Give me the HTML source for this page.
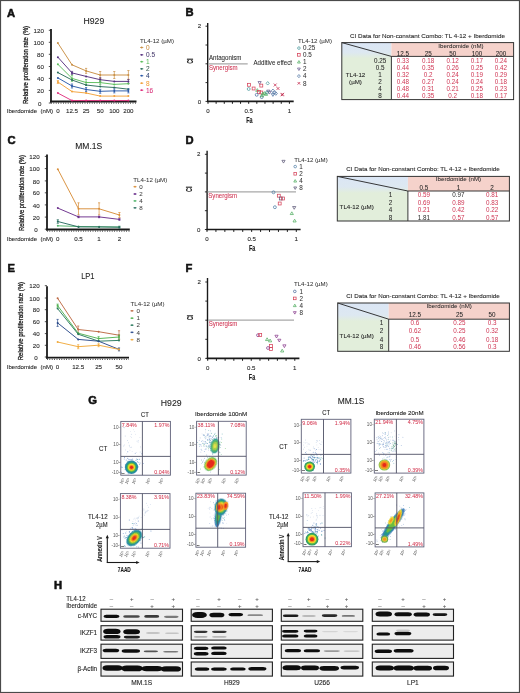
<!DOCTYPE html>
<html><head><meta charset="utf-8"><style>
html,body{margin:0;padding:0;background:#fff;}
svg{display:block;font-family:"Liberation Sans", sans-serif;}
</style></head><body>
<div style="will-change:transform;width:520px;height:693px;filter:blur(0.35px)"><svg width="520" height="693" viewBox="0 0 520 693">
<rect x="0.5" y="0.5" width="519" height="692" fill="#fff" stroke="#4a4a4a" stroke-width="1.2"/>
<text x="7.00" y="16.63" font-size="11.2" font-weight="bold" fill="#111" stroke="#111" stroke-width="0.55">A</text>
<text x="185.50" y="16.03" font-size="11.2" font-weight="bold" fill="#111" stroke="#111" stroke-width="0.55">B</text>
<text x="7.40" y="144.33" font-size="11.2" font-weight="bold" fill="#111" stroke="#111" stroke-width="0.55">C</text>
<text x="185.50" y="144.33" font-size="11.2" font-weight="bold" fill="#111" stroke="#111" stroke-width="0.55">D</text>
<text x="7.40" y="271.83" font-size="11.2" font-weight="bold" fill="#111" stroke="#111" stroke-width="0.55">E</text>
<text x="185.50" y="271.83" font-size="11.2" font-weight="bold" fill="#111" stroke="#111" stroke-width="0.55">F</text>
<text x="88.20" y="403.53" font-size="11.2" font-weight="bold" fill="#111" stroke="#111" stroke-width="0.55">G</text>
<text x="53.90" y="588.53" font-size="11.2" font-weight="bold" fill="#111" stroke="#111" stroke-width="0.55">H</text>
<line x1="51.00" y1="29.00" x2="51.00" y2="102.50" stroke="#1a1a1a" stroke-width="1.8"/>
<line x1="50.00" y1="101.50" x2="136.50" y2="101.50" stroke="#1a1a1a" stroke-width="1.8"/>
<line x1="51.00" y1="103.10" x2="136.50" y2="103.10" stroke="#333" stroke-width="1.2" stroke-dasharray="0.8 1.6"/>
<line x1="48.80" y1="103.00" x2="51.00" y2="103.00" stroke="#222" stroke-width="0.8"/>
<text x="39.80" y="105.63" font-size="6.2" text-anchor="middle" fill="#2a2a2a" stroke="#2a2a2a" stroke-width="0.1">0</text>
<line x1="48.80" y1="90.40" x2="51.00" y2="90.40" stroke="#222" stroke-width="0.8"/>
<text x="43.90" y="93.03" font-size="6.2" text-anchor="end" fill="#2a2a2a" stroke="#2a2a2a" stroke-width="0.1">20</text>
<line x1="48.80" y1="78.40" x2="51.00" y2="78.40" stroke="#222" stroke-width="0.8"/>
<text x="43.90" y="81.03" font-size="6.2" text-anchor="end" fill="#2a2a2a" stroke="#2a2a2a" stroke-width="0.1">40</text>
<line x1="48.80" y1="66.50" x2="51.00" y2="66.50" stroke="#222" stroke-width="0.8"/>
<text x="43.90" y="69.13" font-size="6.2" text-anchor="end" fill="#2a2a2a" stroke="#2a2a2a" stroke-width="0.1">60</text>
<line x1="48.80" y1="54.30" x2="51.00" y2="54.30" stroke="#222" stroke-width="0.8"/>
<text x="43.90" y="56.93" font-size="6.2" text-anchor="end" fill="#2a2a2a" stroke="#2a2a2a" stroke-width="0.1">80</text>
<line x1="48.80" y1="42.30" x2="51.00" y2="42.30" stroke="#222" stroke-width="0.8"/>
<text x="43.90" y="44.93" font-size="6.2" text-anchor="end" fill="#2a2a2a" stroke="#2a2a2a" stroke-width="0.1">100</text>
<line x1="48.80" y1="30.30" x2="51.00" y2="30.30" stroke="#222" stroke-width="0.8"/>
<text x="43.90" y="32.93" font-size="6.2" text-anchor="end" fill="#2a2a2a" stroke="#2a2a2a" stroke-width="0.1">120</text>
<text x="0" y="2.52" font-size="7.0" text-anchor="middle" fill="#161616" transform="translate(25.00,65.00) rotate(-90)" stroke="#161616" stroke-width="0.25" textLength="78" lengthAdjust="spacingAndGlyphs">Relative proliferation rate (%)</text>
<text x="6.70" y="113.23" font-size="6.2" fill="#2a2a2a" stroke="#2a2a2a" stroke-width="0.1" textLength="46.3" lengthAdjust="spacingAndGlyphs">Iberdomide&#160;&#160;(nM)</text>
<text x="57.90" y="113.23" font-size="6.2" text-anchor="middle" fill="#2a2a2a" stroke="#2a2a2a" stroke-width="0.1">0</text>
<text x="72.00" y="113.23" font-size="6.2" text-anchor="middle" fill="#2a2a2a" stroke="#2a2a2a" stroke-width="0.1">12.5</text>
<text x="86.10" y="113.23" font-size="6.2" text-anchor="middle" fill="#2a2a2a" stroke="#2a2a2a" stroke-width="0.1">25</text>
<text x="100.20" y="113.23" font-size="6.2" text-anchor="middle" fill="#2a2a2a" stroke="#2a2a2a" stroke-width="0.1">50</text>
<text x="114.30" y="113.23" font-size="6.2" text-anchor="middle" fill="#2a2a2a" stroke="#2a2a2a" stroke-width="0.1">100</text>
<text x="128.40" y="113.23" font-size="6.2" text-anchor="middle" fill="#2a2a2a" stroke="#2a2a2a" stroke-width="0.1">200</text>
<text x="93.85" y="23.79" font-size="9.0" text-anchor="middle" fill="#1e1e1e" stroke="#1e1e1e" stroke-width="0.1" textLength="20.7" lengthAdjust="spacingAndGlyphs">H929</text>
<polyline points="57.90,43.10 72.00,64.80 86.10,70.90 100.20,75.00 114.30,75.00 128.40,75.00" fill="none" stroke="#c98f44" stroke-width="0.95"/>
<circle cx="57.90" cy="43.10" r="1.00" fill="#c98f44"/>
<circle cx="72.00" cy="64.80" r="1.00" fill="#c98f44"/>
<line x1="86.10" y1="68.40" x2="86.10" y2="73.40" stroke="#c98f44" stroke-width="0.7"/>
<line x1="85.00" y1="68.40" x2="87.20" y2="68.40" stroke="#c98f44" stroke-width="0.7"/>
<line x1="85.00" y1="73.40" x2="87.20" y2="73.40" stroke="#c98f44" stroke-width="0.7"/>
<circle cx="86.10" cy="70.90" r="1.00" fill="#c98f44"/>
<line x1="100.20" y1="71.50" x2="100.20" y2="78.50" stroke="#c98f44" stroke-width="0.7"/>
<line x1="99.10" y1="71.50" x2="101.30" y2="71.50" stroke="#c98f44" stroke-width="0.7"/>
<line x1="99.10" y1="78.50" x2="101.30" y2="78.50" stroke="#c98f44" stroke-width="0.7"/>
<circle cx="100.20" cy="75.00" r="1.00" fill="#c98f44"/>
<line x1="114.30" y1="71.50" x2="114.30" y2="78.50" stroke="#c98f44" stroke-width="0.7"/>
<line x1="113.20" y1="71.50" x2="115.40" y2="71.50" stroke="#c98f44" stroke-width="0.7"/>
<line x1="113.20" y1="78.50" x2="115.40" y2="78.50" stroke="#c98f44" stroke-width="0.7"/>
<circle cx="114.30" cy="75.00" r="1.00" fill="#c98f44"/>
<line x1="128.40" y1="70.50" x2="128.40" y2="79.50" stroke="#c98f44" stroke-width="0.7"/>
<line x1="127.30" y1="70.50" x2="129.50" y2="70.50" stroke="#c98f44" stroke-width="0.7"/>
<line x1="127.30" y1="79.50" x2="129.50" y2="79.50" stroke="#c98f44" stroke-width="0.7"/>
<circle cx="128.40" cy="75.00" r="1.00" fill="#c98f44"/>
<polyline points="57.90,57.20 72.00,72.90 86.10,76.40 100.20,79.70 114.30,81.40 128.40,81.40" fill="none" stroke="#55307e" stroke-width="0.95"/>
<circle cx="57.90" cy="57.20" r="1.00" fill="#55307e"/>
<line x1="72.00" y1="71.40" x2="72.00" y2="74.40" stroke="#55307e" stroke-width="0.7"/>
<line x1="70.90" y1="71.40" x2="73.10" y2="71.40" stroke="#55307e" stroke-width="0.7"/>
<line x1="70.90" y1="74.40" x2="73.10" y2="74.40" stroke="#55307e" stroke-width="0.7"/>
<circle cx="72.00" cy="72.90" r="1.00" fill="#55307e"/>
<circle cx="86.10" cy="76.40" r="1.00" fill="#55307e"/>
<line x1="100.20" y1="77.70" x2="100.20" y2="81.70" stroke="#55307e" stroke-width="0.7"/>
<line x1="99.10" y1="77.70" x2="101.30" y2="77.70" stroke="#55307e" stroke-width="0.7"/>
<line x1="99.10" y1="81.70" x2="101.30" y2="81.70" stroke="#55307e" stroke-width="0.7"/>
<circle cx="100.20" cy="79.70" r="1.00" fill="#55307e"/>
<circle cx="114.30" cy="81.40" r="1.00" fill="#55307e"/>
<line x1="128.40" y1="79.40" x2="128.40" y2="83.40" stroke="#55307e" stroke-width="0.7"/>
<line x1="127.30" y1="79.40" x2="129.50" y2="79.40" stroke="#55307e" stroke-width="0.7"/>
<line x1="127.30" y1="83.40" x2="129.50" y2="83.40" stroke="#55307e" stroke-width="0.7"/>
<circle cx="128.40" cy="81.40" r="1.00" fill="#55307e"/>
<polyline points="57.90,64.30 72.00,78.40 86.10,82.50 100.20,82.60 114.30,84.40 128.40,83.70" fill="none" stroke="#5cbd5c" stroke-width="0.95"/>
<circle cx="57.90" cy="64.30" r="1.00" fill="#5cbd5c"/>
<line x1="72.00" y1="75.40" x2="72.00" y2="81.40" stroke="#5cbd5c" stroke-width="0.7"/>
<line x1="70.90" y1="75.40" x2="73.10" y2="75.40" stroke="#5cbd5c" stroke-width="0.7"/>
<line x1="70.90" y1="81.40" x2="73.10" y2="81.40" stroke="#5cbd5c" stroke-width="0.7"/>
<circle cx="72.00" cy="78.40" r="1.00" fill="#5cbd5c"/>
<line x1="86.10" y1="79.50" x2="86.10" y2="85.50" stroke="#5cbd5c" stroke-width="0.7"/>
<line x1="85.00" y1="79.50" x2="87.20" y2="79.50" stroke="#5cbd5c" stroke-width="0.7"/>
<line x1="85.00" y1="85.50" x2="87.20" y2="85.50" stroke="#5cbd5c" stroke-width="0.7"/>
<circle cx="86.10" cy="82.50" r="1.00" fill="#5cbd5c"/>
<line x1="100.20" y1="80.60" x2="100.20" y2="84.60" stroke="#5cbd5c" stroke-width="0.7"/>
<line x1="99.10" y1="80.60" x2="101.30" y2="80.60" stroke="#5cbd5c" stroke-width="0.7"/>
<line x1="99.10" y1="84.60" x2="101.30" y2="84.60" stroke="#5cbd5c" stroke-width="0.7"/>
<circle cx="100.20" cy="82.60" r="1.00" fill="#5cbd5c"/>
<circle cx="114.30" cy="84.40" r="1.00" fill="#5cbd5c"/>
<circle cx="128.40" cy="83.70" r="1.00" fill="#5cbd5c"/>
<polyline points="57.90,72.60 72.00,80.00 86.10,85.00 100.20,86.60 114.30,87.50 128.40,89.20" fill="none" stroke="#2c6e5c" stroke-width="0.95"/>
<circle cx="57.90" cy="72.60" r="1.00" fill="#2c6e5c"/>
<circle cx="72.00" cy="80.00" r="1.00" fill="#2c6e5c"/>
<circle cx="86.10" cy="85.00" r="1.00" fill="#2c6e5c"/>
<circle cx="100.20" cy="86.60" r="1.00" fill="#2c6e5c"/>
<circle cx="114.30" cy="87.50" r="1.00" fill="#2c6e5c"/>
<circle cx="128.40" cy="89.20" r="1.00" fill="#2c6e5c"/>
<polyline points="57.90,77.90 72.00,86.00 86.10,89.50 100.20,91.30 114.30,90.90 128.40,90.90" fill="none" stroke="#2a58a6" stroke-width="0.95"/>
<circle cx="57.90" cy="77.90" r="1.00" fill="#2a58a6"/>
<line x1="72.00" y1="84.00" x2="72.00" y2="88.00" stroke="#2a58a6" stroke-width="0.7"/>
<line x1="70.90" y1="84.00" x2="73.10" y2="84.00" stroke="#2a58a6" stroke-width="0.7"/>
<line x1="70.90" y1="88.00" x2="73.10" y2="88.00" stroke="#2a58a6" stroke-width="0.7"/>
<circle cx="72.00" cy="86.00" r="1.00" fill="#2a58a6"/>
<line x1="86.10" y1="87.50" x2="86.10" y2="91.50" stroke="#2a58a6" stroke-width="0.7"/>
<line x1="85.00" y1="87.50" x2="87.20" y2="87.50" stroke="#2a58a6" stroke-width="0.7"/>
<line x1="85.00" y1="91.50" x2="87.20" y2="91.50" stroke="#2a58a6" stroke-width="0.7"/>
<circle cx="86.10" cy="89.50" r="1.00" fill="#2a58a6"/>
<line x1="100.20" y1="89.30" x2="100.20" y2="93.30" stroke="#2a58a6" stroke-width="0.7"/>
<line x1="99.10" y1="89.30" x2="101.30" y2="89.30" stroke="#2a58a6" stroke-width="0.7"/>
<line x1="99.10" y1="93.30" x2="101.30" y2="93.30" stroke="#2a58a6" stroke-width="0.7"/>
<circle cx="100.20" cy="91.30" r="1.00" fill="#2a58a6"/>
<line x1="114.30" y1="88.90" x2="114.30" y2="92.90" stroke="#2a58a6" stroke-width="0.7"/>
<line x1="113.20" y1="88.90" x2="115.40" y2="88.90" stroke="#2a58a6" stroke-width="0.7"/>
<line x1="113.20" y1="92.90" x2="115.40" y2="92.90" stroke="#2a58a6" stroke-width="0.7"/>
<circle cx="114.30" cy="90.90" r="1.00" fill="#2a58a6"/>
<line x1="128.40" y1="88.90" x2="128.40" y2="92.90" stroke="#2a58a6" stroke-width="0.7"/>
<line x1="127.30" y1="88.90" x2="129.50" y2="88.90" stroke="#2a58a6" stroke-width="0.7"/>
<line x1="127.30" y1="92.90" x2="129.50" y2="92.90" stroke="#2a58a6" stroke-width="0.7"/>
<circle cx="128.40" cy="90.90" r="1.00" fill="#2a58a6"/>
<polyline points="57.90,82.00 72.00,91.60 86.10,93.00 100.20,96.10 114.30,96.10 128.40,96.10" fill="none" stroke="#f2a23c" stroke-width="0.95"/>
<line x1="57.90" y1="80.50" x2="57.90" y2="83.50" stroke="#f2a23c" stroke-width="0.7"/>
<line x1="56.80" y1="80.50" x2="59.00" y2="80.50" stroke="#f2a23c" stroke-width="0.7"/>
<line x1="56.80" y1="83.50" x2="59.00" y2="83.50" stroke="#f2a23c" stroke-width="0.7"/>
<circle cx="57.90" cy="82.00" r="1.00" fill="#f2a23c"/>
<circle cx="72.00" cy="91.60" r="1.00" fill="#f2a23c"/>
<circle cx="86.10" cy="93.00" r="1.00" fill="#f2a23c"/>
<circle cx="100.20" cy="96.10" r="1.00" fill="#f2a23c"/>
<circle cx="114.30" cy="96.10" r="1.00" fill="#f2a23c"/>
<circle cx="128.40" cy="96.10" r="1.00" fill="#f2a23c"/>
<polyline points="57.90,93.10 72.00,100.60 86.10,100.60 100.20,100.60 114.30,100.60 128.40,100.60" fill="none" stroke="#e0317e" stroke-width="0.95"/>
<circle cx="57.90" cy="93.10" r="1.00" fill="#e0317e"/>
<circle cx="72.00" cy="100.60" r="1.00" fill="#e0317e"/>
<circle cx="86.10" cy="100.60" r="1.00" fill="#e0317e"/>
<circle cx="100.20" cy="100.60" r="1.00" fill="#e0317e"/>
<circle cx="114.30" cy="100.60" r="1.00" fill="#e0317e"/>
<circle cx="128.40" cy="100.60" r="1.00" fill="#e0317e"/>
<text x="140.00" y="42.80" font-size="6.1" fill="#333" stroke="#333" stroke-width="0.04" textLength="34" lengthAdjust="spacingAndGlyphs">TL4-12 (&#181;M)</text>
<line x1="140.10" y1="47.50" x2="143.30" y2="47.50" stroke="#c98f44" stroke-width="0.8"/>
<circle cx="141.70" cy="47.50" r="0.90" fill="#c98f44"/>
<text x="146.00" y="49.84" font-size="6.5" fill="#c98f44" stroke="#c98f44" stroke-width="0.06">0</text>
<line x1="140.10" y1="54.80" x2="143.30" y2="54.80" stroke="#55307e" stroke-width="0.8"/>
<circle cx="141.70" cy="54.80" r="0.90" fill="#55307e"/>
<text x="146.00" y="57.14" font-size="6.5" fill="#4a3d6e" stroke="#4a3d6e" stroke-width="0.06">0.5</text>
<line x1="140.10" y1="61.70" x2="143.30" y2="61.70" stroke="#5cbd5c" stroke-width="0.8"/>
<circle cx="141.70" cy="61.70" r="0.90" fill="#5cbd5c"/>
<text x="146.00" y="64.04" font-size="6.5" fill="#5cbd5c" stroke="#5cbd5c" stroke-width="0.06">1</text>
<line x1="140.10" y1="68.80" x2="143.30" y2="68.80" stroke="#2c6e5c" stroke-width="0.8"/>
<circle cx="141.70" cy="68.80" r="0.90" fill="#2c6e5c"/>
<text x="146.00" y="71.14" font-size="6.5" fill="#3f5d54" stroke="#3f5d54" stroke-width="0.06">2</text>
<line x1="140.10" y1="75.70" x2="143.30" y2="75.70" stroke="#2a58a6" stroke-width="0.8"/>
<circle cx="141.70" cy="75.70" r="0.90" fill="#2a58a6"/>
<text x="146.00" y="78.04" font-size="6.5" fill="#2a3d70" stroke="#2a3d70" stroke-width="0.06">4</text>
<line x1="140.10" y1="83.20" x2="143.30" y2="83.20" stroke="#f2a23c" stroke-width="0.8"/>
<circle cx="141.70" cy="83.20" r="0.90" fill="#f2a23c"/>
<text x="146.00" y="85.54" font-size="6.5" fill="#f2a23c" stroke="#f2a23c" stroke-width="0.06">8</text>
<line x1="140.10" y1="90.20" x2="143.30" y2="90.20" stroke="#e0317e" stroke-width="0.8"/>
<circle cx="141.70" cy="90.20" r="0.90" fill="#e0317e"/>
<text x="146.00" y="92.54" font-size="6.5" fill="#d8317a" stroke="#d8317a" stroke-width="0.06">16</text>
<line x1="47.00" y1="154.50" x2="47.00" y2="230.50" stroke="#1a1a1a" stroke-width="1.8"/>
<line x1="46.00" y1="229.50" x2="129.80" y2="229.50" stroke="#1a1a1a" stroke-width="1.8"/>
<line x1="47.00" y1="231.10" x2="129.80" y2="231.10" stroke="#333" stroke-width="1.2" stroke-dasharray="0.8 1.6"/>
<line x1="44.80" y1="229.20" x2="47.00" y2="229.20" stroke="#222" stroke-width="0.8"/>
<text x="36.10" y="231.83" font-size="6.2" text-anchor="middle" fill="#2a2a2a" stroke="#2a2a2a" stroke-width="0.1">0</text>
<line x1="44.80" y1="217.10" x2="47.00" y2="217.10" stroke="#222" stroke-width="0.8"/>
<text x="39.70" y="219.73" font-size="6.2" text-anchor="end" fill="#2a2a2a" stroke="#2a2a2a" stroke-width="0.1">20</text>
<line x1="44.80" y1="204.90" x2="47.00" y2="204.90" stroke="#222" stroke-width="0.8"/>
<text x="39.70" y="207.53" font-size="6.2" text-anchor="end" fill="#2a2a2a" stroke="#2a2a2a" stroke-width="0.1">40</text>
<line x1="44.80" y1="192.80" x2="47.00" y2="192.80" stroke="#222" stroke-width="0.8"/>
<text x="39.70" y="195.43" font-size="6.2" text-anchor="end" fill="#2a2a2a" stroke="#2a2a2a" stroke-width="0.1">60</text>
<line x1="44.80" y1="180.90" x2="47.00" y2="180.90" stroke="#222" stroke-width="0.8"/>
<text x="39.70" y="183.53" font-size="6.2" text-anchor="end" fill="#2a2a2a" stroke="#2a2a2a" stroke-width="0.1">80</text>
<line x1="44.80" y1="168.60" x2="47.00" y2="168.60" stroke="#222" stroke-width="0.8"/>
<text x="39.70" y="171.23" font-size="6.2" text-anchor="end" fill="#2a2a2a" stroke="#2a2a2a" stroke-width="0.1">100</text>
<line x1="44.80" y1="156.40" x2="47.00" y2="156.40" stroke="#222" stroke-width="0.8"/>
<text x="39.70" y="159.03" font-size="6.2" text-anchor="end" fill="#2a2a2a" stroke="#2a2a2a" stroke-width="0.1">120</text>
<text x="0" y="2.52" font-size="7.0" text-anchor="middle" fill="#161616" transform="translate(21.00,193.00) rotate(-90)" stroke="#161616" stroke-width="0.25" textLength="76" lengthAdjust="spacingAndGlyphs">Relative proliferation rate (%)</text>
<text x="6.70" y="240.53" font-size="6.2" fill="#2a2a2a" stroke="#2a2a2a" stroke-width="0.1" textLength="46.3" lengthAdjust="spacingAndGlyphs">Iberdomide&#160;&#160;(nM)</text>
<text x="57.80" y="240.53" font-size="6.2" text-anchor="middle" fill="#2a2a2a" stroke="#2a2a2a" stroke-width="0.1">0</text>
<text x="78.50" y="240.53" font-size="6.2" text-anchor="middle" fill="#2a2a2a" stroke="#2a2a2a" stroke-width="0.1">0.5</text>
<text x="99.10" y="240.53" font-size="6.2" text-anchor="middle" fill="#2a2a2a" stroke="#2a2a2a" stroke-width="0.1">1</text>
<text x="119.40" y="240.53" font-size="6.2" text-anchor="middle" fill="#2a2a2a" stroke="#2a2a2a" stroke-width="0.1">2</text>
<text x="88.70" y="148.89" font-size="9.0" text-anchor="middle" fill="#1e1e1e" stroke="#1e1e1e" stroke-width="0.1" textLength="27" lengthAdjust="spacingAndGlyphs">MM.1S</text>
<polyline points="57.80,169.20 78.50,208.80 99.10,208.80 119.40,215.00" fill="none" stroke="#d88e3a" stroke-width="0.95"/>
<circle cx="57.80" cy="169.20" r="1.00" fill="#d88e3a"/>
<line x1="78.50" y1="202.80" x2="78.50" y2="214.80" stroke="#d88e3a" stroke-width="0.7"/>
<line x1="77.40" y1="202.80" x2="79.60" y2="202.80" stroke="#d88e3a" stroke-width="0.7"/>
<line x1="77.40" y1="214.80" x2="79.60" y2="214.80" stroke="#d88e3a" stroke-width="0.7"/>
<circle cx="78.50" cy="208.80" r="1.00" fill="#d88e3a"/>
<line x1="99.10" y1="202.80" x2="99.10" y2="214.80" stroke="#d88e3a" stroke-width="0.7"/>
<line x1="98.00" y1="202.80" x2="100.20" y2="202.80" stroke="#d88e3a" stroke-width="0.7"/>
<line x1="98.00" y1="214.80" x2="100.20" y2="214.80" stroke="#d88e3a" stroke-width="0.7"/>
<circle cx="99.10" cy="208.80" r="1.00" fill="#d88e3a"/>
<line x1="119.40" y1="212.50" x2="119.40" y2="217.50" stroke="#d88e3a" stroke-width="0.7"/>
<line x1="118.30" y1="212.50" x2="120.50" y2="212.50" stroke="#d88e3a" stroke-width="0.7"/>
<line x1="118.30" y1="217.50" x2="120.50" y2="217.50" stroke="#d88e3a" stroke-width="0.7"/>
<circle cx="119.40" cy="215.00" r="1.00" fill="#d88e3a"/>
<polyline points="57.80,208.10 78.50,216.90 99.10,216.90 119.40,219.40" fill="none" stroke="#6b2f8c" stroke-width="0.95"/>
<circle cx="57.80" cy="208.10" r="1.00" fill="#6b2f8c"/>
<line x1="78.50" y1="216.10" x2="78.50" y2="217.70" stroke="#6b2f8c" stroke-width="0.7"/>
<line x1="77.40" y1="216.10" x2="79.60" y2="216.10" stroke="#6b2f8c" stroke-width="0.7"/>
<line x1="77.40" y1="217.70" x2="79.60" y2="217.70" stroke="#6b2f8c" stroke-width="0.7"/>
<circle cx="78.50" cy="216.90" r="1.00" fill="#6b2f8c"/>
<line x1="99.10" y1="216.10" x2="99.10" y2="217.70" stroke="#6b2f8c" stroke-width="0.7"/>
<line x1="98.00" y1="216.10" x2="100.20" y2="216.10" stroke="#6b2f8c" stroke-width="0.7"/>
<line x1="98.00" y1="217.70" x2="100.20" y2="217.70" stroke="#6b2f8c" stroke-width="0.7"/>
<circle cx="99.10" cy="216.90" r="1.00" fill="#6b2f8c"/>
<line x1="119.40" y1="218.60" x2="119.40" y2="220.20" stroke="#6b2f8c" stroke-width="0.7"/>
<line x1="118.30" y1="218.60" x2="120.50" y2="218.60" stroke="#6b2f8c" stroke-width="0.7"/>
<line x1="118.30" y1="220.20" x2="120.50" y2="220.20" stroke="#6b2f8c" stroke-width="0.7"/>
<circle cx="119.40" cy="219.40" r="1.00" fill="#6b2f8c"/>
<polyline points="57.80,225.80 78.50,226.50 99.10,226.80 119.40,227.00" fill="none" stroke="#4fb36a" stroke-width="0.95"/>
<circle cx="57.80" cy="225.80" r="1.00" fill="#4fb36a"/>
<circle cx="78.50" cy="226.50" r="1.00" fill="#4fb36a"/>
<circle cx="99.10" cy="226.80" r="1.00" fill="#4fb36a"/>
<circle cx="119.40" cy="227.00" r="1.00" fill="#4fb36a"/>
<polyline points="57.80,221.50 78.50,226.90 99.10,226.90 119.40,227.20" fill="none" stroke="#2b6e62" stroke-width="0.95"/>
<line x1="57.80" y1="219.70" x2="57.80" y2="223.30" stroke="#2b6e62" stroke-width="0.7"/>
<line x1="56.70" y1="219.70" x2="58.90" y2="219.70" stroke="#2b6e62" stroke-width="0.7"/>
<line x1="56.70" y1="223.30" x2="58.90" y2="223.30" stroke="#2b6e62" stroke-width="0.7"/>
<circle cx="57.80" cy="221.50" r="1.00" fill="#2b6e62"/>
<circle cx="78.50" cy="226.90" r="1.00" fill="#2b6e62"/>
<circle cx="99.10" cy="226.90" r="1.00" fill="#2b6e62"/>
<line x1="119.40" y1="226.20" x2="119.40" y2="228.20" stroke="#2b6e62" stroke-width="0.7"/>
<line x1="118.30" y1="226.20" x2="120.50" y2="226.20" stroke="#2b6e62" stroke-width="0.7"/>
<line x1="118.30" y1="228.20" x2="120.50" y2="228.20" stroke="#2b6e62" stroke-width="0.7"/>
<circle cx="119.40" cy="227.20" r="1.00" fill="#2b6e62"/>
<text x="133.30" y="182.00" font-size="6.1" fill="#333" stroke="#333" stroke-width="0.04" textLength="34" lengthAdjust="spacingAndGlyphs">TL4-12 (&#181;M)</text>
<line x1="133.40" y1="186.70" x2="136.60" y2="186.70" stroke="#d88e3a" stroke-width="0.8"/>
<circle cx="135.00" cy="186.70" r="0.90" fill="#d88e3a"/>
<text x="139.30" y="188.93" font-size="6.2" fill="#3a3a3a" stroke="#3a3a3a" stroke-width="0.03">0</text>
<line x1="133.40" y1="194.00" x2="136.60" y2="194.00" stroke="#6b2f8c" stroke-width="0.8"/>
<circle cx="135.00" cy="194.00" r="0.90" fill="#6b2f8c"/>
<text x="139.30" y="196.23" font-size="6.2" fill="#3a3a3a" stroke="#3a3a3a" stroke-width="0.03">2</text>
<line x1="133.40" y1="200.90" x2="136.60" y2="200.90" stroke="#4fb36a" stroke-width="0.8"/>
<circle cx="135.00" cy="200.90" r="0.90" fill="#4fb36a"/>
<text x="139.30" y="203.13" font-size="6.2" fill="#3a3a3a" stroke="#3a3a3a" stroke-width="0.03">4</text>
<line x1="133.40" y1="207.80" x2="136.60" y2="207.80" stroke="#2b6e62" stroke-width="0.8"/>
<circle cx="135.00" cy="207.80" r="0.90" fill="#2b6e62"/>
<text x="139.30" y="210.03" font-size="6.2" fill="#3a3a3a" stroke="#3a3a3a" stroke-width="0.03">8</text>
<line x1="47.00" y1="286.30" x2="47.00" y2="358.70" stroke="#1a1a1a" stroke-width="1.8"/>
<line x1="46.00" y1="357.70" x2="129.00" y2="357.70" stroke="#1a1a1a" stroke-width="1.8"/>
<line x1="47.00" y1="359.30" x2="129.00" y2="359.30" stroke="#333" stroke-width="1.2" stroke-dasharray="0.8 1.6"/>
<line x1="44.80" y1="357.00" x2="47.00" y2="357.00" stroke="#222" stroke-width="0.8"/>
<text x="35.90" y="359.63" font-size="6.2" text-anchor="middle" fill="#2a2a2a" stroke="#2a2a2a" stroke-width="0.1">0</text>
<line x1="44.80" y1="345.30" x2="47.00" y2="345.30" stroke="#222" stroke-width="0.8"/>
<text x="39.70" y="347.93" font-size="6.2" text-anchor="end" fill="#2a2a2a" stroke="#2a2a2a" stroke-width="0.1">20</text>
<line x1="44.80" y1="333.60" x2="47.00" y2="333.60" stroke="#222" stroke-width="0.8"/>
<text x="39.70" y="336.23" font-size="6.2" text-anchor="end" fill="#2a2a2a" stroke="#2a2a2a" stroke-width="0.1">40</text>
<line x1="44.80" y1="321.70" x2="47.00" y2="321.70" stroke="#222" stroke-width="0.8"/>
<text x="39.70" y="324.33" font-size="6.2" text-anchor="end" fill="#2a2a2a" stroke="#2a2a2a" stroke-width="0.1">60</text>
<line x1="44.80" y1="309.70" x2="47.00" y2="309.70" stroke="#222" stroke-width="0.8"/>
<text x="39.70" y="312.33" font-size="6.2" text-anchor="end" fill="#2a2a2a" stroke="#2a2a2a" stroke-width="0.1">80</text>
<line x1="44.80" y1="298.00" x2="47.00" y2="298.00" stroke="#222" stroke-width="0.8"/>
<text x="39.70" y="300.63" font-size="6.2" text-anchor="end" fill="#2a2a2a" stroke="#2a2a2a" stroke-width="0.1">100</text>
<line x1="44.80" y1="285.70" x2="47.00" y2="285.70" stroke="#222" stroke-width="0.8"/>
<text x="39.70" y="288.33" font-size="6.2" text-anchor="end" fill="#2a2a2a" stroke="#2a2a2a" stroke-width="0.1">120</text>
<text x="0" y="2.52" font-size="7.0" text-anchor="middle" fill="#161616" transform="translate(20.50,321.10) rotate(-90)" stroke="#161616" stroke-width="0.25" textLength="78.5" lengthAdjust="spacingAndGlyphs">Relative proliferation rate (%)</text>
<text x="6.70" y="369.23" font-size="6.2" fill="#2a2a2a" stroke="#2a2a2a" stroke-width="0.1" textLength="46.3" lengthAdjust="spacingAndGlyphs">Iberdomide&#160;&#160;(nM)</text>
<text x="57.60" y="369.23" font-size="6.2" text-anchor="middle" fill="#2a2a2a" stroke="#2a2a2a" stroke-width="0.1">0</text>
<text x="78.20" y="369.23" font-size="6.2" text-anchor="middle" fill="#2a2a2a" stroke="#2a2a2a" stroke-width="0.1">12.5</text>
<text x="98.60" y="369.23" font-size="6.2" text-anchor="middle" fill="#2a2a2a" stroke="#2a2a2a" stroke-width="0.1">25</text>
<text x="119.00" y="369.23" font-size="6.2" text-anchor="middle" fill="#2a2a2a" stroke="#2a2a2a" stroke-width="0.1">50</text>
<text x="87.85" y="278.74" font-size="9.0" text-anchor="middle" fill="#1e1e1e" stroke="#1e1e1e" stroke-width="0.1" textLength="13.3" lengthAdjust="spacingAndGlyphs">LP1</text>
<polyline points="57.60,298.20 78.20,329.50 98.60,331.70 119.00,335.20" fill="none" stroke="#bd6a45" stroke-width="0.95"/>
<circle cx="57.60" cy="298.20" r="1.00" fill="#bd6a45"/>
<line x1="78.20" y1="326.00" x2="78.20" y2="333.00" stroke="#bd6a45" stroke-width="0.7"/>
<line x1="77.10" y1="326.00" x2="79.30" y2="326.00" stroke="#bd6a45" stroke-width="0.7"/>
<line x1="77.10" y1="333.00" x2="79.30" y2="333.00" stroke="#bd6a45" stroke-width="0.7"/>
<circle cx="78.20" cy="329.50" r="1.00" fill="#bd6a45"/>
<circle cx="98.60" cy="331.70" r="1.00" fill="#bd6a45"/>
<line x1="119.00" y1="330.70" x2="119.00" y2="339.70" stroke="#bd6a45" stroke-width="0.7"/>
<line x1="117.90" y1="330.70" x2="120.10" y2="330.70" stroke="#bd6a45" stroke-width="0.7"/>
<line x1="117.90" y1="339.70" x2="120.10" y2="339.70" stroke="#bd6a45" stroke-width="0.7"/>
<circle cx="119.00" cy="335.20" r="1.00" fill="#bd6a45"/>
<polyline points="57.60,305.60 78.20,333.20 98.60,338.60 119.00,337.00" fill="none" stroke="#52b352" stroke-width="0.95"/>
<line x1="57.60" y1="304.10" x2="57.60" y2="307.10" stroke="#52b352" stroke-width="0.7"/>
<line x1="56.50" y1="304.10" x2="58.70" y2="304.10" stroke="#52b352" stroke-width="0.7"/>
<line x1="56.50" y1="307.10" x2="58.70" y2="307.10" stroke="#52b352" stroke-width="0.7"/>
<circle cx="57.60" cy="305.60" r="1.00" fill="#52b352"/>
<circle cx="78.20" cy="333.20" r="1.00" fill="#52b352"/>
<line x1="98.60" y1="336.60" x2="98.60" y2="340.60" stroke="#52b352" stroke-width="0.7"/>
<line x1="97.50" y1="336.60" x2="99.70" y2="336.60" stroke="#52b352" stroke-width="0.7"/>
<line x1="97.50" y1="340.60" x2="99.70" y2="340.60" stroke="#52b352" stroke-width="0.7"/>
<circle cx="98.60" cy="338.60" r="1.00" fill="#52b352"/>
<line x1="119.00" y1="335.00" x2="119.00" y2="339.00" stroke="#52b352" stroke-width="0.7"/>
<line x1="117.90" y1="335.00" x2="120.10" y2="335.00" stroke="#52b352" stroke-width="0.7"/>
<line x1="117.90" y1="339.00" x2="120.10" y2="339.00" stroke="#52b352" stroke-width="0.7"/>
<circle cx="119.00" cy="337.00" r="1.00" fill="#52b352"/>
<polyline points="57.60,308.60 78.20,334.20 98.60,341.20 119.00,340.40" fill="none" stroke="#2a7a5e" stroke-width="0.95"/>
<circle cx="57.60" cy="308.60" r="1.00" fill="#2a7a5e"/>
<circle cx="78.20" cy="334.20" r="1.00" fill="#2a7a5e"/>
<circle cx="98.60" cy="341.20" r="1.00" fill="#2a7a5e"/>
<circle cx="119.00" cy="340.40" r="1.00" fill="#2a7a5e"/>
<polyline points="57.60,322.90 78.20,339.40 98.60,341.20 119.00,349.40" fill="none" stroke="#2a4a8a" stroke-width="0.95"/>
<line x1="57.60" y1="319.40" x2="57.60" y2="326.40" stroke="#2a4a8a" stroke-width="0.7"/>
<line x1="56.50" y1="319.40" x2="58.70" y2="319.40" stroke="#2a4a8a" stroke-width="0.7"/>
<line x1="56.50" y1="326.40" x2="58.70" y2="326.40" stroke="#2a4a8a" stroke-width="0.7"/>
<circle cx="57.60" cy="322.90" r="1.00" fill="#2a4a8a"/>
<circle cx="78.20" cy="339.40" r="1.00" fill="#2a4a8a"/>
<circle cx="98.60" cy="341.20" r="1.00" fill="#2a4a8a"/>
<line x1="119.00" y1="347.90" x2="119.00" y2="350.90" stroke="#2a4a8a" stroke-width="0.7"/>
<line x1="117.90" y1="347.90" x2="120.10" y2="347.90" stroke="#2a4a8a" stroke-width="0.7"/>
<line x1="117.90" y1="350.90" x2="120.10" y2="350.90" stroke="#2a4a8a" stroke-width="0.7"/>
<circle cx="119.00" cy="349.40" r="1.00" fill="#2a4a8a"/>
<polyline points="57.60,342.00 78.20,346.70 98.60,345.20 119.00,349.40" fill="none" stroke="#f0aa3c" stroke-width="0.95"/>
<circle cx="57.60" cy="342.00" r="1.00" fill="#f0aa3c"/>
<line x1="78.20" y1="344.70" x2="78.20" y2="348.70" stroke="#f0aa3c" stroke-width="0.7"/>
<line x1="77.10" y1="344.70" x2="79.30" y2="344.70" stroke="#f0aa3c" stroke-width="0.7"/>
<line x1="77.10" y1="348.70" x2="79.30" y2="348.70" stroke="#f0aa3c" stroke-width="0.7"/>
<circle cx="78.20" cy="346.70" r="1.00" fill="#f0aa3c"/>
<line x1="98.60" y1="343.70" x2="98.60" y2="346.70" stroke="#f0aa3c" stroke-width="0.7"/>
<line x1="97.50" y1="343.70" x2="99.70" y2="343.70" stroke="#f0aa3c" stroke-width="0.7"/>
<line x1="97.50" y1="346.70" x2="99.70" y2="346.70" stroke="#f0aa3c" stroke-width="0.7"/>
<circle cx="98.60" cy="345.20" r="1.00" fill="#f0aa3c"/>
<circle cx="119.00" cy="349.40" r="1.00" fill="#f0aa3c"/>
<text x="130.50" y="306.00" font-size="6.1" fill="#333" stroke="#333" stroke-width="0.04" textLength="34" lengthAdjust="spacingAndGlyphs">TL4-12 (&#181;M)</text>
<line x1="130.40" y1="310.80" x2="133.60" y2="310.80" stroke="#bd6a45" stroke-width="0.8"/>
<circle cx="132.00" cy="310.80" r="0.90" fill="#bd6a45"/>
<text x="136.50" y="313.03" font-size="6.2" fill="#3a3a3a" stroke="#3a3a3a" stroke-width="0.03">0</text>
<line x1="130.40" y1="318.20" x2="133.60" y2="318.20" stroke="#52b352" stroke-width="0.8"/>
<circle cx="132.00" cy="318.20" r="0.90" fill="#52b352"/>
<text x="136.50" y="320.43" font-size="6.2" fill="#3a3a3a" stroke="#3a3a3a" stroke-width="0.03">1</text>
<line x1="130.40" y1="325.20" x2="133.60" y2="325.20" stroke="#2a7a5e" stroke-width="0.8"/>
<circle cx="132.00" cy="325.20" r="0.90" fill="#2a7a5e"/>
<text x="136.50" y="327.43" font-size="6.2" fill="#3a3a3a" stroke="#3a3a3a" stroke-width="0.03">2</text>
<line x1="130.40" y1="332.30" x2="133.60" y2="332.30" stroke="#2a4a8a" stroke-width="0.8"/>
<circle cx="132.00" cy="332.30" r="0.90" fill="#2a4a8a"/>
<text x="136.50" y="334.53" font-size="6.2" fill="#3a3a3a" stroke="#3a3a3a" stroke-width="0.03">4</text>
<line x1="130.40" y1="339.70" x2="133.60" y2="339.70" stroke="#f0aa3c" stroke-width="0.8"/>
<circle cx="132.00" cy="339.70" r="0.90" fill="#f0aa3c"/>
<text x="136.50" y="341.93" font-size="6.2" fill="#3a3a3a" stroke="#3a3a3a" stroke-width="0.03">8</text>
<line x1="207.70" y1="23.00" x2="207.70" y2="102.10" stroke="#1a1a1a" stroke-width="1.4"/>
<line x1="207.00" y1="101.40" x2="293.70" y2="101.40" stroke="#1a1a1a" stroke-width="1.6"/>
<line x1="208.00" y1="101.40" x2="208.00" y2="103.80" stroke="#1a1a1a" stroke-width="1.0"/>
<line x1="216.14" y1="101.40" x2="216.14" y2="103.80" stroke="#1a1a1a" stroke-width="1.0"/>
<line x1="224.28" y1="101.40" x2="224.28" y2="103.80" stroke="#1a1a1a" stroke-width="1.0"/>
<line x1="232.42" y1="101.40" x2="232.42" y2="103.80" stroke="#1a1a1a" stroke-width="1.0"/>
<line x1="240.56" y1="101.40" x2="240.56" y2="103.80" stroke="#1a1a1a" stroke-width="1.0"/>
<line x1="248.70" y1="101.40" x2="248.70" y2="103.80" stroke="#1a1a1a" stroke-width="1.0"/>
<line x1="256.84" y1="101.40" x2="256.84" y2="103.80" stroke="#1a1a1a" stroke-width="1.0"/>
<line x1="264.98" y1="101.40" x2="264.98" y2="103.80" stroke="#1a1a1a" stroke-width="1.0"/>
<line x1="273.12" y1="101.40" x2="273.12" y2="103.80" stroke="#1a1a1a" stroke-width="1.0"/>
<line x1="281.26" y1="101.40" x2="281.26" y2="103.80" stroke="#1a1a1a" stroke-width="1.0"/>
<line x1="289.40" y1="101.40" x2="289.40" y2="103.80" stroke="#1a1a1a" stroke-width="1.0"/>
<line x1="205.50" y1="101.40" x2="207.70" y2="101.40" stroke="#1a1a1a" stroke-width="0.9"/>
<line x1="205.50" y1="82.60" x2="207.70" y2="82.60" stroke="#1a1a1a" stroke-width="0.9"/>
<line x1="205.50" y1="63.80" x2="207.70" y2="63.80" stroke="#1a1a1a" stroke-width="0.9"/>
<line x1="205.50" y1="45.00" x2="207.70" y2="45.00" stroke="#1a1a1a" stroke-width="0.9"/>
<line x1="205.50" y1="26.20" x2="207.70" y2="26.20" stroke="#1a1a1a" stroke-width="0.9"/>
<text x="199.40" y="28.30" font-size="6.1" text-anchor="middle" fill="#2a2a2a" stroke="#2a2a2a" stroke-width="0.1">2</text>
<text x="199.40" y="103.70" font-size="6.1" text-anchor="middle" fill="#2a2a2a" stroke="#2a2a2a" stroke-width="0.1">0</text>
<text x="208.00" y="112.80" font-size="6.1" text-anchor="middle" fill="#2a2a2a" stroke="#2a2a2a" stroke-width="0.1">0</text>
<text x="248.70" y="112.80" font-size="6.1" text-anchor="middle" fill="#2a2a2a" stroke="#2a2a2a" stroke-width="0.1">0.5</text>
<text x="289.40" y="112.80" font-size="6.1" text-anchor="middle" fill="#2a2a2a" stroke="#2a2a2a" stroke-width="0.1">1</text>
<text x="249.30" y="123.02" font-size="8.4" text-anchor="middle" font-weight="bold" fill="#222" stroke="#222" stroke-width="0.15" textLength="6.3" lengthAdjust="spacingAndGlyphs">Fa</text>
<text x="0" y="3.10" font-size="8.6" text-anchor="middle" font-weight="bold" fill="#222" transform="translate(189.60,61.20) rotate(-90)" stroke="#222" stroke-width="0.15" textLength="5.3" lengthAdjust="spacingAndGlyphs">CI</text>
<line x1="208.20" y1="63.80" x2="247.70" y2="63.80" stroke="#a8a8a8" stroke-width="1.3"/>
<text x="208.90" y="69.60" font-size="6.4" fill="#cf3553" stroke="#cf3553" stroke-width="0.06" textLength="28.7" lengthAdjust="spacingAndGlyphs">Synergism</text>
<text x="208.90" y="59.70" font-size="6.4" fill="#2a2a2a" stroke="#2a2a2a" stroke-width="0.06" textLength="32.5" lengthAdjust="spacingAndGlyphs">Antagonism</text>
<text x="253.50" y="64.50" font-size="6.4" fill="#2a2a2a" stroke="#2a2a2a" stroke-width="0.06" textLength="38.5" lengthAdjust="spacingAndGlyphs">Additive effect</text>
<text x="298.00" y="43.10" font-size="6.1" fill="#333" stroke="#333" stroke-width="0.04" textLength="34" lengthAdjust="spacingAndGlyphs">TL4-12 (&#181;M)</text>
<circle cx="298.90" cy="48.10" r="1.30" fill="none" stroke="#4b9a9e" stroke-width="0.75"/>
<text x="303.00" y="50.37" font-size="6.3" fill="#333" stroke="#333" stroke-width="0.04">0.25</text>
<rect x="297.60" y="53.60" width="2.60" height="2.60" fill="none" stroke="#d5435a" stroke-width="0.75"/>
<text x="303.00" y="57.17" font-size="6.3" fill="#333" stroke="#333" stroke-width="0.04">0.5</text>
<path d="M298.90,60.57 L300.33,63.04 L297.47,63.04Z" fill="none" stroke="#52ad62" stroke-width="0.75"/>
<text x="303.00" y="64.27" font-size="6.3" fill="#333" stroke="#333" stroke-width="0.04">1</text>
<path d="M298.90,70.53 L300.33,68.06 L297.47,68.06Z" fill="none" stroke="#6c5f92" stroke-width="0.75"/>
<text x="303.00" y="71.37" font-size="6.3" fill="#333" stroke="#333" stroke-width="0.04">2</text>
<path d="M298.90,74.54 L300.33,76.10 L298.90,77.66 L297.47,76.10Z" fill="none" stroke="#4a70a0" stroke-width="0.75"/>
<text x="303.00" y="78.37" font-size="6.3" fill="#333" stroke="#333" stroke-width="0.04">4</text>
<line x1="297.60" y1="82.00" x2="300.20" y2="84.60" stroke="#c3264a" stroke-width="0.75"/>
<line x1="297.60" y1="84.60" x2="300.20" y2="82.00" stroke="#c3264a" stroke-width="0.75"/>
<text x="303.00" y="85.57" font-size="6.3" fill="#333" stroke="#333" stroke-width="0.04">8</text>
<rect x="247.55" y="83.35" width="2.90" height="2.90" fill="none" stroke="#d5435a" stroke-width="0.75"/>
<circle cx="248.70" cy="89.00" r="1.45" fill="none" stroke="#4b9a9e" stroke-width="0.75"/>
<rect x="252.15" y="87.05" width="2.90" height="2.90" fill="none" stroke="#d5435a" stroke-width="0.75"/>
<path d="M259.60,84.30 L261.20,81.54 L258.00,81.54Z" fill="none" stroke="#6c5f92" stroke-width="0.75"/>
<rect x="259.85" y="84.15" width="2.90" height="2.90" fill="none" stroke="#d5435a" stroke-width="0.75"/>
<path d="M267.70,81.56 L269.30,83.30 L267.70,85.04 L266.10,83.30Z" fill="none" stroke="#4b9a9e" stroke-width="0.75"/>
<line x1="273.75" y1="83.55" x2="276.65" y2="86.45" stroke="#c3264a" stroke-width="0.75"/>
<line x1="273.75" y1="86.45" x2="276.65" y2="83.55" stroke="#c3264a" stroke-width="0.75"/>
<line x1="276.55" y1="87.05" x2="279.45" y2="89.95" stroke="#c3264a" stroke-width="0.75"/>
<line x1="276.55" y1="89.95" x2="279.45" y2="87.05" stroke="#c3264a" stroke-width="0.75"/>
<line x1="280.65" y1="93.35" x2="283.55" y2="96.25" stroke="#b01c40" stroke-width="0.75"/>
<line x1="280.65" y1="96.25" x2="283.55" y2="93.35" stroke="#b01c40" stroke-width="0.75"/>
<path d="M257.30,88.61 L258.90,91.36 L255.71,91.36Z" fill="none" stroke="#52ad62" stroke-width="0.75"/>
<rect x="257.55" y="90.45" width="2.90" height="2.90" fill="none" stroke="#d5435a" stroke-width="0.75"/>
<rect x="259.85" y="91.05" width="2.90" height="2.90" fill="none" stroke="#d5435a" stroke-width="0.75"/>
<circle cx="256.70" cy="94.80" r="1.45" fill="none" stroke="#4a70a0" stroke-width="0.75"/>
<path d="M263.00,92.00 L264.60,94.76 L261.40,94.76Z" fill="none" stroke="#52ad62" stroke-width="0.75"/>
<path d="M264.80,91.50 L266.40,94.26 L263.20,94.26Z" fill="none" stroke="#52ad62" stroke-width="0.75"/>
<path d="M266.00,92.61 L267.60,95.36 L264.40,95.36Z" fill="none" stroke="#52ad62" stroke-width="0.75"/>
<circle cx="261.70" cy="97.10" r="1.45" fill="none" stroke="#4a70a0" stroke-width="0.75"/>
<path d="M268.30,92.89 L269.90,90.14 L266.70,90.14Z" fill="none" stroke="#6c5f92" stroke-width="0.75"/>
<path d="M269.40,94.09 L271.00,91.34 L267.80,91.34Z" fill="none" stroke="#6c5f92" stroke-width="0.75"/>
<path d="M272.90,89.06 L274.50,90.80 L272.90,92.54 L271.30,90.80Z" fill="none" stroke="#4a70a0" stroke-width="0.75"/>
<path d="M274.60,90.76 L276.20,92.50 L274.60,94.24 L273.00,92.50Z" fill="none" stroke="#4a70a0" stroke-width="0.75"/>
<path d="M275.80,91.86 L277.40,93.60 L275.80,95.34 L274.20,93.60Z" fill="none" stroke="#4a70a0" stroke-width="0.75"/>
<path d="M272.90,96.39 L274.50,93.64 L271.30,93.64Z" fill="none" stroke="#4a70a0" stroke-width="0.75"/>
<circle cx="267.10" cy="92.50" r="1.45" fill="none" stroke="#4b9a9e" stroke-width="0.75"/>
<path d="M262.00,93.91 L263.60,96.66 L260.40,96.66Z" fill="none" stroke="#52ad62" stroke-width="0.75"/>
<line x1="281.15" y1="92.85" x2="284.05" y2="95.75" stroke="#c3264a" stroke-width="0.75"/>
<line x1="281.15" y1="95.75" x2="284.05" y2="92.85" stroke="#c3264a" stroke-width="0.75"/>
<line x1="207.10" y1="150.80" x2="207.10" y2="230.20" stroke="#1a1a1a" stroke-width="1.4"/>
<line x1="206.40" y1="229.50" x2="300.60" y2="229.50" stroke="#1a1a1a" stroke-width="1.6"/>
<line x1="207.00" y1="229.50" x2="207.00" y2="231.90" stroke="#1a1a1a" stroke-width="1.0"/>
<line x1="215.93" y1="229.50" x2="215.93" y2="231.90" stroke="#1a1a1a" stroke-width="1.0"/>
<line x1="224.86" y1="229.50" x2="224.86" y2="231.90" stroke="#1a1a1a" stroke-width="1.0"/>
<line x1="233.79" y1="229.50" x2="233.79" y2="231.90" stroke="#1a1a1a" stroke-width="1.0"/>
<line x1="242.72" y1="229.50" x2="242.72" y2="231.90" stroke="#1a1a1a" stroke-width="1.0"/>
<line x1="251.65" y1="229.50" x2="251.65" y2="231.90" stroke="#1a1a1a" stroke-width="1.0"/>
<line x1="260.58" y1="229.50" x2="260.58" y2="231.90" stroke="#1a1a1a" stroke-width="1.0"/>
<line x1="269.51" y1="229.50" x2="269.51" y2="231.90" stroke="#1a1a1a" stroke-width="1.0"/>
<line x1="278.44" y1="229.50" x2="278.44" y2="231.90" stroke="#1a1a1a" stroke-width="1.0"/>
<line x1="287.37" y1="229.50" x2="287.37" y2="231.90" stroke="#1a1a1a" stroke-width="1.0"/>
<line x1="296.30" y1="229.50" x2="296.30" y2="231.90" stroke="#1a1a1a" stroke-width="1.0"/>
<line x1="204.90" y1="229.50" x2="207.10" y2="229.50" stroke="#1a1a1a" stroke-width="0.9"/>
<line x1="204.90" y1="210.70" x2="207.10" y2="210.70" stroke="#1a1a1a" stroke-width="0.9"/>
<line x1="204.90" y1="191.90" x2="207.10" y2="191.90" stroke="#1a1a1a" stroke-width="0.9"/>
<line x1="204.90" y1="173.10" x2="207.10" y2="173.10" stroke="#1a1a1a" stroke-width="0.9"/>
<line x1="204.90" y1="154.30" x2="207.10" y2="154.30" stroke="#1a1a1a" stroke-width="0.9"/>
<text x="198.80" y="156.40" font-size="6.1" text-anchor="middle" fill="#2a2a2a" stroke="#2a2a2a" stroke-width="0.1">2</text>
<text x="198.80" y="231.80" font-size="6.1" text-anchor="middle" fill="#2a2a2a" stroke="#2a2a2a" stroke-width="0.1">0</text>
<text x="207.00" y="240.90" font-size="6.1" text-anchor="middle" fill="#2a2a2a" stroke="#2a2a2a" stroke-width="0.1">0</text>
<text x="251.65" y="240.90" font-size="6.1" text-anchor="middle" fill="#2a2a2a" stroke="#2a2a2a" stroke-width="0.1">0.5</text>
<text x="296.30" y="240.90" font-size="6.1" text-anchor="middle" fill="#2a2a2a" stroke="#2a2a2a" stroke-width="0.1">1</text>
<text x="252.10" y="251.12" font-size="8.4" text-anchor="middle" font-weight="bold" fill="#222" stroke="#222" stroke-width="0.15" textLength="6.3" lengthAdjust="spacingAndGlyphs">Fa</text>
<text x="0" y="3.10" font-size="8.6" text-anchor="middle" font-weight="bold" fill="#222" transform="translate(189.00,189.30) rotate(-90)" stroke="#222" stroke-width="0.15" textLength="5.3" lengthAdjust="spacingAndGlyphs">CI</text>
<line x1="207.60" y1="191.90" x2="296.00" y2="191.90" stroke="#a8a8a8" stroke-width="1.3"/>
<text x="208.30" y="197.70" font-size="6.4" fill="#cf3553" stroke="#cf3553" stroke-width="0.06" textLength="28.7" lengthAdjust="spacingAndGlyphs">Synergism</text>
<text x="294.20" y="162.20" font-size="6.1" fill="#333" stroke="#333" stroke-width="0.04" textLength="33.5" lengthAdjust="spacingAndGlyphs">TL4-12 (&#181;M)</text>
<circle cx="295.20" cy="166.60" r="1.30" fill="none" stroke="#4f7ea6" stroke-width="0.75"/>
<text x="299.20" y="168.87" font-size="6.3" fill="#333" stroke="#333" stroke-width="0.04">1</text>
<rect x="293.90" y="172.50" width="2.60" height="2.60" fill="none" stroke="#d5435a" stroke-width="0.75"/>
<text x="299.20" y="176.07" font-size="6.3" fill="#333" stroke="#333" stroke-width="0.04">2</text>
<path d="M295.20,179.57 L296.63,182.04 L293.77,182.04Z" fill="none" stroke="#52ad62" stroke-width="0.75"/>
<text x="299.20" y="183.27" font-size="6.3" fill="#333" stroke="#333" stroke-width="0.04">4</text>
<path d="M295.20,189.43 L296.63,186.96 L293.77,186.96Z" fill="none" stroke="#5d5a78" stroke-width="0.75"/>
<text x="299.20" y="190.27" font-size="6.3" fill="#333" stroke="#333" stroke-width="0.04">8</text>
<path d="M283.50,163.09 L285.10,160.34 L281.90,160.34Z" fill="none" stroke="#5d5a78" stroke-width="0.75"/>
<circle cx="273.50" cy="192.30" r="1.45" fill="none" stroke="#4f7ea6" stroke-width="0.75"/>
<rect x="277.35" y="194.25" width="2.90" height="2.90" fill="none" stroke="#d5435a" stroke-width="0.75"/>
<rect x="279.35" y="197.05" width="2.90" height="2.90" fill="none" stroke="#5d5a78" stroke-width="0.75"/>
<rect x="281.55" y="197.05" width="2.90" height="2.90" fill="none" stroke="#d5435a" stroke-width="0.75"/>
<rect x="278.25" y="202.05" width="2.90" height="2.90" fill="none" stroke="#d5435a" stroke-width="0.75"/>
<circle cx="274.90" cy="207.20" r="1.45" fill="none" stroke="#4f7ea6" stroke-width="0.75"/>
<path d="M294.20,209.29 L295.80,206.54 L292.60,206.54Z" fill="none" stroke="#5d5a78" stroke-width="0.75"/>
<path d="M291.80,211.81 L293.40,214.56 L290.20,214.56Z" fill="none" stroke="#52ad62" stroke-width="0.75"/>
<path d="M294.60,219.21 L296.20,221.96 L293.00,221.96Z" fill="none" stroke="#52ad62" stroke-width="0.75"/>
<line x1="207.50" y1="278.00" x2="207.50" y2="359.10" stroke="#1a1a1a" stroke-width="1.4"/>
<line x1="206.80" y1="358.40" x2="299.40" y2="358.40" stroke="#1a1a1a" stroke-width="1.6"/>
<line x1="207.70" y1="358.40" x2="207.70" y2="360.80" stroke="#1a1a1a" stroke-width="1.0"/>
<line x1="216.41" y1="358.40" x2="216.41" y2="360.80" stroke="#1a1a1a" stroke-width="1.0"/>
<line x1="225.12" y1="358.40" x2="225.12" y2="360.80" stroke="#1a1a1a" stroke-width="1.0"/>
<line x1="233.83" y1="358.40" x2="233.83" y2="360.80" stroke="#1a1a1a" stroke-width="1.0"/>
<line x1="242.54" y1="358.40" x2="242.54" y2="360.80" stroke="#1a1a1a" stroke-width="1.0"/>
<line x1="251.25" y1="358.40" x2="251.25" y2="360.80" stroke="#1a1a1a" stroke-width="1.0"/>
<line x1="259.96" y1="358.40" x2="259.96" y2="360.80" stroke="#1a1a1a" stroke-width="1.0"/>
<line x1="268.67" y1="358.40" x2="268.67" y2="360.80" stroke="#1a1a1a" stroke-width="1.0"/>
<line x1="277.38" y1="358.40" x2="277.38" y2="360.80" stroke="#1a1a1a" stroke-width="1.0"/>
<line x1="286.09" y1="358.40" x2="286.09" y2="360.80" stroke="#1a1a1a" stroke-width="1.0"/>
<line x1="294.80" y1="358.40" x2="294.80" y2="360.80" stroke="#1a1a1a" stroke-width="1.0"/>
<line x1="205.30" y1="358.40" x2="207.50" y2="358.40" stroke="#1a1a1a" stroke-width="0.9"/>
<line x1="205.30" y1="339.30" x2="207.50" y2="339.30" stroke="#1a1a1a" stroke-width="0.9"/>
<line x1="205.30" y1="320.20" x2="207.50" y2="320.20" stroke="#1a1a1a" stroke-width="0.9"/>
<line x1="205.30" y1="301.10" x2="207.50" y2="301.10" stroke="#1a1a1a" stroke-width="0.9"/>
<line x1="205.30" y1="282.00" x2="207.50" y2="282.00" stroke="#1a1a1a" stroke-width="0.9"/>
<text x="199.20" y="284.10" font-size="6.1" text-anchor="middle" fill="#2a2a2a" stroke="#2a2a2a" stroke-width="0.1">2</text>
<text x="199.20" y="360.70" font-size="6.1" text-anchor="middle" fill="#2a2a2a" stroke="#2a2a2a" stroke-width="0.1">0</text>
<text x="207.70" y="369.80" font-size="6.1" text-anchor="middle" fill="#2a2a2a" stroke="#2a2a2a" stroke-width="0.1">0</text>
<text x="251.25" y="369.80" font-size="6.1" text-anchor="middle" fill="#2a2a2a" stroke="#2a2a2a" stroke-width="0.1">0.5</text>
<text x="294.80" y="369.80" font-size="6.1" text-anchor="middle" fill="#2a2a2a" stroke="#2a2a2a" stroke-width="0.1">1</text>
<text x="252.00" y="380.02" font-size="8.4" text-anchor="middle" font-weight="bold" fill="#222" stroke="#222" stroke-width="0.15" textLength="6.3" lengthAdjust="spacingAndGlyphs">Fa</text>
<text x="0" y="3.10" font-size="8.6" text-anchor="middle" font-weight="bold" fill="#222" transform="translate(189.40,317.60) rotate(-90)" stroke="#222" stroke-width="0.15" textLength="5.3" lengthAdjust="spacingAndGlyphs">CI</text>
<line x1="208.00" y1="320.20" x2="294.00" y2="320.20" stroke="#a8a8a8" stroke-width="1.3"/>
<text x="208.70" y="326.00" font-size="6.4" fill="#cf3553" stroke="#cf3553" stroke-width="0.06" textLength="28.7" lengthAdjust="spacingAndGlyphs">Synergism</text>
<text x="294.00" y="286.20" font-size="6.1" fill="#333" stroke="#333" stroke-width="0.04" textLength="33.7" lengthAdjust="spacingAndGlyphs">TL4-12 (&#181;M)</text>
<circle cx="294.80" cy="291.40" r="1.30" fill="none" stroke="#4a6a9a" stroke-width="0.75"/>
<text x="299.50" y="293.67" font-size="6.3" fill="#333" stroke="#333" stroke-width="0.04">1</text>
<rect x="293.50" y="297.10" width="2.60" height="2.60" fill="none" stroke="#d5435a" stroke-width="0.75"/>
<text x="299.50" y="300.67" font-size="6.3" fill="#333" stroke="#333" stroke-width="0.04">2</text>
<path d="M294.80,304.17 L296.23,306.64 L293.37,306.64Z" fill="none" stroke="#52ad62" stroke-width="0.75"/>
<text x="299.50" y="307.87" font-size="6.3" fill="#333" stroke="#333" stroke-width="0.04">4</text>
<path d="M294.80,314.13 L296.23,311.66 L293.37,311.66Z" fill="none" stroke="#8a3e8e" stroke-width="0.75"/>
<text x="299.50" y="314.97" font-size="6.3" fill="#333" stroke="#333" stroke-width="0.04">8</text>
<circle cx="258.00" cy="335.20" r="1.45" fill="none" stroke="#8a3e8e" stroke-width="0.75"/>
<rect x="258.75" y="333.55" width="2.90" height="2.90" fill="none" stroke="#d5435a" stroke-width="0.75"/>
<path d="M267.10,337.80 L268.70,340.56 L265.50,340.56Z" fill="none" stroke="#52ad62" stroke-width="0.75"/>
<path d="M270.10,339.10 L271.70,341.86 L268.50,341.86Z" fill="none" stroke="#52ad62" stroke-width="0.75"/>
<path d="M276.50,338.00 L278.10,335.24 L274.90,335.24Z" fill="none" stroke="#8a3e8e" stroke-width="0.75"/>
<path d="M279.30,342.00 L280.90,339.24 L277.70,339.24Z" fill="none" stroke="#8a3e8e" stroke-width="0.75"/>
<rect x="269.55" y="344.55" width="2.90" height="2.90" fill="none" stroke="#d5435a" stroke-width="0.75"/>
<rect x="269.55" y="347.55" width="2.90" height="2.90" fill="none" stroke="#d5435a" stroke-width="0.75"/>
<circle cx="268.00" cy="348.00" r="1.45" fill="none" stroke="#8a3e8e" stroke-width="0.75"/>
<path d="M284.40,347.60 L286.00,344.84 L282.80,344.84Z" fill="none" stroke="#8a3e8e" stroke-width="0.75"/>
<path d="M282.20,349.20 L283.80,351.96 L280.60,351.96Z" fill="none" stroke="#52ad62" stroke-width="0.75"/>
<text x="349.90" y="38.43" font-size="6.2" fill="#2a2a2a" stroke="#2a2a2a" stroke-width="0.1" textLength="155" lengthAdjust="spacingAndGlyphs">CI Data for Non-constant Combo: TL 4-12 + Iberdomide</text>
<defs><linearGradient id="gB" x1="0" y1="0" x2="0" y2="1"><stop offset="0" stop-color="#dbe6f5"/><stop offset="0.172" stop-color="#dde8f1"/><stop offset="0.277" stop-color="#e2eedb"/><stop offset="1" stop-color="#e2eedb"/></linearGradient></defs>
<rect x="341.80" y="42.60" width="49.60" height="57.00" fill="url(#gB)"/>
<rect x="391.40" y="42.60" width="122.20" height="13.80" fill="#f5d2cb"/>
<rect x="391.40" y="56.40" width="122.20" height="43.20" fill="#ffffff"/>
<line x1="341.80" y1="42.60" x2="391.40" y2="56.40" stroke="#222" stroke-width="0.9"/>
<line x1="391.40" y1="56.40" x2="513.60" y2="56.40" stroke="#222" stroke-width="0.9"/>
<line x1="391.40" y1="56.40" x2="391.40" y2="99.60" stroke="#222" stroke-width="0.9"/>
<rect x="341.80" y="42.60" width="171.80" height="57.00" fill="none" stroke="#333" stroke-width="1.0"/>
<text x="461.00" y="47.73" font-size="6.2" text-anchor="middle" fill="#2a2a2a" stroke="#2a2a2a" stroke-width="0.04" textLength="45.3" lengthAdjust="spacingAndGlyphs">Iberdomide (nM)</text>
<text x="403.00" y="55.57" font-size="6.3" text-anchor="middle" fill="#2a2a2a" stroke="#2a2a2a" stroke-width="0.06">12.5</text>
<text x="428.20" y="55.57" font-size="6.3" text-anchor="middle" fill="#2a2a2a" stroke="#2a2a2a" stroke-width="0.06">25</text>
<text x="452.70" y="55.57" font-size="6.3" text-anchor="middle" fill="#2a2a2a" stroke="#2a2a2a" stroke-width="0.06">50</text>
<text x="476.90" y="55.57" font-size="6.3" text-anchor="middle" fill="#2a2a2a" stroke="#2a2a2a" stroke-width="0.06">100</text>
<text x="501.00" y="55.57" font-size="6.3" text-anchor="middle" fill="#2a2a2a" stroke="#2a2a2a" stroke-width="0.06">200</text>
<text x="380.10" y="62.87" font-size="6.3" text-anchor="middle" fill="#2a2a2a" stroke="#2a2a2a" stroke-width="0.06">0.25</text>
<text x="380.10" y="69.87" font-size="6.3" text-anchor="middle" fill="#2a2a2a" stroke="#2a2a2a" stroke-width="0.06">0.5</text>
<text x="380.10" y="76.97" font-size="6.3" text-anchor="middle" fill="#2a2a2a" stroke="#2a2a2a" stroke-width="0.06">1</text>
<text x="380.10" y="83.77" font-size="6.3" text-anchor="middle" fill="#2a2a2a" stroke="#2a2a2a" stroke-width="0.06">2</text>
<text x="380.10" y="91.07" font-size="6.3" text-anchor="middle" fill="#2a2a2a" stroke="#2a2a2a" stroke-width="0.06">4</text>
<text x="380.10" y="98.07" font-size="6.3" text-anchor="middle" fill="#2a2a2a" stroke="#2a2a2a" stroke-width="0.06">8</text>
<text x="403.00" y="62.87" font-size="6.3" text-anchor="middle" fill="#cf3553">0.33</text>
<text x="428.20" y="62.87" font-size="6.3" text-anchor="middle" fill="#cf3553">0.18</text>
<text x="452.70" y="62.87" font-size="6.3" text-anchor="middle" fill="#cf3553">0.12</text>
<text x="476.90" y="62.87" font-size="6.3" text-anchor="middle" fill="#cf3553">0.17</text>
<text x="501.00" y="62.87" font-size="6.3" text-anchor="middle" fill="#cf3553">0.24</text>
<text x="403.00" y="69.87" font-size="6.3" text-anchor="middle" fill="#cf3553">0.44</text>
<text x="428.20" y="69.87" font-size="6.3" text-anchor="middle" fill="#cf3553">0.35</text>
<text x="452.70" y="69.87" font-size="6.3" text-anchor="middle" fill="#cf3553">0.26</text>
<text x="476.90" y="69.87" font-size="6.3" text-anchor="middle" fill="#cf3553">0.25</text>
<text x="501.00" y="69.87" font-size="6.3" text-anchor="middle" fill="#cf3553">0.42</text>
<text x="403.00" y="76.97" font-size="6.3" text-anchor="middle" fill="#cf3553">0.32</text>
<text x="428.20" y="76.97" font-size="6.3" text-anchor="middle" fill="#cf3553">0.2</text>
<text x="452.70" y="76.97" font-size="6.3" text-anchor="middle" fill="#cf3553">0.24</text>
<text x="476.90" y="76.97" font-size="6.3" text-anchor="middle" fill="#cf3553">0.19</text>
<text x="501.00" y="76.97" font-size="6.3" text-anchor="middle" fill="#cf3553">0.29</text>
<text x="403.00" y="83.77" font-size="6.3" text-anchor="middle" fill="#cf3553">0.48</text>
<text x="428.20" y="83.77" font-size="6.3" text-anchor="middle" fill="#cf3553">0.27</text>
<text x="452.70" y="83.77" font-size="6.3" text-anchor="middle" fill="#cf3553">0.24</text>
<text x="476.90" y="83.77" font-size="6.3" text-anchor="middle" fill="#cf3553">0.24</text>
<text x="501.00" y="83.77" font-size="6.3" text-anchor="middle" fill="#cf3553">0.18</text>
<text x="403.00" y="91.07" font-size="6.3" text-anchor="middle" fill="#cf3553">0.48</text>
<text x="428.20" y="91.07" font-size="6.3" text-anchor="middle" fill="#cf3553">0.31</text>
<text x="452.70" y="91.07" font-size="6.3" text-anchor="middle" fill="#cf3553">0.21</text>
<text x="476.90" y="91.07" font-size="6.3" text-anchor="middle" fill="#cf3553">0.25</text>
<text x="501.00" y="91.07" font-size="6.3" text-anchor="middle" fill="#cf3553">0.23</text>
<text x="403.00" y="98.07" font-size="6.3" text-anchor="middle" fill="#cf3553">0.44</text>
<text x="428.20" y="98.07" font-size="6.3" text-anchor="middle" fill="#cf3553">0.35</text>
<text x="452.70" y="98.07" font-size="6.3" text-anchor="middle" fill="#cf3553">0.2</text>
<text x="476.90" y="98.07" font-size="6.3" text-anchor="middle" fill="#cf3553">0.18</text>
<text x="501.00" y="98.07" font-size="6.3" text-anchor="middle" fill="#cf3553">0.17</text>
<text x="355.50" y="77.43" font-size="6.2" text-anchor="middle" fill="#2a2a2a" stroke="#2a2a2a" stroke-width="0.1">TL4-12</text>
<text x="355.50" y="84.23" font-size="6.2" text-anchor="middle" fill="#2a2a2a" stroke="#2a2a2a" stroke-width="0.1">(&#181;M)</text>
<text x="346.30" y="171.43" font-size="6.2" fill="#2a2a2a" stroke="#2a2a2a" stroke-width="0.1" textLength="153.5" lengthAdjust="spacingAndGlyphs">CI Data for Non-constant Combo: TL 4-12 + Iberdomide</text>
<defs><linearGradient id="gD" x1="0" y1="0" x2="0" y2="1"><stop offset="0" stop-color="#dbe6f5"/><stop offset="0.238" stop-color="#dde8f1"/><stop offset="0.372" stop-color="#e2eedb"/><stop offset="1" stop-color="#e2eedb"/></linearGradient></defs>
<rect x="337.30" y="176.40" width="70.60" height="44.60" fill="url(#gD)"/>
<rect x="407.90" y="176.40" width="101.50" height="14.60" fill="#f5d2cb"/>
<rect x="407.90" y="191.00" width="101.50" height="30.00" fill="#ffffff"/>
<line x1="337.30" y1="176.40" x2="407.90" y2="191.00" stroke="#222" stroke-width="0.9"/>
<line x1="407.90" y1="191.00" x2="509.40" y2="191.00" stroke="#222" stroke-width="0.9"/>
<line x1="407.90" y1="191.00" x2="407.90" y2="221.00" stroke="#222" stroke-width="0.9"/>
<rect x="337.30" y="176.40" width="172.10" height="44.60" fill="none" stroke="#333" stroke-width="1.0"/>
<text x="458.50" y="181.33" font-size="6.2" text-anchor="middle" fill="#2a2a2a" stroke="#2a2a2a" stroke-width="0.04" textLength="45.3" lengthAdjust="spacingAndGlyphs">Iberdomide (nM)</text>
<text x="424.00" y="189.67" font-size="6.3" text-anchor="middle" fill="#2a2a2a" stroke="#2a2a2a" stroke-width="0.06">0.5</text>
<text x="458.50" y="189.67" font-size="6.3" text-anchor="middle" fill="#2a2a2a" stroke="#2a2a2a" stroke-width="0.06">1</text>
<text x="492.10" y="189.67" font-size="6.3" text-anchor="middle" fill="#2a2a2a" stroke="#2a2a2a" stroke-width="0.06">2</text>
<text x="390.60" y="197.47" font-size="6.3" text-anchor="middle" fill="#2a2a2a" stroke="#2a2a2a" stroke-width="0.06">1</text>
<text x="390.60" y="204.77" font-size="6.3" text-anchor="middle" fill="#2a2a2a" stroke="#2a2a2a" stroke-width="0.06">2</text>
<text x="390.60" y="212.47" font-size="6.3" text-anchor="middle" fill="#2a2a2a" stroke="#2a2a2a" stroke-width="0.06">4</text>
<text x="390.60" y="219.57" font-size="6.3" text-anchor="middle" fill="#2a2a2a" stroke="#2a2a2a" stroke-width="0.06">8</text>
<text x="424.00" y="197.47" font-size="6.3" text-anchor="middle" fill="#cf3553">0.59</text>
<text x="458.50" y="197.47" font-size="6.3" text-anchor="middle" fill="#2a2a2a">0.97</text>
<text x="492.10" y="197.47" font-size="6.3" text-anchor="middle" fill="#cf3553">0.81</text>
<text x="424.00" y="204.77" font-size="6.3" text-anchor="middle" fill="#cf3553">0.69</text>
<text x="458.50" y="204.77" font-size="6.3" text-anchor="middle" fill="#cf3553">0.89</text>
<text x="492.10" y="204.77" font-size="6.3" text-anchor="middle" fill="#cf3553">0.83</text>
<text x="424.00" y="212.47" font-size="6.3" text-anchor="middle" fill="#cf3553">0.21</text>
<text x="458.50" y="212.47" font-size="6.3" text-anchor="middle" fill="#cf3553">0.42</text>
<text x="492.10" y="212.47" font-size="6.3" text-anchor="middle" fill="#cf3553">0.22</text>
<text x="424.00" y="219.57" font-size="6.3" text-anchor="middle" fill="#2a2a2a">1.81</text>
<text x="458.50" y="219.57" font-size="6.3" text-anchor="middle" fill="#cf3553">0.57</text>
<text x="492.10" y="219.57" font-size="6.3" text-anchor="middle" fill="#cf3553">0.57</text>
<text x="339.60" y="208.93" font-size="6.2" fill="#2a2a2a" stroke="#2a2a2a" stroke-width="0.1" textLength="34.2" lengthAdjust="spacingAndGlyphs">TL4-12 (&#181;M)</text>
<text x="346.30" y="298.23" font-size="6.2" fill="#2a2a2a" stroke="#2a2a2a" stroke-width="0.1" textLength="153.5" lengthAdjust="spacingAndGlyphs">CI Data for Non-constant Combo: TL 4-12 + Iberdomide</text>
<defs><linearGradient id="gF" x1="0" y1="0" x2="0" y2="1"><stop offset="0" stop-color="#dbe6f5"/><stop offset="0.253" stop-color="#dde8f1"/><stop offset="0.377" stop-color="#e2eedb"/><stop offset="1" stop-color="#e2eedb"/></linearGradient></defs>
<rect x="337.70" y="303.00" width="51.00" height="48.30" fill="url(#gF)"/>
<rect x="388.70" y="303.00" width="120.70" height="16.20" fill="#f5d2cb"/>
<rect x="388.70" y="319.20" width="120.70" height="32.10" fill="#ffffff"/>
<line x1="337.70" y1="303.00" x2="388.70" y2="319.20" stroke="#222" stroke-width="0.9"/>
<line x1="388.70" y1="319.20" x2="509.40" y2="319.20" stroke="#222" stroke-width="0.9"/>
<line x1="388.70" y1="319.20" x2="388.70" y2="351.30" stroke="#222" stroke-width="0.9"/>
<rect x="337.70" y="303.00" width="171.70" height="48.30" fill="none" stroke="#333" stroke-width="1.0"/>
<text x="449.30" y="307.93" font-size="6.2" text-anchor="middle" fill="#2a2a2a" stroke="#2a2a2a" stroke-width="0.04" textLength="45.3" lengthAdjust="spacingAndGlyphs">Iberdomide (nM)</text>
<text x="415.00" y="317.07" font-size="6.3" text-anchor="middle" fill="#2a2a2a" stroke="#2a2a2a" stroke-width="0.06">12.5</text>
<text x="459.40" y="317.07" font-size="6.3" text-anchor="middle" fill="#2a2a2a" stroke="#2a2a2a" stroke-width="0.06">25</text>
<text x="492.10" y="317.07" font-size="6.3" text-anchor="middle" fill="#2a2a2a" stroke="#2a2a2a" stroke-width="0.06">50</text>
<text x="381.50" y="325.27" font-size="6.3" text-anchor="middle" fill="#2a2a2a" stroke="#2a2a2a" stroke-width="0.06">1</text>
<text x="381.50" y="333.47" font-size="6.3" text-anchor="middle" fill="#2a2a2a" stroke="#2a2a2a" stroke-width="0.06">2</text>
<text x="381.50" y="341.57" font-size="6.3" text-anchor="middle" fill="#2a2a2a" stroke="#2a2a2a" stroke-width="0.06">4</text>
<text x="381.50" y="349.37" font-size="6.3" text-anchor="middle" fill="#2a2a2a" stroke="#2a2a2a" stroke-width="0.06">8</text>
<text x="415.00" y="325.27" font-size="6.3" text-anchor="middle" fill="#cf3553">0.6</text>
<text x="459.40" y="325.27" font-size="6.3" text-anchor="middle" fill="#cf3553">0.25</text>
<text x="492.10" y="325.27" font-size="6.3" text-anchor="middle" fill="#cf3553">0.3</text>
<text x="415.00" y="333.47" font-size="6.3" text-anchor="middle" fill="#cf3553">0.62</text>
<text x="459.40" y="333.47" font-size="6.3" text-anchor="middle" fill="#cf3553">0.25</text>
<text x="492.10" y="333.47" font-size="6.3" text-anchor="middle" fill="#cf3553">0.32</text>
<text x="415.00" y="341.57" font-size="6.3" text-anchor="middle" fill="#cf3553">0.5</text>
<text x="459.40" y="341.57" font-size="6.3" text-anchor="middle" fill="#cf3553">0.46</text>
<text x="492.10" y="341.57" font-size="6.3" text-anchor="middle" fill="#cf3553">0.18</text>
<text x="415.00" y="349.37" font-size="6.3" text-anchor="middle" fill="#cf3553">0.46</text>
<text x="459.40" y="349.37" font-size="6.3" text-anchor="middle" fill="#cf3553">0.56</text>
<text x="492.10" y="349.37" font-size="6.3" text-anchor="middle" fill="#cf3553">0.3</text>
<text x="339.60" y="337.63" font-size="6.2" fill="#2a2a2a" stroke="#2a2a2a" stroke-width="0.1" textLength="34.2" lengthAdjust="spacingAndGlyphs">TL4-12 (&#181;M)</text>
<defs><filter id="bl" x="-50%" y="-50%" width="200%" height="200%"><feGaussianBlur stdDeviation="0.55"/></filter><filter id="bl2" x="-50%" y="-50%" width="200%" height="200%"><feGaussianBlur stdDeviation="1.0"/></filter></defs>
<text x="171.20" y="405.64" font-size="9.0" text-anchor="middle" fill="#1e1e1e" stroke="#1e1e1e" stroke-width="0.1" textLength="20.8" lengthAdjust="spacingAndGlyphs">H929</text>
<text x="351.00" y="404.44" font-size="9.0" text-anchor="middle" fill="#1e1e1e" stroke="#1e1e1e" stroke-width="0.1" textLength="26.6" lengthAdjust="spacingAndGlyphs">MM.1S</text>
<text x="144.90" y="416.82" font-size="7.0" text-anchor="middle" fill="#222" stroke="#222" stroke-width="0.1" textLength="7.8" lengthAdjust="spacingAndGlyphs">CT</text>
<text x="221.20" y="416.23" font-size="6.2" text-anchor="middle" fill="#222" stroke="#222" stroke-width="0.1" textLength="52.2" lengthAdjust="spacingAndGlyphs">Iberdomide 100nM</text>
<text x="326.20" y="414.92" font-size="7.0" text-anchor="middle" fill="#222" stroke="#222" stroke-width="0.1" textLength="7.8" lengthAdjust="spacingAndGlyphs">CT</text>
<text x="399.50" y="414.63" font-size="6.2" text-anchor="middle" fill="#222" stroke="#222" stroke-width="0.1" textLength="48.2" lengthAdjust="spacingAndGlyphs">Iberdomide 20nM</text>
<text x="103.10" y="451.12" font-size="7.0" text-anchor="middle" fill="#222" stroke="#222" stroke-width="0.1" textLength="8.2" lengthAdjust="spacingAndGlyphs">CT</text>
<text x="283.40" y="449.12" font-size="7.0" text-anchor="middle" fill="#222" stroke="#222" stroke-width="0.1" textLength="8.2" lengthAdjust="spacingAndGlyphs">CT</text>
<text x="107.60" y="519.38" font-size="6.6" text-anchor="end" fill="#222" stroke="#222" stroke-width="0.1" textLength="19.5" lengthAdjust="spacingAndGlyphs">TL4-12</text>
<text x="107.60" y="526.98" font-size="6.6" text-anchor="end" fill="#222" stroke="#222" stroke-width="0.1" textLength="11.5" lengthAdjust="spacingAndGlyphs">2&#181;M</text>
<text x="288.40" y="519.18" font-size="6.6" text-anchor="end" fill="#222" stroke="#222" stroke-width="0.1" textLength="19.5" lengthAdjust="spacingAndGlyphs">TL4-12</text>
<text x="288.40" y="526.78" font-size="6.6" text-anchor="end" fill="#222" stroke="#222" stroke-width="0.1" textLength="11.5" lengthAdjust="spacingAndGlyphs">2&#181;M</text>
<line x1="107.30" y1="537.30" x2="107.30" y2="562.50" stroke="#1a1a1a" stroke-width="1.1"/>
<line x1="106.75" y1="562.50" x2="137.10" y2="562.50" stroke="#1a1a1a" stroke-width="1.1"/>
<path d="M107.30,534.80 l1.6,3.4 l-3.2,0Z" fill="#1a1a1a"/>
<path d="M139.60,562.50 l-3.4,-1.6 l0,3.2Z" fill="#1a1a1a"/>
<text x="0" y="2.59" font-size="7.2" text-anchor="middle" font-weight="bold" fill="#1a1a1a" transform="translate(99.40,548.95) rotate(-90)" stroke="#1a1a1a" stroke-width="0.1" textLength="25.5" lengthAdjust="spacingAndGlyphs">Annexin V</text>
<text x="124.30" y="571.99" font-size="7.2" text-anchor="middle" font-weight="bold" fill="#1a1a1a" stroke="#1a1a1a" stroke-width="0.1" textLength="13.0" lengthAdjust="spacingAndGlyphs">7AAD</text>
<line x1="288.20" y1="535.30" x2="288.20" y2="561.60" stroke="#1a1a1a" stroke-width="1.1"/>
<line x1="287.65" y1="561.60" x2="317.70" y2="561.60" stroke="#1a1a1a" stroke-width="1.1"/>
<path d="M288.20,532.80 l1.6,3.4 l-3.2,0Z" fill="#1a1a1a"/>
<path d="M320.20,561.60 l-3.4,-1.6 l0,3.2Z" fill="#1a1a1a"/>
<text x="0" y="2.59" font-size="7.2" text-anchor="middle" font-weight="bold" fill="#1a1a1a" transform="translate(281.20,547.50) rotate(-90)" stroke="#1a1a1a" stroke-width="0.1" textLength="25.5" lengthAdjust="spacingAndGlyphs">Annexin V</text>
<text x="305.00" y="571.59" font-size="7.2" text-anchor="middle" font-weight="bold" fill="#1a1a1a" stroke="#1a1a1a" stroke-width="0.1" textLength="13.0" lengthAdjust="spacingAndGlyphs">7AAD</text>
<circle cx="125.42" cy="449.88" r="0.40" fill="#8aa6d0" opacity="0.75"/>
<circle cx="127.59" cy="440.38" r="0.40" fill="#7fa0c8" opacity="0.75"/>
<circle cx="131.50" cy="437.25" r="0.40" fill="#a9b8d6" opacity="0.75"/>
<circle cx="124.69" cy="427.77" r="0.40" fill="#7fa0c8" opacity="0.75"/>
<circle cx="130.79" cy="447.58" r="0.40" fill="#8aa6d0" opacity="0.75"/>
<circle cx="135.52" cy="434.19" r="0.40" fill="#a9b8d6" opacity="0.75"/>
<circle cx="133.64" cy="429.76" r="0.40" fill="#b9c4da" opacity="0.75"/>
<circle cx="123.55" cy="427.69" r="0.40" fill="#8aa6d0" opacity="0.75"/>
<circle cx="139.90" cy="437.29" r="0.40" fill="#a9b8d6" opacity="0.75"/>
<circle cx="140.44" cy="446.60" r="0.40" fill="#a9b8d6" opacity="0.75"/>
<circle cx="136.75" cy="452.36" r="0.40" fill="#a9b8d6" opacity="0.75"/>
<circle cx="129.22" cy="445.27" r="0.40" fill="#7fa0c8" opacity="0.75"/>
<circle cx="140.14" cy="452.02" r="0.40" fill="#7fa0c8" opacity="0.75"/>
<circle cx="138.08" cy="442.02" r="0.40" fill="#8aa6d0" opacity="0.75"/>
<circle cx="126.35" cy="453.80" r="0.40" fill="#b9c4da" opacity="0.75"/>
<circle cx="125.18" cy="435.98" r="0.40" fill="#7fa0c8" opacity="0.75"/>
<circle cx="132.14" cy="451.57" r="0.40" fill="#a9b8d6" opacity="0.75"/>
<circle cx="128.46" cy="442.86" r="0.40" fill="#7fa0c8" opacity="0.75"/>
<circle cx="138.23" cy="440.64" r="0.40" fill="#8aa6d0" opacity="0.75"/>
<circle cx="131.64" cy="447.08" r="0.40" fill="#7fa0c8" opacity="0.75"/>
<circle cx="130.46" cy="431.67" r="0.40" fill="#b9c4da" opacity="0.75"/>
<circle cx="124.56" cy="444.92" r="0.40" fill="#8aa6d0" opacity="0.75"/>
<circle cx="137.01" cy="441.07" r="0.40" fill="#7fa0c8" opacity="0.75"/>
<circle cx="129.67" cy="446.78" r="0.40" fill="#7fa0c8" opacity="0.75"/>
<circle cx="123.78" cy="445.99" r="0.40" fill="#7fa0c8" opacity="0.75"/>
<circle cx="134.65" cy="431.55" r="0.40" fill="#a9b8d6" opacity="0.75"/>
<circle cx="140.68" cy="447.80" r="0.40" fill="#a9b8d6" opacity="0.75"/>
<circle cx="130.28" cy="436.28" r="0.40" fill="#b9c4da" opacity="0.75"/>
<circle cx="131.26" cy="434.27" r="0.40" fill="#8aa6d0" opacity="0.75"/>
<circle cx="129.91" cy="450.14" r="0.40" fill="#a9b8d6" opacity="0.75"/>
<circle cx="125.27" cy="465.89" r="0.50" fill="#3f9aa0" opacity="0.8"/>
<circle cx="121.68" cy="466.93" r="0.50" fill="#4a7cc0" opacity="0.8"/>
<circle cx="134.63" cy="469.49" r="0.50" fill="#6f93c9" opacity="0.8"/>
<circle cx="132.65" cy="461.86" r="0.50" fill="#7a9ad0" opacity="0.8"/>
<circle cx="136.30" cy="468.84" r="0.50" fill="#5a86c8" opacity="0.8"/>
<circle cx="127.44" cy="461.17" r="0.50" fill="#3f9aa0" opacity="0.8"/>
<circle cx="127.68" cy="458.31" r="0.50" fill="#4a7cc0" opacity="0.8"/>
<circle cx="124.57" cy="457.40" r="0.50" fill="#5a86c8" opacity="0.8"/>
<circle cx="135.33" cy="465.19" r="0.50" fill="#4a7cc0" opacity="0.8"/>
<circle cx="124.27" cy="458.92" r="0.50" fill="#7a9ad0" opacity="0.8"/>
<circle cx="122.16" cy="467.51" r="0.50" fill="#6f93c9" opacity="0.8"/>
<circle cx="132.47" cy="468.15" r="0.50" fill="#5a86c8" opacity="0.8"/>
<circle cx="128.82" cy="459.29" r="0.50" fill="#7a9ad0" opacity="0.8"/>
<circle cx="126.20" cy="467.50" r="0.50" fill="#5a86c8" opacity="0.8"/>
<circle cx="130.75" cy="459.80" r="0.50" fill="#4a7cc0" opacity="0.8"/>
<circle cx="130.65" cy="463.90" r="0.50" fill="#6f93c9" opacity="0.8"/>
<circle cx="132.57" cy="458.97" r="0.50" fill="#7a9ad0" opacity="0.8"/>
<circle cx="121.52" cy="472.24" r="0.50" fill="#5a86c8" opacity="0.8"/>
<circle cx="137.05" cy="465.57" r="0.50" fill="#3f9aa0" opacity="0.8"/>
<circle cx="125.78" cy="467.12" r="0.50" fill="#4a7cc0" opacity="0.8"/>
<circle cx="132.78" cy="460.10" r="0.50" fill="#5a86c8" opacity="0.8"/>
<circle cx="131.64" cy="464.81" r="0.50" fill="#3f9aa0" opacity="0.8"/>
<circle cx="132.14" cy="461.50" r="0.50" fill="#4a7cc0" opacity="0.8"/>
<circle cx="131.78" cy="463.28" r="0.50" fill="#3f9aa0" opacity="0.8"/>
<circle cx="133.00" cy="461.01" r="0.50" fill="#6f93c9" opacity="0.8"/>
<circle cx="134.48" cy="469.52" r="0.50" fill="#4a7cc0" opacity="0.8"/>
<circle cx="127.27" cy="466.39" r="0.50" fill="#3f9aa0" opacity="0.8"/>
<circle cx="128.66" cy="465.65" r="0.50" fill="#7a9ad0" opacity="0.8"/>
<circle cx="141.82" cy="453.78" r="0.50" fill="#6f93c9" opacity="0.8"/>
<circle cx="128.18" cy="473.80" r="0.50" fill="#4a7cc0" opacity="0.8"/>
<circle cx="126.22" cy="460.08" r="0.50" fill="#5a86c8" opacity="0.8"/>
<circle cx="135.80" cy="463.77" r="0.50" fill="#7a9ad0" opacity="0.8"/>
<circle cx="139.54" cy="464.41" r="0.50" fill="#7a9ad0" opacity="0.8"/>
<circle cx="130.37" cy="465.29" r="0.50" fill="#4a7cc0" opacity="0.8"/>
<circle cx="128.44" cy="462.15" r="0.50" fill="#6f93c9" opacity="0.8"/>
<circle cx="126.79" cy="469.12" r="0.50" fill="#4a7cc0" opacity="0.8"/>
<circle cx="138.12" cy="462.54" r="0.50" fill="#6f93c9" opacity="0.8"/>
<circle cx="135.57" cy="467.72" r="0.50" fill="#4a7cc0" opacity="0.8"/>
<circle cx="130.52" cy="467.34" r="0.50" fill="#6f93c9" opacity="0.8"/>
<circle cx="132.01" cy="467.24" r="0.50" fill="#6f93c9" opacity="0.8"/>
<circle cx="137.52" cy="459.41" r="0.50" fill="#3f9aa0" opacity="0.8"/>
<circle cx="134.53" cy="464.71" r="0.50" fill="#6f93c9" opacity="0.8"/>
<circle cx="135.95" cy="463.14" r="0.50" fill="#3f9aa0" opacity="0.8"/>
<circle cx="131.55" cy="473.31" r="0.50" fill="#6f93c9" opacity="0.8"/>
<circle cx="125.35" cy="464.34" r="0.50" fill="#5a86c8" opacity="0.8"/>
<circle cx="136.40" cy="468.07" r="0.50" fill="#6f93c9" opacity="0.8"/>
<circle cx="128.64" cy="461.33" r="0.50" fill="#4a7cc0" opacity="0.8"/>
<circle cx="131.99" cy="462.11" r="0.50" fill="#3f9aa0" opacity="0.8"/>
<circle cx="130.17" cy="464.59" r="0.50" fill="#4a7cc0" opacity="0.8"/>
<circle cx="130.65" cy="470.03" r="0.50" fill="#4a7cc0" opacity="0.8"/>
<circle cx="134.51" cy="465.49" r="0.50" fill="#3f9aa0" opacity="0.8"/>
<circle cx="139.98" cy="463.11" r="0.50" fill="#6f93c9" opacity="0.8"/>
<circle cx="129.39" cy="462.61" r="0.50" fill="#5a86c8" opacity="0.8"/>
<circle cx="137.54" cy="461.38" r="0.50" fill="#7a9ad0" opacity="0.8"/>
<circle cx="127.72" cy="451.78" r="0.50" fill="#5a86c8" opacity="0.8"/>
<circle cx="130.23" cy="462.86" r="0.50" fill="#5a86c8" opacity="0.8"/>
<circle cx="131.41" cy="459.65" r="0.50" fill="#5a86c8" opacity="0.8"/>
<circle cx="138.15" cy="466.86" r="0.50" fill="#5a86c8" opacity="0.8"/>
<circle cx="139.28" cy="459.20" r="0.50" fill="#4a7cc0" opacity="0.8"/>
<circle cx="135.28" cy="453.31" r="0.50" fill="#7a9ad0" opacity="0.8"/>
<circle cx="137.36" cy="466.88" r="0.50" fill="#5a86c8" opacity="0.8"/>
<circle cx="135.94" cy="460.24" r="0.50" fill="#5a86c8" opacity="0.8"/>
<circle cx="136.69" cy="459.07" r="0.50" fill="#6f93c9" opacity="0.8"/>
<circle cx="129.19" cy="459.84" r="0.50" fill="#5a86c8" opacity="0.8"/>
<circle cx="130.26" cy="462.71" r="0.50" fill="#5a86c8" opacity="0.8"/>
<circle cx="143.31" cy="463.57" r="0.50" fill="#7a9ad0" opacity="0.8"/>
<circle cx="125.15" cy="469.26" r="0.50" fill="#6f93c9" opacity="0.8"/>
<g filter="url(#bl)" opacity="1.0" transform="translate(131.50,467.30) rotate(0)">
<ellipse cx="0" cy="0" rx="6.60" ry="6.80" fill="#2f8aa8"/>
<ellipse cx="0" cy="0" rx="5.54" ry="5.71" fill="#23988a"/>
<ellipse cx="0" cy="0" rx="4.49" ry="4.62" fill="#6cbd3e"/>
<ellipse cx="0" cy="0" rx="3.43" ry="3.54" fill="#f0e02c"/>
<ellipse cx="0" cy="0" rx="2.51" ry="2.58" fill="#f59a22"/>
<ellipse cx="0" cy="0" rx="1.58" ry="1.63" fill="#e62a1e"/>
</g>
<rect x="120.80" y="421.40" width="49.60" height="53.80" fill="none" stroke="#5f6078" stroke-width="0.9"/>
<line x1="142.40" y1="421.40" x2="142.40" y2="475.20" stroke="#4e5064" stroke-width="0.9"/>
<line x1="120.80" y1="456.40" x2="170.40" y2="456.40" stroke="#4e5064" stroke-width="0.9"/>
<text x="121.80" y="426.61" font-size="5.3" fill="#d3344e" stroke="#d3344e" stroke-width="0.04">7.84%</text>
<text x="169.40" y="426.61" font-size="5.3" text-anchor="end" fill="#d3344e" stroke="#d3344e" stroke-width="0.04">1.97%</text>
<text x="169.40" y="473.91" font-size="5.3" text-anchor="end" fill="#d3344e" stroke="#d3344e" stroke-width="0.04">0.04%</text>
<text x="121.60" y="474.54" font-size="2.6" fill="#333" stroke="#333" stroke-width="0.1">&#8226;&#8226;&#8226;</text>
<text x="119.80" y="428.66" font-size="4.6" text-anchor="end" fill="#555">10<tspan dy="-1" font-size="2.4">4</tspan></text>
<line x1="119.90" y1="427.00" x2="120.80" y2="427.00" stroke="#777" stroke-width="0.5"/>
<text x="119.80" y="446.46" font-size="4.6" text-anchor="end" fill="#555">10<tspan dy="-1" font-size="2.4">3</tspan></text>
<line x1="119.90" y1="444.80" x2="120.80" y2="444.80" stroke="#777" stroke-width="0.5"/>
<text x="119.80" y="464.06" font-size="4.6" text-anchor="end" fill="#555">10<tspan dy="-1" font-size="2.4">2</tspan></text>
<line x1="119.90" y1="462.40" x2="120.80" y2="462.40" stroke="#777" stroke-width="0.5"/>
<text x="119.80" y="473.66" font-size="4.6" text-anchor="end" fill="#555">-10<tspan dy="-1" font-size="2.4">2</tspan></text>
<line x1="119.90" y1="472.00" x2="120.80" y2="472.00" stroke="#777" stroke-width="0.5"/>
<text x="0" y="1.51" font-size="4.2" text-anchor="middle" fill="#5a5a5a" transform="translate(122.00,481.00) rotate(-60)">10<tspan dy="-1" font-size="2.6">3</tspan></text>
<text x="0" y="1.51" font-size="4.2" text-anchor="middle" fill="#5a5a5a" transform="translate(127.20,481.00) rotate(-60)">10<tspan dy="-1" font-size="2.6">3</tspan></text>
<text x="0" y="1.51" font-size="4.2" text-anchor="middle" fill="#5a5a5a" transform="translate(134.10,481.00) rotate(-60)">10<tspan dy="-1" font-size="2.6">3</tspan></text>
<text x="0" y="1.51" font-size="4.2" text-anchor="middle" fill="#5a5a5a" transform="translate(148.00,481.00) rotate(-60)">10<tspan dy="-1" font-size="2.6">3</tspan></text>
<text x="0" y="1.51" font-size="4.2" text-anchor="middle" fill="#5a5a5a" transform="translate(161.00,481.00) rotate(-60)">10<tspan dy="-1" font-size="2.6">3</tspan></text>
<circle cx="215.25" cy="450.85" r="0.40" fill="#8aa6d0" opacity="0.75"/>
<circle cx="200.56" cy="437.94" r="0.40" fill="#a9b8d6" opacity="0.75"/>
<circle cx="211.51" cy="444.73" r="0.40" fill="#b9c4da" opacity="0.75"/>
<circle cx="203.28" cy="434.67" r="0.40" fill="#8aa6d0" opacity="0.75"/>
<circle cx="208.88" cy="433.48" r="0.40" fill="#7fa0c8" opacity="0.75"/>
<circle cx="209.85" cy="447.68" r="0.40" fill="#b9c4da" opacity="0.75"/>
<circle cx="208.25" cy="439.79" r="0.40" fill="#b9c4da" opacity="0.75"/>
<circle cx="214.32" cy="449.16" r="0.40" fill="#b9c4da" opacity="0.75"/>
<circle cx="206.90" cy="437.01" r="0.40" fill="#7fa0c8" opacity="0.75"/>
<circle cx="206.20" cy="449.45" r="0.40" fill="#a9b8d6" opacity="0.75"/>
<circle cx="208.53" cy="435.19" r="0.40" fill="#8aa6d0" opacity="0.75"/>
<circle cx="202.00" cy="433.82" r="0.40" fill="#b9c4da" opacity="0.75"/>
<circle cx="215.98" cy="444.84" r="0.40" fill="#a9b8d6" opacity="0.75"/>
<circle cx="215.92" cy="439.80" r="0.40" fill="#7fa0c8" opacity="0.75"/>
<circle cx="211.48" cy="449.95" r="0.40" fill="#b9c4da" opacity="0.75"/>
<circle cx="212.43" cy="437.78" r="0.40" fill="#7fa0c8" opacity="0.75"/>
<circle cx="201.74" cy="446.59" r="0.40" fill="#7fa0c8" opacity="0.75"/>
<circle cx="210.13" cy="435.50" r="0.40" fill="#b9c4da" opacity="0.75"/>
<circle cx="214.72" cy="441.02" r="0.40" fill="#b9c4da" opacity="0.75"/>
<circle cx="210.25" cy="440.00" r="0.40" fill="#7fa0c8" opacity="0.75"/>
<circle cx="204.96" cy="445.97" r="0.40" fill="#7fa0c8" opacity="0.75"/>
<circle cx="207.27" cy="434.88" r="0.40" fill="#b9c4da" opacity="0.75"/>
<circle cx="212.85" cy="448.37" r="0.40" fill="#b9c4da" opacity="0.75"/>
<circle cx="212.14" cy="440.55" r="0.40" fill="#b9c4da" opacity="0.75"/>
<circle cx="215.28" cy="445.54" r="0.40" fill="#7fa0c8" opacity="0.75"/>
<circle cx="204.30" cy="434.57" r="0.40" fill="#b9c4da" opacity="0.75"/>
<circle cx="214.88" cy="443.71" r="0.40" fill="#8aa6d0" opacity="0.75"/>
<circle cx="212.33" cy="437.51" r="0.40" fill="#8aa6d0" opacity="0.75"/>
<circle cx="214.43" cy="434.21" r="0.40" fill="#8aa6d0" opacity="0.75"/>
<circle cx="200.00" cy="444.36" r="0.40" fill="#b9c4da" opacity="0.75"/>
<circle cx="209.06" cy="445.01" r="0.40" fill="#8aa6d0" opacity="0.75"/>
<circle cx="211.82" cy="433.00" r="0.40" fill="#b9c4da" opacity="0.75"/>
<circle cx="203.16" cy="434.63" r="0.40" fill="#8aa6d0" opacity="0.75"/>
<circle cx="206.19" cy="445.77" r="0.40" fill="#8aa6d0" opacity="0.75"/>
<circle cx="199.97" cy="437.92" r="0.40" fill="#a9b8d6" opacity="0.75"/>
<circle cx="210.44" cy="431.82" r="0.40" fill="#8aa6d0" opacity="0.75"/>
<circle cx="199.43" cy="446.05" r="0.40" fill="#8aa6d0" opacity="0.75"/>
<circle cx="205.34" cy="432.81" r="0.40" fill="#a9b8d6" opacity="0.75"/>
<circle cx="211.49" cy="441.51" r="0.40" fill="#8aa6d0" opacity="0.75"/>
<circle cx="205.55" cy="430.95" r="0.40" fill="#a9b8d6" opacity="0.75"/>
<circle cx="215.29" cy="450.90" r="0.45" fill="#7a9ad0" opacity="0.8"/>
<circle cx="207.20" cy="443.55" r="0.45" fill="#3f9aa0" opacity="0.8"/>
<circle cx="213.34" cy="436.28" r="0.45" fill="#6f93c9" opacity="0.8"/>
<circle cx="201.45" cy="441.18" r="0.45" fill="#5a86c8" opacity="0.8"/>
<circle cx="205.97" cy="448.77" r="0.45" fill="#5a86c8" opacity="0.8"/>
<circle cx="216.63" cy="450.91" r="0.45" fill="#4a7cc0" opacity="0.8"/>
<circle cx="208.97" cy="436.97" r="0.45" fill="#3f9aa0" opacity="0.8"/>
<circle cx="209.92" cy="441.95" r="0.45" fill="#7a9ad0" opacity="0.8"/>
<circle cx="202.80" cy="440.70" r="0.45" fill="#7a9ad0" opacity="0.8"/>
<circle cx="219.94" cy="444.43" r="0.45" fill="#5a86c8" opacity="0.8"/>
<circle cx="219.93" cy="452.72" r="0.45" fill="#3f9aa0" opacity="0.8"/>
<circle cx="215.71" cy="451.22" r="0.45" fill="#3f9aa0" opacity="0.8"/>
<circle cx="207.48" cy="443.37" r="0.45" fill="#5a86c8" opacity="0.8"/>
<circle cx="200.99" cy="445.09" r="0.45" fill="#5a86c8" opacity="0.8"/>
<circle cx="211.71" cy="438.97" r="0.45" fill="#6f93c9" opacity="0.8"/>
<circle cx="213.10" cy="442.84" r="0.45" fill="#6f93c9" opacity="0.8"/>
<circle cx="200.81" cy="444.67" r="0.45" fill="#4a7cc0" opacity="0.8"/>
<circle cx="209.32" cy="445.83" r="0.45" fill="#6f93c9" opacity="0.8"/>
<circle cx="206.58" cy="446.08" r="0.45" fill="#3f9aa0" opacity="0.8"/>
<circle cx="206.19" cy="442.95" r="0.45" fill="#3f9aa0" opacity="0.8"/>
<circle cx="210.03" cy="443.91" r="0.45" fill="#5a86c8" opacity="0.8"/>
<circle cx="215.72" cy="451.00" r="0.45" fill="#3f9aa0" opacity="0.8"/>
<circle cx="213.10" cy="443.04" r="0.45" fill="#6f93c9" opacity="0.8"/>
<circle cx="210.96" cy="438.75" r="0.45" fill="#6f93c9" opacity="0.8"/>
<circle cx="204.57" cy="458.25" r="0.45" fill="#5a86c8" opacity="0.8"/>
<circle cx="212.42" cy="446.32" r="0.45" fill="#7a9ad0" opacity="0.8"/>
<circle cx="213.48" cy="438.33" r="0.45" fill="#6f93c9" opacity="0.8"/>
<circle cx="214.73" cy="441.07" r="0.45" fill="#4a7cc0" opacity="0.8"/>
<circle cx="220.24" cy="447.41" r="0.45" fill="#3f9aa0" opacity="0.8"/>
<circle cx="205.11" cy="449.44" r="0.45" fill="#6f93c9" opacity="0.8"/>
<circle cx="222.15" cy="434.01" r="0.45" fill="#3f9aa0" opacity="0.8"/>
<circle cx="213.85" cy="441.23" r="0.45" fill="#6f93c9" opacity="0.8"/>
<circle cx="216.05" cy="443.50" r="0.45" fill="#6f93c9" opacity="0.8"/>
<circle cx="208.06" cy="446.19" r="0.45" fill="#4a7cc0" opacity="0.8"/>
<circle cx="212.09" cy="444.94" r="0.45" fill="#3f9aa0" opacity="0.8"/>
<circle cx="211.95" cy="436.18" r="0.45" fill="#7a9ad0" opacity="0.8"/>
<circle cx="215.02" cy="444.49" r="0.45" fill="#7a9ad0" opacity="0.8"/>
<circle cx="215.06" cy="443.98" r="0.45" fill="#3f9aa0" opacity="0.8"/>
<circle cx="215.53" cy="445.30" r="0.45" fill="#4a7cc0" opacity="0.8"/>
<circle cx="220.05" cy="441.97" r="0.45" fill="#3f9aa0" opacity="0.8"/>
<circle cx="213.87" cy="444.00" r="0.45" fill="#6f93c9" opacity="0.8"/>
<circle cx="216.33" cy="439.38" r="0.45" fill="#4a7cc0" opacity="0.8"/>
<circle cx="215.24" cy="439.62" r="0.45" fill="#4a7cc0" opacity="0.8"/>
<circle cx="216.48" cy="437.48" r="0.45" fill="#3f9aa0" opacity="0.8"/>
<circle cx="199.19" cy="444.26" r="0.45" fill="#3f9aa0" opacity="0.8"/>
<circle cx="208.58" cy="449.93" r="0.45" fill="#7a9ad0" opacity="0.8"/>
<circle cx="216.63" cy="450.36" r="0.45" fill="#3f9aa0" opacity="0.8"/>
<circle cx="205.60" cy="429.33" r="0.45" fill="#5a86c8" opacity="0.8"/>
<circle cx="210.56" cy="448.31" r="0.45" fill="#4a7cc0" opacity="0.8"/>
<circle cx="215.35" cy="436.62" r="0.45" fill="#7a9ad0" opacity="0.8"/>
<circle cx="207.26" cy="433.86" r="0.45" fill="#4a7cc0" opacity="0.8"/>
<circle cx="212.64" cy="444.99" r="0.45" fill="#5a86c8" opacity="0.8"/>
<circle cx="214.05" cy="450.93" r="0.45" fill="#4a7cc0" opacity="0.8"/>
<circle cx="213.49" cy="444.32" r="0.45" fill="#7a9ad0" opacity="0.8"/>
<circle cx="215.79" cy="448.33" r="0.45" fill="#7a9ad0" opacity="0.8"/>
<circle cx="201.85" cy="450.61" r="0.45" fill="#6f93c9" opacity="0.8"/>
<circle cx="212.76" cy="446.31" r="0.45" fill="#3f9aa0" opacity="0.8"/>
<circle cx="213.72" cy="452.45" r="0.45" fill="#5a86c8" opacity="0.8"/>
<circle cx="205.82" cy="438.68" r="0.45" fill="#5a86c8" opacity="0.8"/>
<circle cx="211.17" cy="442.27" r="0.45" fill="#3f9aa0" opacity="0.8"/>
<circle cx="214.65" cy="438.45" r="0.45" fill="#6f93c9" opacity="0.8"/>
<circle cx="214.92" cy="451.44" r="0.45" fill="#7a9ad0" opacity="0.8"/>
<circle cx="218.31" cy="441.17" r="0.45" fill="#5a86c8" opacity="0.8"/>
<circle cx="211.11" cy="446.49" r="0.45" fill="#7a9ad0" opacity="0.8"/>
<circle cx="215.09" cy="433.14" r="0.45" fill="#3f9aa0" opacity="0.8"/>
<circle cx="213.37" cy="442.13" r="0.45" fill="#6f93c9" opacity="0.8"/>
<circle cx="217.87" cy="445.97" r="0.45" fill="#7a9ad0" opacity="0.8"/>
<circle cx="215.64" cy="441.94" r="0.45" fill="#6f93c9" opacity="0.8"/>
<circle cx="204.04" cy="441.76" r="0.45" fill="#5a86c8" opacity="0.8"/>
<circle cx="207.37" cy="439.44" r="0.45" fill="#4a7cc0" opacity="0.8"/>
<circle cx="208.04" cy="447.14" r="0.45" fill="#3f9aa0" opacity="0.8"/>
<circle cx="212.71" cy="444.49" r="0.45" fill="#5a86c8" opacity="0.8"/>
<circle cx="204.01" cy="435.22" r="0.45" fill="#3f9aa0" opacity="0.8"/>
<circle cx="197.67" cy="442.54" r="0.45" fill="#3f9aa0" opacity="0.8"/>
<circle cx="204.51" cy="444.31" r="0.45" fill="#3f9aa0" opacity="0.8"/>
<circle cx="212.12" cy="443.58" r="0.45" fill="#3f9aa0" opacity="0.8"/>
<circle cx="215.26" cy="444.26" r="0.45" fill="#6f93c9" opacity="0.8"/>
<circle cx="214.62" cy="434.22" r="0.45" fill="#3f9aa0" opacity="0.8"/>
<circle cx="212.64" cy="437.21" r="0.45" fill="#7a9ad0" opacity="0.8"/>
<circle cx="203.25" cy="443.70" r="0.45" fill="#5a86c8" opacity="0.8"/>
<circle cx="214.30" cy="443.86" r="0.45" fill="#7a9ad0" opacity="0.8"/>
<circle cx="208.63" cy="430.65" r="0.45" fill="#3f9aa0" opacity="0.8"/>
<circle cx="204.52" cy="435.77" r="0.45" fill="#6f93c9" opacity="0.8"/>
<circle cx="208.38" cy="434.37" r="0.45" fill="#4a7cc0" opacity="0.8"/>
<circle cx="204.58" cy="443.83" r="0.45" fill="#7a9ad0" opacity="0.8"/>
<circle cx="203.29" cy="435.61" r="0.45" fill="#5a86c8" opacity="0.8"/>
<circle cx="212.94" cy="446.43" r="0.45" fill="#3f9aa0" opacity="0.8"/>
<circle cx="210.50" cy="440.44" r="0.45" fill="#4a7cc0" opacity="0.8"/>
<circle cx="215.10" cy="445.44" r="0.45" fill="#3f9aa0" opacity="0.8"/>
<circle cx="210.71" cy="436.32" r="0.45" fill="#5a86c8" opacity="0.8"/>
<circle cx="214.31" cy="442.79" r="0.45" fill="#3f9aa0" opacity="0.8"/>
<circle cx="212.36" cy="448.22" r="0.45" fill="#6f93c9" opacity="0.8"/>
<circle cx="209.22" cy="438.76" r="0.45" fill="#5a86c8" opacity="0.8"/>
<circle cx="209.16" cy="447.13" r="0.45" fill="#4a7cc0" opacity="0.8"/>
<circle cx="216.29" cy="438.80" r="0.45" fill="#4a7cc0" opacity="0.8"/>
<circle cx="207.38" cy="440.21" r="0.45" fill="#3f9aa0" opacity="0.8"/>
<circle cx="214.03" cy="448.00" r="0.45" fill="#3f9aa0" opacity="0.8"/>
<circle cx="203.97" cy="446.21" r="0.45" fill="#7a9ad0" opacity="0.8"/>
<circle cx="207.05" cy="435.21" r="0.45" fill="#6f93c9" opacity="0.8"/>
<circle cx="210.50" cy="446.84" r="0.45" fill="#4a7cc0" opacity="0.8"/>
<circle cx="220.80" cy="445.35" r="0.45" fill="#7a9ad0" opacity="0.8"/>
<circle cx="217.44" cy="443.84" r="0.45" fill="#5a86c8" opacity="0.8"/>
<circle cx="206.24" cy="446.87" r="0.45" fill="#3f9aa0" opacity="0.8"/>
<circle cx="211.04" cy="443.74" r="0.45" fill="#6f93c9" opacity="0.8"/>
<circle cx="219.84" cy="455.91" r="0.45" fill="#4a7cc0" opacity="0.8"/>
<circle cx="199.82" cy="446.62" r="0.45" fill="#7a9ad0" opacity="0.8"/>
<circle cx="214.59" cy="449.75" r="0.45" fill="#3f9aa0" opacity="0.8"/>
<circle cx="209.28" cy="442.65" r="0.45" fill="#4a7cc0" opacity="0.8"/>
<circle cx="201.13" cy="449.18" r="0.45" fill="#4a7cc0" opacity="0.8"/>
<circle cx="212.54" cy="453.67" r="0.45" fill="#6f93c9" opacity="0.8"/>
<circle cx="221.17" cy="437.36" r="0.45" fill="#5a86c8" opacity="0.8"/>
<circle cx="209.84" cy="441.04" r="0.45" fill="#3f9aa0" opacity="0.8"/>
<circle cx="218.37" cy="437.14" r="0.45" fill="#4a7cc0" opacity="0.8"/>
<circle cx="214.72" cy="448.75" r="0.45" fill="#6f93c9" opacity="0.8"/>
<circle cx="205.00" cy="437.82" r="0.45" fill="#3f9aa0" opacity="0.8"/>
<circle cx="207.45" cy="434.87" r="0.45" fill="#4a7cc0" opacity="0.8"/>
<circle cx="210.37" cy="448.56" r="0.45" fill="#7a9ad0" opacity="0.8"/>
<circle cx="210.52" cy="442.37" r="0.45" fill="#5a86c8" opacity="0.8"/>
<circle cx="209.26" cy="439.64" r="0.45" fill="#5a86c8" opacity="0.8"/>
<circle cx="209.44" cy="439.50" r="0.45" fill="#7a9ad0" opacity="0.8"/>
<circle cx="209.04" cy="445.86" r="0.45" fill="#6f93c9" opacity="0.8"/>
<circle cx="202.69" cy="443.28" r="0.45" fill="#3f9aa0" opacity="0.8"/>
<circle cx="212.41" cy="445.36" r="0.45" fill="#7a9ad0" opacity="0.8"/>
<circle cx="205.53" cy="441.53" r="0.45" fill="#4a7cc0" opacity="0.8"/>
<circle cx="210.07" cy="435.75" r="0.45" fill="#5a86c8" opacity="0.8"/>
<circle cx="209.25" cy="446.76" r="0.45" fill="#6f93c9" opacity="0.8"/>
<circle cx="215.96" cy="444.41" r="0.45" fill="#6f93c9" opacity="0.8"/>
<circle cx="205.71" cy="436.62" r="0.45" fill="#5a86c8" opacity="0.8"/>
<circle cx="209.39" cy="436.22" r="0.45" fill="#4a7cc0" opacity="0.8"/>
<circle cx="214.90" cy="438.12" r="0.45" fill="#5a86c8" opacity="0.8"/>
<circle cx="217.90" cy="437.98" r="0.45" fill="#4a7cc0" opacity="0.8"/>
<circle cx="207.66" cy="435.13" r="0.45" fill="#6f93c9" opacity="0.8"/>
<circle cx="199.23" cy="440.28" r="0.45" fill="#7a9ad0" opacity="0.8"/>
<circle cx="200.88" cy="452.11" r="0.45" fill="#7a9ad0" opacity="0.8"/>
<circle cx="216.11" cy="443.39" r="0.45" fill="#6f93c9" opacity="0.8"/>
<circle cx="210.88" cy="444.34" r="0.45" fill="#3f9aa0" opacity="0.8"/>
<circle cx="209.03" cy="440.16" r="0.45" fill="#6f93c9" opacity="0.8"/>
<circle cx="205.33" cy="442.98" r="0.45" fill="#4a7cc0" opacity="0.8"/>
<circle cx="218.00" cy="442.91" r="0.45" fill="#3f9aa0" opacity="0.8"/>
<circle cx="210.28" cy="430.60" r="0.45" fill="#7a9ad0" opacity="0.8"/>
<circle cx="213.43" cy="435.70" r="0.45" fill="#2fa08c" opacity="0.8"/>
<circle cx="215.42" cy="447.97" r="0.45" fill="#2fa08c" opacity="0.8"/>
<circle cx="214.27" cy="443.07" r="0.45" fill="#2fa08c" opacity="0.8"/>
<circle cx="215.99" cy="441.17" r="0.45" fill="#2fa08c" opacity="0.8"/>
<circle cx="208.46" cy="448.61" r="0.45" fill="#56b64e" opacity="0.8"/>
<circle cx="218.16" cy="449.01" r="0.45" fill="#3aa070" opacity="0.8"/>
<circle cx="214.74" cy="439.59" r="0.45" fill="#3aa070" opacity="0.8"/>
<circle cx="203.58" cy="445.02" r="0.45" fill="#56b64e" opacity="0.8"/>
<circle cx="215.45" cy="435.40" r="0.45" fill="#2fa08c" opacity="0.8"/>
<circle cx="211.28" cy="433.47" r="0.45" fill="#2fa08c" opacity="0.8"/>
<circle cx="211.77" cy="443.75" r="0.45" fill="#2fa08c" opacity="0.8"/>
<circle cx="217.72" cy="443.01" r="0.45" fill="#56b64e" opacity="0.8"/>
<circle cx="216.43" cy="445.96" r="0.45" fill="#56b64e" opacity="0.8"/>
<circle cx="213.34" cy="443.36" r="0.45" fill="#3aa070" opacity="0.8"/>
<circle cx="216.75" cy="441.96" r="0.45" fill="#56b64e" opacity="0.8"/>
<circle cx="214.65" cy="448.28" r="0.45" fill="#56b64e" opacity="0.8"/>
<circle cx="212.98" cy="445.10" r="0.45" fill="#2fa08c" opacity="0.8"/>
<circle cx="213.95" cy="447.97" r="0.45" fill="#56b64e" opacity="0.8"/>
<circle cx="216.83" cy="444.56" r="0.45" fill="#56b64e" opacity="0.8"/>
<circle cx="214.75" cy="450.95" r="0.45" fill="#2fa08c" opacity="0.8"/>
<circle cx="212.44" cy="444.25" r="0.45" fill="#56b64e" opacity="0.8"/>
<circle cx="216.98" cy="448.28" r="0.45" fill="#56b64e" opacity="0.8"/>
<circle cx="212.93" cy="440.99" r="0.45" fill="#3aa070" opacity="0.8"/>
<circle cx="211.76" cy="448.20" r="0.45" fill="#3aa070" opacity="0.8"/>
<circle cx="214.99" cy="448.20" r="0.45" fill="#56b64e" opacity="0.8"/>
<circle cx="216.47" cy="440.94" r="0.45" fill="#2fa08c" opacity="0.8"/>
<circle cx="215.76" cy="444.26" r="0.45" fill="#3aa070" opacity="0.8"/>
<circle cx="213.90" cy="439.86" r="0.45" fill="#2fa08c" opacity="0.8"/>
<circle cx="225.25" cy="448.51" r="0.45" fill="#56b64e" opacity="0.8"/>
<circle cx="212.14" cy="447.62" r="0.45" fill="#3aa070" opacity="0.8"/>
<circle cx="211.81" cy="442.63" r="0.45" fill="#3aa070" opacity="0.8"/>
<circle cx="216.50" cy="441.54" r="0.45" fill="#3aa070" opacity="0.8"/>
<circle cx="214.14" cy="449.36" r="0.45" fill="#2fa08c" opacity="0.8"/>
<circle cx="216.50" cy="438.17" r="0.45" fill="#2fa08c" opacity="0.8"/>
<circle cx="221.75" cy="438.95" r="0.45" fill="#2fa08c" opacity="0.8"/>
<circle cx="213.70" cy="440.13" r="0.45" fill="#56b64e" opacity="0.8"/>
<circle cx="212.73" cy="447.58" r="0.45" fill="#3aa070" opacity="0.8"/>
<circle cx="210.64" cy="450.71" r="0.45" fill="#3aa070" opacity="0.8"/>
<circle cx="215.32" cy="444.53" r="0.45" fill="#2fa08c" opacity="0.8"/>
<circle cx="208.83" cy="446.04" r="0.45" fill="#2fa08c" opacity="0.8"/>
<circle cx="216.46" cy="435.57" r="0.45" fill="#56b64e" opacity="0.8"/>
<circle cx="212.33" cy="439.53" r="0.45" fill="#3aa070" opacity="0.8"/>
<circle cx="219.36" cy="451.96" r="0.45" fill="#2fa08c" opacity="0.8"/>
<circle cx="215.52" cy="443.54" r="0.45" fill="#2fa08c" opacity="0.8"/>
<circle cx="209.91" cy="442.29" r="0.45" fill="#2fa08c" opacity="0.8"/>
<circle cx="216.28" cy="449.11" r="0.45" fill="#3aa070" opacity="0.8"/>
<circle cx="216.77" cy="446.93" r="0.45" fill="#2fa08c" opacity="0.8"/>
<circle cx="216.09" cy="436.63" r="0.45" fill="#56b64e" opacity="0.8"/>
<circle cx="216.23" cy="439.41" r="0.45" fill="#56b64e" opacity="0.8"/>
<circle cx="213.16" cy="452.14" r="0.45" fill="#3aa070" opacity="0.8"/>
<circle cx="211.69" cy="446.20" r="0.45" fill="#56b64e" opacity="0.8"/>
<circle cx="218.76" cy="437.22" r="0.45" fill="#3aa070" opacity="0.8"/>
<circle cx="218.76" cy="447.99" r="0.45" fill="#2fa08c" opacity="0.8"/>
<circle cx="221.20" cy="454.63" r="0.45" fill="#3aa070" opacity="0.8"/>
<circle cx="221.57" cy="442.46" r="0.45" fill="#56b64e" opacity="0.8"/>
<circle cx="213.07" cy="442.41" r="0.45" fill="#3aa070" opacity="0.8"/>
<circle cx="219.96" cy="444.30" r="0.45" fill="#56b64e" opacity="0.8"/>
<circle cx="217.43" cy="443.77" r="0.45" fill="#3aa070" opacity="0.8"/>
<circle cx="212.81" cy="445.77" r="0.45" fill="#3aa070" opacity="0.8"/>
<circle cx="219.48" cy="444.22" r="0.45" fill="#3aa070" opacity="0.8"/>
<circle cx="218.76" cy="458.46" r="0.45" fill="#5a86c8" opacity="0.8"/>
<circle cx="212.83" cy="464.46" r="0.45" fill="#3f9aa0" opacity="0.8"/>
<circle cx="206.66" cy="463.50" r="0.45" fill="#4a7cc0" opacity="0.8"/>
<circle cx="208.92" cy="464.84" r="0.45" fill="#6f93c9" opacity="0.8"/>
<circle cx="208.03" cy="464.31" r="0.45" fill="#5a86c8" opacity="0.8"/>
<circle cx="214.25" cy="463.31" r="0.45" fill="#5a86c8" opacity="0.8"/>
<circle cx="201.70" cy="463.35" r="0.45" fill="#7a9ad0" opacity="0.8"/>
<circle cx="209.40" cy="460.64" r="0.45" fill="#5a86c8" opacity="0.8"/>
<circle cx="203.42" cy="460.11" r="0.45" fill="#6f93c9" opacity="0.8"/>
<circle cx="210.55" cy="471.97" r="0.45" fill="#6f93c9" opacity="0.8"/>
<circle cx="209.27" cy="459.21" r="0.45" fill="#6f93c9" opacity="0.8"/>
<circle cx="201.60" cy="459.94" r="0.45" fill="#4a7cc0" opacity="0.8"/>
<circle cx="207.80" cy="457.45" r="0.45" fill="#3f9aa0" opacity="0.8"/>
<circle cx="207.79" cy="461.33" r="0.45" fill="#4a7cc0" opacity="0.8"/>
<circle cx="202.42" cy="462.43" r="0.45" fill="#6f93c9" opacity="0.8"/>
<circle cx="209.74" cy="466.32" r="0.45" fill="#5a86c8" opacity="0.8"/>
<circle cx="203.79" cy="466.90" r="0.45" fill="#6f93c9" opacity="0.8"/>
<circle cx="207.85" cy="470.55" r="0.45" fill="#5a86c8" opacity="0.8"/>
<circle cx="206.46" cy="467.01" r="0.45" fill="#7a9ad0" opacity="0.8"/>
<circle cx="212.91" cy="460.61" r="0.45" fill="#4a7cc0" opacity="0.8"/>
<circle cx="208.89" cy="466.38" r="0.45" fill="#5a86c8" opacity="0.8"/>
<circle cx="206.75" cy="454.95" r="0.45" fill="#4a7cc0" opacity="0.8"/>
<circle cx="207.82" cy="466.44" r="0.45" fill="#6f93c9" opacity="0.8"/>
<circle cx="212.57" cy="466.90" r="0.45" fill="#3f9aa0" opacity="0.8"/>
<circle cx="210.51" cy="463.73" r="0.45" fill="#3f9aa0" opacity="0.8"/>
<circle cx="206.90" cy="465.85" r="0.45" fill="#4a7cc0" opacity="0.8"/>
<circle cx="204.33" cy="451.55" r="0.45" fill="#5a86c8" opacity="0.8"/>
<circle cx="208.97" cy="459.39" r="0.45" fill="#3f9aa0" opacity="0.8"/>
<circle cx="207.77" cy="464.08" r="0.45" fill="#7a9ad0" opacity="0.8"/>
<circle cx="206.09" cy="464.70" r="0.45" fill="#3f9aa0" opacity="0.8"/>
<circle cx="211.99" cy="462.93" r="0.45" fill="#5a86c8" opacity="0.8"/>
<circle cx="202.89" cy="461.49" r="0.45" fill="#6f93c9" opacity="0.8"/>
<circle cx="205.90" cy="462.68" r="0.45" fill="#5a86c8" opacity="0.8"/>
<circle cx="200.47" cy="469.07" r="0.45" fill="#3f9aa0" opacity="0.8"/>
<circle cx="209.49" cy="456.71" r="0.45" fill="#3f9aa0" opacity="0.8"/>
<circle cx="212.73" cy="454.22" r="0.45" fill="#3f9aa0" opacity="0.8"/>
<circle cx="219.37" cy="469.38" r="0.45" fill="#4a7cc0" opacity="0.8"/>
<circle cx="204.46" cy="462.51" r="0.45" fill="#7a9ad0" opacity="0.8"/>
<g filter="url(#bl)" opacity="0.9" transform="translate(215.00,446.00) rotate(10)">
<ellipse cx="0" cy="0" rx="4.60" ry="7.40" fill="#2fa08c"/>
<ellipse cx="0" cy="0" rx="3.59" ry="5.77" fill="#56b64e"/>
<ellipse cx="0" cy="0" rx="2.53" ry="4.07" fill="#a8cf40"/>
<ellipse cx="0" cy="0" rx="1.47" ry="2.37" fill="#e6df3a"/>
</g>
<g filter="url(#bl)" opacity="1.0" transform="translate(210.60,464.00) rotate(38)">
<ellipse cx="0" cy="0" rx="5.60" ry="7.40" fill="#5cba48"/>
<ellipse cx="0" cy="0" rx="4.82" ry="6.36" fill="#d8d040"/>
<ellipse cx="0" cy="0" rx="4.14" ry="5.48" fill="#f59a22"/>
<ellipse cx="0" cy="0" rx="3.36" ry="4.44" fill="#e62a1e"/>
</g>
<rect x="196.60" y="421.30" width="49.60" height="53.80" fill="none" stroke="#5f6078" stroke-width="0.9"/>
<line x1="218.40" y1="421.30" x2="218.40" y2="475.10" stroke="#4e5064" stroke-width="0.9"/>
<line x1="196.60" y1="456.30" x2="246.20" y2="456.30" stroke="#4e5064" stroke-width="0.9"/>
<text x="197.60" y="426.51" font-size="5.3" fill="#d3344e" stroke="#d3344e" stroke-width="0.04">38.11%</text>
<text x="245.20" y="426.51" font-size="5.3" text-anchor="end" fill="#d3344e" stroke="#d3344e" stroke-width="0.04">7.08%</text>
<text x="245.20" y="473.81" font-size="5.3" text-anchor="end" fill="#d3344e" stroke="#d3344e" stroke-width="0.04">0.12%</text>
<text x="197.40" y="474.44" font-size="2.6" fill="#333" stroke="#333" stroke-width="0.1">&#8226;&#8226;&#8226;</text>
<text x="195.60" y="428.56" font-size="4.6" text-anchor="end" fill="#555">10<tspan dy="-1" font-size="2.4">4</tspan></text>
<line x1="195.70" y1="426.90" x2="196.60" y2="426.90" stroke="#777" stroke-width="0.5"/>
<text x="195.60" y="446.36" font-size="4.6" text-anchor="end" fill="#555">10<tspan dy="-1" font-size="2.4">3</tspan></text>
<line x1="195.70" y1="444.70" x2="196.60" y2="444.70" stroke="#777" stroke-width="0.5"/>
<text x="195.60" y="463.96" font-size="4.6" text-anchor="end" fill="#555">10<tspan dy="-1" font-size="2.4">2</tspan></text>
<line x1="195.70" y1="462.30" x2="196.60" y2="462.30" stroke="#777" stroke-width="0.5"/>
<text x="195.60" y="473.56" font-size="4.6" text-anchor="end" fill="#555">-10<tspan dy="-1" font-size="2.4">2</tspan></text>
<line x1="195.70" y1="471.90" x2="196.60" y2="471.90" stroke="#777" stroke-width="0.5"/>
<text x="0" y="1.51" font-size="4.2" text-anchor="middle" fill="#5a5a5a" transform="translate(197.80,480.90) rotate(-60)">10<tspan dy="-1" font-size="2.6">3</tspan></text>
<text x="0" y="1.51" font-size="4.2" text-anchor="middle" fill="#5a5a5a" transform="translate(203.00,480.90) rotate(-60)">10<tspan dy="-1" font-size="2.6">3</tspan></text>
<text x="0" y="1.51" font-size="4.2" text-anchor="middle" fill="#5a5a5a" transform="translate(209.90,480.90) rotate(-60)">10<tspan dy="-1" font-size="2.6">3</tspan></text>
<text x="0" y="1.51" font-size="4.2" text-anchor="middle" fill="#5a5a5a" transform="translate(223.80,480.90) rotate(-60)">10<tspan dy="-1" font-size="2.6">3</tspan></text>
<text x="0" y="1.51" font-size="4.2" text-anchor="middle" fill="#5a5a5a" transform="translate(236.80,480.90) rotate(-60)">10<tspan dy="-1" font-size="2.6">3</tspan></text>
<circle cx="133.91" cy="519.05" r="0.40" fill="#8aa6d0" opacity="0.75"/>
<circle cx="137.08" cy="517.86" r="0.40" fill="#7fa0c8" opacity="0.75"/>
<circle cx="137.67" cy="518.96" r="0.40" fill="#a9b8d6" opacity="0.75"/>
<circle cx="143.96" cy="510.83" r="0.40" fill="#8aa6d0" opacity="0.75"/>
<circle cx="143.90" cy="508.90" r="0.40" fill="#7fa0c8" opacity="0.75"/>
<circle cx="137.37" cy="518.07" r="0.40" fill="#a9b8d6" opacity="0.75"/>
<circle cx="132.06" cy="531.68" r="0.40" fill="#7fa0c8" opacity="0.75"/>
<circle cx="138.57" cy="517.21" r="0.40" fill="#7fa0c8" opacity="0.75"/>
<circle cx="146.56" cy="511.25" r="0.40" fill="#a9b8d6" opacity="0.75"/>
<circle cx="139.08" cy="516.05" r="0.40" fill="#a9b8d6" opacity="0.75"/>
<circle cx="135.50" cy="524.94" r="0.40" fill="#7fa0c8" opacity="0.75"/>
<circle cx="138.00" cy="521.09" r="0.40" fill="#7fa0c8" opacity="0.75"/>
<circle cx="144.58" cy="515.52" r="0.40" fill="#b9c4da" opacity="0.75"/>
<circle cx="134.19" cy="523.56" r="0.40" fill="#8aa6d0" opacity="0.75"/>
<circle cx="129.36" cy="531.15" r="0.40" fill="#b9c4da" opacity="0.75"/>
<circle cx="145.12" cy="512.95" r="0.40" fill="#7fa0c8" opacity="0.75"/>
<circle cx="138.52" cy="518.10" r="0.40" fill="#8aa6d0" opacity="0.75"/>
<circle cx="136.26" cy="518.66" r="0.40" fill="#a9b8d6" opacity="0.75"/>
<circle cx="133.09" cy="525.26" r="0.40" fill="#7fa0c8" opacity="0.75"/>
<circle cx="135.38" cy="520.02" r="0.40" fill="#b9c4da" opacity="0.75"/>
<circle cx="134.88" cy="518.03" r="0.40" fill="#8aa6d0" opacity="0.75"/>
<circle cx="126.55" cy="531.53" r="0.40" fill="#b9c4da" opacity="0.75"/>
<circle cx="135.27" cy="522.67" r="0.40" fill="#b9c4da" opacity="0.75"/>
<circle cx="147.55" cy="511.13" r="0.40" fill="#a9b8d6" opacity="0.75"/>
<circle cx="145.78" cy="511.19" r="0.40" fill="#7fa0c8" opacity="0.75"/>
<circle cx="144.06" cy="514.04" r="0.40" fill="#a9b8d6" opacity="0.75"/>
<circle cx="130.22" cy="528.25" r="0.40" fill="#7fa0c8" opacity="0.75"/>
<circle cx="130.42" cy="528.69" r="0.40" fill="#a9b8d6" opacity="0.75"/>
<circle cx="148.60" cy="510.72" r="0.40" fill="#a9b8d6" opacity="0.75"/>
<circle cx="143.93" cy="509.37" r="0.40" fill="#b9c4da" opacity="0.75"/>
<circle cx="148.36" cy="507.15" r="0.40" fill="#7fa0c8" opacity="0.75"/>
<circle cx="145.94" cy="512.51" r="0.40" fill="#b9c4da" opacity="0.75"/>
<circle cx="150.29" cy="504.32" r="0.40" fill="#8aa6d0" opacity="0.75"/>
<circle cx="146.31" cy="503.15" r="0.40" fill="#7fa0c8" opacity="0.75"/>
<circle cx="145.19" cy="512.86" r="0.40" fill="#8aa6d0" opacity="0.75"/>
<circle cx="147.27" cy="505.34" r="0.40" fill="#b9c4da" opacity="0.75"/>
<circle cx="147.16" cy="510.24" r="0.40" fill="#8aa6d0" opacity="0.75"/>
<circle cx="132.94" cy="521.36" r="0.40" fill="#a9b8d6" opacity="0.75"/>
<circle cx="142.25" cy="513.80" r="0.40" fill="#b9c4da" opacity="0.75"/>
<circle cx="141.11" cy="517.56" r="0.40" fill="#8aa6d0" opacity="0.75"/>
<circle cx="137.92" cy="535.23" r="0.50" fill="#3f9aa0" opacity="0.8"/>
<circle cx="136.13" cy="536.38" r="0.50" fill="#5a86c8" opacity="0.8"/>
<circle cx="125.77" cy="532.92" r="0.50" fill="#4a7cc0" opacity="0.8"/>
<circle cx="140.92" cy="542.88" r="0.50" fill="#5a86c8" opacity="0.8"/>
<circle cx="139.86" cy="540.62" r="0.50" fill="#3f9aa0" opacity="0.8"/>
<circle cx="130.99" cy="534.34" r="0.50" fill="#6f93c9" opacity="0.8"/>
<circle cx="136.01" cy="535.67" r="0.50" fill="#3f9aa0" opacity="0.8"/>
<circle cx="132.78" cy="538.42" r="0.50" fill="#3f9aa0" opacity="0.8"/>
<circle cx="125.12" cy="546.22" r="0.50" fill="#4a7cc0" opacity="0.8"/>
<circle cx="133.99" cy="528.86" r="0.50" fill="#6f93c9" opacity="0.8"/>
<circle cx="136.82" cy="535.72" r="0.50" fill="#4a7cc0" opacity="0.8"/>
<circle cx="132.51" cy="538.19" r="0.50" fill="#3f9aa0" opacity="0.8"/>
<circle cx="144.60" cy="536.85" r="0.50" fill="#3f9aa0" opacity="0.8"/>
<circle cx="132.55" cy="531.57" r="0.50" fill="#3f9aa0" opacity="0.8"/>
<circle cx="134.50" cy="531.09" r="0.50" fill="#4a7cc0" opacity="0.8"/>
<circle cx="130.34" cy="535.53" r="0.50" fill="#7a9ad0" opacity="0.8"/>
<circle cx="131.95" cy="540.20" r="0.50" fill="#7a9ad0" opacity="0.8"/>
<circle cx="150.94" cy="531.05" r="0.50" fill="#5a86c8" opacity="0.8"/>
<circle cx="136.27" cy="530.03" r="0.50" fill="#4a7cc0" opacity="0.8"/>
<circle cx="121.92" cy="529.83" r="0.50" fill="#7a9ad0" opacity="0.8"/>
<circle cx="138.27" cy="537.18" r="0.50" fill="#6f93c9" opacity="0.8"/>
<circle cx="124.37" cy="545.66" r="0.50" fill="#3f9aa0" opacity="0.8"/>
<circle cx="133.89" cy="540.00" r="0.50" fill="#4a7cc0" opacity="0.8"/>
<circle cx="138.05" cy="537.65" r="0.50" fill="#7a9ad0" opacity="0.8"/>
<circle cx="125.05" cy="538.61" r="0.50" fill="#6f93c9" opacity="0.8"/>
<circle cx="133.94" cy="530.38" r="0.50" fill="#5a86c8" opacity="0.8"/>
<circle cx="138.90" cy="534.02" r="0.50" fill="#4a7cc0" opacity="0.8"/>
<circle cx="132.32" cy="523.54" r="0.50" fill="#3f9aa0" opacity="0.8"/>
<circle cx="142.71" cy="537.94" r="0.50" fill="#6f93c9" opacity="0.8"/>
<circle cx="133.99" cy="540.70" r="0.50" fill="#6f93c9" opacity="0.8"/>
<circle cx="127.00" cy="535.49" r="0.50" fill="#5a86c8" opacity="0.8"/>
<circle cx="124.33" cy="535.98" r="0.50" fill="#6f93c9" opacity="0.8"/>
<circle cx="129.34" cy="519.89" r="0.50" fill="#5a86c8" opacity="0.8"/>
<circle cx="134.69" cy="545.21" r="0.50" fill="#3f9aa0" opacity="0.8"/>
<circle cx="134.48" cy="535.73" r="0.50" fill="#3f9aa0" opacity="0.8"/>
<circle cx="129.34" cy="531.76" r="0.50" fill="#5a86c8" opacity="0.8"/>
<circle cx="140.24" cy="540.73" r="0.50" fill="#6f93c9" opacity="0.8"/>
<circle cx="142.87" cy="537.56" r="0.50" fill="#4a7cc0" opacity="0.8"/>
<circle cx="138.52" cy="520.90" r="0.50" fill="#7a9ad0" opacity="0.8"/>
<circle cx="132.16" cy="527.92" r="0.50" fill="#6f93c9" opacity="0.8"/>
<circle cx="132.52" cy="528.12" r="0.50" fill="#6f93c9" opacity="0.8"/>
<circle cx="129.05" cy="539.25" r="0.50" fill="#6f93c9" opacity="0.8"/>
<circle cx="125.74" cy="537.28" r="0.50" fill="#3f9aa0" opacity="0.8"/>
<circle cx="132.34" cy="540.14" r="0.50" fill="#6f93c9" opacity="0.8"/>
<circle cx="137.05" cy="525.30" r="0.50" fill="#7a9ad0" opacity="0.8"/>
<circle cx="132.10" cy="527.65" r="0.50" fill="#4a7cc0" opacity="0.8"/>
<circle cx="143.60" cy="537.32" r="0.50" fill="#3f9aa0" opacity="0.8"/>
<circle cx="136.18" cy="539.35" r="0.50" fill="#7a9ad0" opacity="0.8"/>
<circle cx="138.53" cy="547.11" r="0.50" fill="#7a9ad0" opacity="0.8"/>
<circle cx="130.68" cy="533.84" r="0.50" fill="#7a9ad0" opacity="0.8"/>
<circle cx="133.95" cy="523.81" r="0.50" fill="#5a86c8" opacity="0.8"/>
<circle cx="123.91" cy="536.95" r="0.50" fill="#7a9ad0" opacity="0.8"/>
<circle cx="134.78" cy="539.03" r="0.50" fill="#7a9ad0" opacity="0.8"/>
<circle cx="135.38" cy="536.52" r="0.50" fill="#3f9aa0" opacity="0.8"/>
<circle cx="132.02" cy="537.66" r="0.50" fill="#4a7cc0" opacity="0.8"/>
<circle cx="132.80" cy="539.53" r="0.50" fill="#7a9ad0" opacity="0.8"/>
<circle cx="138.19" cy="537.71" r="0.50" fill="#4a7cc0" opacity="0.8"/>
<circle cx="141.92" cy="528.89" r="0.50" fill="#3f9aa0" opacity="0.8"/>
<circle cx="126.68" cy="537.59" r="0.50" fill="#4a7cc0" opacity="0.8"/>
<circle cx="133.04" cy="536.11" r="0.50" fill="#4a7cc0" opacity="0.8"/>
<circle cx="133.02" cy="541.50" r="0.50" fill="#5a86c8" opacity="0.8"/>
<circle cx="139.80" cy="534.43" r="0.50" fill="#7a9ad0" opacity="0.8"/>
<circle cx="135.24" cy="529.93" r="0.50" fill="#4a7cc0" opacity="0.8"/>
<circle cx="129.64" cy="532.08" r="0.50" fill="#4a7cc0" opacity="0.8"/>
<circle cx="135.23" cy="538.32" r="0.50" fill="#6f93c9" opacity="0.8"/>
<circle cx="136.34" cy="523.39" r="0.50" fill="#6f93c9" opacity="0.8"/>
<circle cx="134.68" cy="533.82" r="0.50" fill="#6f93c9" opacity="0.8"/>
<circle cx="129.88" cy="535.24" r="0.50" fill="#3f9aa0" opacity="0.8"/>
<circle cx="123.22" cy="533.56" r="0.50" fill="#7a9ad0" opacity="0.8"/>
<circle cx="136.56" cy="529.16" r="0.50" fill="#4a7cc0" opacity="0.8"/>
<circle cx="131.00" cy="533.58" r="0.50" fill="#3f9aa0" opacity="0.8"/>
<circle cx="142.45" cy="537.33" r="0.50" fill="#4a7cc0" opacity="0.8"/>
<circle cx="149.25" cy="539.44" r="0.50" fill="#7a9ad0" opacity="0.8"/>
<circle cx="134.59" cy="537.84" r="0.50" fill="#6f93c9" opacity="0.8"/>
<circle cx="139.20" cy="536.71" r="0.50" fill="#3f9aa0" opacity="0.8"/>
<circle cx="135.41" cy="528.68" r="0.50" fill="#5a86c8" opacity="0.8"/>
<circle cx="131.10" cy="545.01" r="0.50" fill="#3f9aa0" opacity="0.8"/>
<circle cx="136.84" cy="546.79" r="0.50" fill="#6f93c9" opacity="0.8"/>
<circle cx="135.82" cy="536.01" r="0.50" fill="#3f9aa0" opacity="0.8"/>
<circle cx="128.62" cy="537.53" r="0.50" fill="#3f9aa0" opacity="0.8"/>
<g filter="url(#bl)" opacity="1.0" transform="translate(134.20,538.00) rotate(42)">
<ellipse cx="0" cy="0" rx="6.20" ry="9.40" fill="#2f8aa8"/>
<ellipse cx="0" cy="0" rx="5.33" ry="8.08" fill="#23988a"/>
<ellipse cx="0" cy="0" rx="4.46" ry="6.77" fill="#6cbd3e"/>
<ellipse cx="0" cy="0" rx="3.47" ry="5.26" fill="#f0e02c"/>
<ellipse cx="0" cy="0" rx="2.60" ry="3.95" fill="#f59a22"/>
<ellipse cx="0" cy="0" rx="1.74" ry="2.63" fill="#e62a1e"/>
</g>
<rect x="120.40" y="493.60" width="49.60" height="54.60" fill="none" stroke="#5f6078" stroke-width="0.9"/>
<line x1="142.40" y1="493.60" x2="142.40" y2="548.20" stroke="#4e5064" stroke-width="0.9"/>
<line x1="120.40" y1="529.40" x2="170.00" y2="529.40" stroke="#4e5064" stroke-width="0.9"/>
<text x="121.40" y="498.81" font-size="5.3" fill="#d3344e" stroke="#d3344e" stroke-width="0.04">8.38%</text>
<text x="169.00" y="498.81" font-size="5.3" text-anchor="end" fill="#d3344e" stroke="#d3344e" stroke-width="0.04">3.91%</text>
<text x="169.00" y="546.91" font-size="5.3" text-anchor="end" fill="#d3344e" stroke="#d3344e" stroke-width="0.04">0.71%</text>
<text x="121.20" y="547.54" font-size="2.6" fill="#333" stroke="#333" stroke-width="0.1">&#8226;&#8226;&#8226;</text>
<text x="119.40" y="500.86" font-size="4.6" text-anchor="end" fill="#555">10<tspan dy="-1" font-size="2.4">4</tspan></text>
<line x1="119.50" y1="499.20" x2="120.40" y2="499.20" stroke="#777" stroke-width="0.5"/>
<text x="119.40" y="518.66" font-size="4.6" text-anchor="end" fill="#555">10<tspan dy="-1" font-size="2.4">3</tspan></text>
<line x1="119.50" y1="517.00" x2="120.40" y2="517.00" stroke="#777" stroke-width="0.5"/>
<text x="119.40" y="537.06" font-size="4.6" text-anchor="end" fill="#555">10<tspan dy="-1" font-size="2.4">2</tspan></text>
<line x1="119.50" y1="535.40" x2="120.40" y2="535.40" stroke="#777" stroke-width="0.5"/>
<text x="119.40" y="546.66" font-size="4.6" text-anchor="end" fill="#555">-10<tspan dy="-1" font-size="2.4">2</tspan></text>
<line x1="119.50" y1="545.00" x2="120.40" y2="545.00" stroke="#777" stroke-width="0.5"/>
<text x="0" y="1.51" font-size="4.2" text-anchor="middle" fill="#5a5a5a" transform="translate(121.60,554.00) rotate(-60)">10<tspan dy="-1" font-size="2.6">3</tspan></text>
<text x="0" y="1.51" font-size="4.2" text-anchor="middle" fill="#5a5a5a" transform="translate(126.80,554.00) rotate(-60)">10<tspan dy="-1" font-size="2.6">3</tspan></text>
<text x="0" y="1.51" font-size="4.2" text-anchor="middle" fill="#5a5a5a" transform="translate(133.70,554.00) rotate(-60)">10<tspan dy="-1" font-size="2.6">3</tspan></text>
<text x="0" y="1.51" font-size="4.2" text-anchor="middle" fill="#5a5a5a" transform="translate(147.60,554.00) rotate(-60)">10<tspan dy="-1" font-size="2.6">3</tspan></text>
<text x="0" y="1.51" font-size="4.2" text-anchor="middle" fill="#5a5a5a" transform="translate(160.60,554.00) rotate(-60)">10<tspan dy="-1" font-size="2.6">3</tspan></text>
<circle cx="213.67" cy="502.89" r="0.40" fill="#7fa0c8" opacity="0.75"/>
<circle cx="219.49" cy="502.52" r="0.40" fill="#8aa6d0" opacity="0.75"/>
<circle cx="217.64" cy="525.70" r="0.40" fill="#8aa6d0" opacity="0.75"/>
<circle cx="213.33" cy="515.03" r="0.40" fill="#b9c4da" opacity="0.75"/>
<circle cx="226.71" cy="523.15" r="0.40" fill="#b9c4da" opacity="0.75"/>
<circle cx="213.15" cy="525.97" r="0.40" fill="#b9c4da" opacity="0.75"/>
<circle cx="227.21" cy="505.42" r="0.40" fill="#b9c4da" opacity="0.75"/>
<circle cx="214.95" cy="524.29" r="0.40" fill="#b9c4da" opacity="0.75"/>
<circle cx="210.08" cy="516.96" r="0.40" fill="#7fa0c8" opacity="0.75"/>
<circle cx="220.14" cy="504.98" r="0.40" fill="#7fa0c8" opacity="0.75"/>
<circle cx="214.72" cy="526.45" r="0.40" fill="#b9c4da" opacity="0.75"/>
<circle cx="208.17" cy="508.17" r="0.40" fill="#b9c4da" opacity="0.75"/>
<circle cx="228.35" cy="514.23" r="0.40" fill="#7fa0c8" opacity="0.75"/>
<circle cx="218.17" cy="508.07" r="0.40" fill="#7fa0c8" opacity="0.75"/>
<circle cx="211.87" cy="508.54" r="0.40" fill="#8aa6d0" opacity="0.75"/>
<circle cx="209.95" cy="512.95" r="0.40" fill="#b9c4da" opacity="0.75"/>
<circle cx="220.45" cy="518.14" r="0.40" fill="#b9c4da" opacity="0.75"/>
<circle cx="211.48" cy="518.87" r="0.40" fill="#8aa6d0" opacity="0.75"/>
<circle cx="217.91" cy="505.67" r="0.40" fill="#7fa0c8" opacity="0.75"/>
<circle cx="214.63" cy="509.96" r="0.40" fill="#b9c4da" opacity="0.75"/>
<circle cx="223.23" cy="505.56" r="0.40" fill="#b9c4da" opacity="0.75"/>
<circle cx="210.42" cy="501.73" r="0.40" fill="#a9b8d6" opacity="0.75"/>
<circle cx="214.66" cy="516.30" r="0.40" fill="#a9b8d6" opacity="0.75"/>
<circle cx="210.93" cy="526.17" r="0.40" fill="#b9c4da" opacity="0.75"/>
<circle cx="219.02" cy="501.20" r="0.40" fill="#8aa6d0" opacity="0.75"/>
<circle cx="217.61" cy="515.94" r="0.45" fill="#4a7cc0" opacity="0.8"/>
<circle cx="223.63" cy="507.44" r="0.45" fill="#7a9ad0" opacity="0.8"/>
<circle cx="215.82" cy="509.42" r="0.45" fill="#6f93c9" opacity="0.8"/>
<circle cx="223.40" cy="512.35" r="0.45" fill="#5a86c8" opacity="0.8"/>
<circle cx="217.57" cy="513.73" r="0.45" fill="#4a7cc0" opacity="0.8"/>
<circle cx="223.91" cy="511.12" r="0.45" fill="#7a9ad0" opacity="0.8"/>
<circle cx="216.47" cy="502.80" r="0.45" fill="#5a86c8" opacity="0.8"/>
<circle cx="224.37" cy="519.28" r="0.45" fill="#3f9aa0" opacity="0.8"/>
<circle cx="225.78" cy="500.61" r="0.45" fill="#4a7cc0" opacity="0.8"/>
<circle cx="223.82" cy="515.34" r="0.45" fill="#3f9aa0" opacity="0.8"/>
<circle cx="224.74" cy="520.42" r="0.45" fill="#5a86c8" opacity="0.8"/>
<circle cx="222.04" cy="514.59" r="0.45" fill="#4a7cc0" opacity="0.8"/>
<circle cx="223.72" cy="514.31" r="0.45" fill="#6f93c9" opacity="0.8"/>
<circle cx="225.83" cy="513.71" r="0.45" fill="#3f9aa0" opacity="0.8"/>
<circle cx="226.63" cy="501.96" r="0.45" fill="#7a9ad0" opacity="0.8"/>
<circle cx="218.27" cy="514.24" r="0.45" fill="#5a86c8" opacity="0.8"/>
<circle cx="214.46" cy="518.50" r="0.45" fill="#3f9aa0" opacity="0.8"/>
<circle cx="222.07" cy="507.53" r="0.45" fill="#5a86c8" opacity="0.8"/>
<circle cx="223.30" cy="518.64" r="0.45" fill="#3f9aa0" opacity="0.8"/>
<circle cx="213.36" cy="517.95" r="0.45" fill="#6f93c9" opacity="0.8"/>
<circle cx="220.75" cy="512.24" r="0.45" fill="#3f9aa0" opacity="0.8"/>
<circle cx="218.93" cy="515.94" r="0.45" fill="#5a86c8" opacity="0.8"/>
<circle cx="218.49" cy="499.52" r="0.45" fill="#5a86c8" opacity="0.8"/>
<circle cx="227.01" cy="510.94" r="0.45" fill="#3f9aa0" opacity="0.8"/>
<circle cx="215.81" cy="500.97" r="0.45" fill="#6f93c9" opacity="0.8"/>
<circle cx="214.00" cy="510.04" r="0.45" fill="#5a86c8" opacity="0.8"/>
<circle cx="223.25" cy="510.58" r="0.45" fill="#3f9aa0" opacity="0.8"/>
<circle cx="216.74" cy="518.72" r="0.45" fill="#3f9aa0" opacity="0.8"/>
<circle cx="220.45" cy="508.77" r="0.45" fill="#7a9ad0" opacity="0.8"/>
<circle cx="210.01" cy="507.19" r="0.45" fill="#4a7cc0" opacity="0.8"/>
<circle cx="218.38" cy="528.83" r="0.45" fill="#7a9ad0" opacity="0.8"/>
<circle cx="222.24" cy="501.56" r="0.45" fill="#7a9ad0" opacity="0.8"/>
<circle cx="220.05" cy="499.02" r="0.45" fill="#4a7cc0" opacity="0.8"/>
<circle cx="217.04" cy="510.21" r="0.45" fill="#4a7cc0" opacity="0.8"/>
<circle cx="222.82" cy="522.75" r="0.45" fill="#5a86c8" opacity="0.8"/>
<circle cx="225.65" cy="511.23" r="0.45" fill="#6f93c9" opacity="0.8"/>
<circle cx="222.26" cy="517.92" r="0.45" fill="#4a7cc0" opacity="0.8"/>
<circle cx="214.63" cy="520.51" r="0.45" fill="#3f9aa0" opacity="0.8"/>
<circle cx="214.21" cy="504.65" r="0.45" fill="#6f93c9" opacity="0.8"/>
<circle cx="220.66" cy="504.10" r="0.45" fill="#7a9ad0" opacity="0.8"/>
<circle cx="226.56" cy="502.80" r="0.45" fill="#5a86c8" opacity="0.8"/>
<circle cx="223.07" cy="523.32" r="0.45" fill="#4a7cc0" opacity="0.8"/>
<circle cx="216.52" cy="504.67" r="0.45" fill="#4a7cc0" opacity="0.8"/>
<circle cx="209.75" cy="523.36" r="0.45" fill="#5a86c8" opacity="0.8"/>
<circle cx="226.44" cy="515.09" r="0.45" fill="#7a9ad0" opacity="0.8"/>
<circle cx="221.02" cy="519.87" r="0.45" fill="#7a9ad0" opacity="0.8"/>
<circle cx="219.26" cy="518.05" r="0.45" fill="#3f9aa0" opacity="0.8"/>
<circle cx="213.55" cy="502.27" r="0.45" fill="#7a9ad0" opacity="0.8"/>
<circle cx="216.63" cy="506.25" r="0.45" fill="#3f9aa0" opacity="0.8"/>
<circle cx="222.03" cy="500.27" r="0.45" fill="#4a7cc0" opacity="0.8"/>
<circle cx="224.15" cy="517.19" r="0.45" fill="#3f9aa0" opacity="0.8"/>
<circle cx="220.30" cy="517.05" r="0.45" fill="#3f9aa0" opacity="0.8"/>
<circle cx="219.13" cy="517.82" r="0.45" fill="#3f9aa0" opacity="0.8"/>
<circle cx="227.82" cy="506.49" r="0.45" fill="#5a86c8" opacity="0.8"/>
<circle cx="222.28" cy="502.96" r="0.45" fill="#4a7cc0" opacity="0.8"/>
<circle cx="215.49" cy="516.91" r="0.45" fill="#7a9ad0" opacity="0.8"/>
<circle cx="215.83" cy="507.94" r="0.45" fill="#5a86c8" opacity="0.8"/>
<circle cx="221.61" cy="527.99" r="0.45" fill="#6f93c9" opacity="0.8"/>
<circle cx="219.15" cy="513.09" r="0.45" fill="#6f93c9" opacity="0.8"/>
<circle cx="218.97" cy="511.64" r="0.45" fill="#7a9ad0" opacity="0.8"/>
<circle cx="215.87" cy="504.92" r="0.45" fill="#6f93c9" opacity="0.8"/>
<circle cx="219.36" cy="504.18" r="0.45" fill="#4a7cc0" opacity="0.8"/>
<circle cx="223.85" cy="513.96" r="0.45" fill="#6f93c9" opacity="0.8"/>
<circle cx="218.06" cy="503.38" r="0.45" fill="#6f93c9" opacity="0.8"/>
<circle cx="218.75" cy="511.46" r="0.45" fill="#7a9ad0" opacity="0.8"/>
<circle cx="222.19" cy="520.35" r="0.45" fill="#3f9aa0" opacity="0.8"/>
<circle cx="223.86" cy="512.73" r="0.45" fill="#7a9ad0" opacity="0.8"/>
<circle cx="218.72" cy="513.91" r="0.45" fill="#7a9ad0" opacity="0.8"/>
<circle cx="216.36" cy="500.30" r="0.45" fill="#7a9ad0" opacity="0.8"/>
<circle cx="217.18" cy="511.62" r="0.45" fill="#5a86c8" opacity="0.8"/>
<circle cx="217.12" cy="517.40" r="0.45" fill="#3f9aa0" opacity="0.8"/>
<circle cx="221.23" cy="516.17" r="0.45" fill="#5a86c8" opacity="0.8"/>
<circle cx="220.70" cy="512.54" r="0.45" fill="#7a9ad0" opacity="0.8"/>
<circle cx="223.20" cy="508.03" r="0.45" fill="#5a86c8" opacity="0.8"/>
<circle cx="223.29" cy="528.24" r="0.45" fill="#5a86c8" opacity="0.8"/>
<circle cx="227.93" cy="501.25" r="0.45" fill="#7a9ad0" opacity="0.8"/>
<circle cx="209.64" cy="508.95" r="0.45" fill="#7a9ad0" opacity="0.8"/>
<circle cx="218.45" cy="516.00" r="0.45" fill="#3f9aa0" opacity="0.8"/>
<circle cx="221.04" cy="498.37" r="0.45" fill="#3f9aa0" opacity="0.8"/>
<circle cx="216.58" cy="512.62" r="0.45" fill="#6f93c9" opacity="0.8"/>
<circle cx="216.49" cy="510.71" r="0.45" fill="#4a7cc0" opacity="0.8"/>
<circle cx="222.78" cy="508.59" r="0.45" fill="#5a86c8" opacity="0.8"/>
<circle cx="220.13" cy="502.28" r="0.45" fill="#4a7cc0" opacity="0.8"/>
<circle cx="221.95" cy="505.87" r="0.45" fill="#7a9ad0" opacity="0.8"/>
<circle cx="219.96" cy="527.68" r="0.45" fill="#7a9ad0" opacity="0.8"/>
<circle cx="219.62" cy="514.91" r="0.45" fill="#7a9ad0" opacity="0.8"/>
<circle cx="223.84" cy="511.78" r="0.45" fill="#3f9aa0" opacity="0.8"/>
<circle cx="224.04" cy="504.94" r="0.45" fill="#5a86c8" opacity="0.8"/>
<circle cx="212.24" cy="526.02" r="0.45" fill="#7a9ad0" opacity="0.8"/>
<g filter="url(#bl)" opacity="1.0" transform="translate(218.40,515.00) rotate(8)">
<ellipse cx="0" cy="0" rx="3.40" ry="12.50" fill="#3f7fba"/>
<ellipse cx="0" cy="0" rx="2.55" ry="9.38" fill="#22988a"/>
<ellipse cx="0" cy="0" rx="1.70" ry="6.25" fill="#6cbd3e"/>
</g>
<g filter="url(#bl)" opacity="1.0" transform="translate(221.00,507.00) rotate(10)">
<ellipse cx="0" cy="0" rx="6.40" ry="8.60" fill="#2f8aa8"/>
<ellipse cx="0" cy="0" rx="5.50" ry="7.40" fill="#23988a"/>
<ellipse cx="0" cy="0" rx="4.48" ry="6.02" fill="#6cbd3e"/>
<ellipse cx="0" cy="0" rx="3.52" ry="4.73" fill="#f0e02c"/>
<ellipse cx="0" cy="0" rx="2.69" ry="3.61" fill="#f59a22"/>
<ellipse cx="0" cy="0" rx="1.92" ry="2.58" fill="#e62a1e"/>
</g>
<g filter="url(#bl)" opacity="1.0" transform="translate(219.00,507.20) rotate(5)">
<ellipse cx="0" cy="0" rx="2.80" ry="4.60" fill="#f59a22"/>
<ellipse cx="0" cy="0" rx="1.68" ry="2.76" fill="#e62a1e"/>
</g>
<g filter="url(#bl)" opacity="1.0" transform="translate(225.60,505.80) rotate(10)">
<ellipse cx="0" cy="0" rx="2.60" ry="4.20" fill="#f59a22"/>
<ellipse cx="0" cy="0" rx="1.56" ry="2.52" fill="#e62a1e"/>
</g>
<rect x="195.90" y="493.20" width="49.70" height="54.00" fill="none" stroke="#5f6078" stroke-width="0.9"/>
<line x1="217.70" y1="493.20" x2="217.70" y2="547.20" stroke="#4e5064" stroke-width="0.9"/>
<line x1="195.90" y1="528.20" x2="245.60" y2="528.20" stroke="#4e5064" stroke-width="0.9"/>
<text x="196.90" y="498.41" font-size="5.3" fill="#d3344e" stroke="#d3344e" stroke-width="0.04">23.83%</text>
<text x="244.60" y="498.41" font-size="5.3" text-anchor="end" fill="#d3344e" stroke="#d3344e" stroke-width="0.04">74.59%</text>
<text x="244.60" y="545.91" font-size="5.3" text-anchor="end" fill="#d3344e" stroke="#d3344e" stroke-width="0.04">0.19%</text>
<text x="196.70" y="546.54" font-size="2.6" fill="#333" stroke="#333" stroke-width="0.1">&#8226;&#8226;&#8226;</text>
<text x="194.90" y="500.46" font-size="4.6" text-anchor="end" fill="#555">10<tspan dy="-1" font-size="2.4">4</tspan></text>
<line x1="195.00" y1="498.80" x2="195.90" y2="498.80" stroke="#777" stroke-width="0.5"/>
<text x="194.90" y="518.26" font-size="4.6" text-anchor="end" fill="#555">10<tspan dy="-1" font-size="2.4">3</tspan></text>
<line x1="195.00" y1="516.60" x2="195.90" y2="516.60" stroke="#777" stroke-width="0.5"/>
<text x="194.90" y="536.06" font-size="4.6" text-anchor="end" fill="#555">10<tspan dy="-1" font-size="2.4">2</tspan></text>
<line x1="195.00" y1="534.40" x2="195.90" y2="534.40" stroke="#777" stroke-width="0.5"/>
<text x="194.90" y="545.66" font-size="4.6" text-anchor="end" fill="#555">-10<tspan dy="-1" font-size="2.4">2</tspan></text>
<line x1="195.00" y1="544.00" x2="195.90" y2="544.00" stroke="#777" stroke-width="0.5"/>
<text x="0" y="1.51" font-size="4.2" text-anchor="middle" fill="#5a5a5a" transform="translate(197.10,553.00) rotate(-60)">10<tspan dy="-1" font-size="2.6">3</tspan></text>
<text x="0" y="1.51" font-size="4.2" text-anchor="middle" fill="#5a5a5a" transform="translate(202.30,553.00) rotate(-60)">10<tspan dy="-1" font-size="2.6">3</tspan></text>
<text x="0" y="1.51" font-size="4.2" text-anchor="middle" fill="#5a5a5a" transform="translate(209.20,553.00) rotate(-60)">10<tspan dy="-1" font-size="2.6">3</tspan></text>
<text x="0" y="1.51" font-size="4.2" text-anchor="middle" fill="#5a5a5a" transform="translate(223.10,553.00) rotate(-60)">10<tspan dy="-1" font-size="2.6">3</tspan></text>
<text x="0" y="1.51" font-size="4.2" text-anchor="middle" fill="#5a5a5a" transform="translate(236.10,553.00) rotate(-60)">10<tspan dy="-1" font-size="2.6">3</tspan></text>
<circle cx="314.84" cy="448.90" r="0.40" fill="#8aa6d0" opacity="0.75"/>
<circle cx="318.97" cy="449.31" r="0.40" fill="#a9b8d6" opacity="0.75"/>
<circle cx="315.33" cy="450.81" r="0.40" fill="#8aa6d0" opacity="0.75"/>
<circle cx="310.06" cy="450.42" r="0.40" fill="#7fa0c8" opacity="0.75"/>
<circle cx="313.33" cy="446.89" r="0.40" fill="#8aa6d0" opacity="0.75"/>
<circle cx="316.89" cy="444.90" r="0.40" fill="#a9b8d6" opacity="0.75"/>
<circle cx="320.41" cy="449.19" r="0.40" fill="#a9b8d6" opacity="0.75"/>
<circle cx="317.48" cy="440.86" r="0.40" fill="#7fa0c8" opacity="0.75"/>
<circle cx="305.41" cy="440.02" r="0.40" fill="#8aa6d0" opacity="0.75"/>
<circle cx="306.98" cy="442.59" r="0.40" fill="#a9b8d6" opacity="0.75"/>
<circle cx="319.58" cy="443.47" r="0.40" fill="#a9b8d6" opacity="0.75"/>
<circle cx="313.25" cy="448.13" r="0.40" fill="#a9b8d6" opacity="0.75"/>
<circle cx="306.45" cy="451.62" r="0.40" fill="#a9b8d6" opacity="0.75"/>
<circle cx="321.36" cy="450.72" r="0.40" fill="#b9c4da" opacity="0.75"/>
<circle cx="303.41" cy="444.98" r="0.40" fill="#a9b8d6" opacity="0.75"/>
<circle cx="308.01" cy="443.98" r="0.40" fill="#8aa6d0" opacity="0.75"/>
<circle cx="314.32" cy="448.49" r="0.40" fill="#8aa6d0" opacity="0.75"/>
<circle cx="308.89" cy="449.82" r="0.40" fill="#7fa0c8" opacity="0.75"/>
<circle cx="316.23" cy="442.22" r="0.40" fill="#7fa0c8" opacity="0.75"/>
<circle cx="316.39" cy="440.68" r="0.40" fill="#8aa6d0" opacity="0.75"/>
<circle cx="321.04" cy="444.29" r="0.40" fill="#7fa0c8" opacity="0.75"/>
<circle cx="303.34" cy="449.45" r="0.40" fill="#b9c4da" opacity="0.75"/>
<circle cx="310.15" cy="450.09" r="0.40" fill="#7fa0c8" opacity="0.75"/>
<circle cx="303.89" cy="442.17" r="0.40" fill="#a9b8d6" opacity="0.75"/>
<circle cx="305.26" cy="442.95" r="0.40" fill="#7fa0c8" opacity="0.75"/>
<circle cx="309.54" cy="444.26" r="0.40" fill="#b9c4da" opacity="0.75"/>
<circle cx="317.74" cy="441.30" r="0.40" fill="#b9c4da" opacity="0.75"/>
<circle cx="319.33" cy="440.44" r="0.40" fill="#8aa6d0" opacity="0.75"/>
<circle cx="306.96" cy="446.15" r="0.40" fill="#b9c4da" opacity="0.75"/>
<circle cx="320.44" cy="444.08" r="0.40" fill="#8aa6d0" opacity="0.75"/>
<circle cx="308.94" cy="443.80" r="0.40" fill="#a9b8d6" opacity="0.75"/>
<circle cx="318.18" cy="447.52" r="0.40" fill="#b9c4da" opacity="0.75"/>
<circle cx="321.94" cy="441.94" r="0.40" fill="#8aa6d0" opacity="0.75"/>
<circle cx="304.54" cy="447.21" r="0.40" fill="#7fa0c8" opacity="0.75"/>
<circle cx="303.60" cy="448.89" r="0.40" fill="#b9c4da" opacity="0.75"/>
<circle cx="313.22" cy="463.78" r="0.50" fill="#4a7cc0" opacity="0.8"/>
<circle cx="313.35" cy="470.17" r="0.50" fill="#6f93c9" opacity="0.8"/>
<circle cx="312.67" cy="466.43" r="0.50" fill="#6f93c9" opacity="0.8"/>
<circle cx="320.15" cy="458.96" r="0.50" fill="#6f93c9" opacity="0.8"/>
<circle cx="308.92" cy="459.57" r="0.50" fill="#7a9ad0" opacity="0.8"/>
<circle cx="310.25" cy="461.69" r="0.50" fill="#5a86c8" opacity="0.8"/>
<circle cx="313.65" cy="459.39" r="0.50" fill="#7a9ad0" opacity="0.8"/>
<circle cx="319.61" cy="460.98" r="0.50" fill="#4a7cc0" opacity="0.8"/>
<circle cx="310.82" cy="462.21" r="0.50" fill="#3f9aa0" opacity="0.8"/>
<circle cx="315.29" cy="452.87" r="0.50" fill="#4a7cc0" opacity="0.8"/>
<circle cx="313.10" cy="459.22" r="0.50" fill="#4a7cc0" opacity="0.8"/>
<circle cx="303.37" cy="461.30" r="0.50" fill="#5a86c8" opacity="0.8"/>
<circle cx="316.78" cy="454.65" r="0.50" fill="#6f93c9" opacity="0.8"/>
<circle cx="317.43" cy="462.53" r="0.50" fill="#3f9aa0" opacity="0.8"/>
<circle cx="319.21" cy="457.99" r="0.50" fill="#3f9aa0" opacity="0.8"/>
<circle cx="323.55" cy="455.34" r="0.50" fill="#7a9ad0" opacity="0.8"/>
<circle cx="320.43" cy="464.48" r="0.50" fill="#6f93c9" opacity="0.8"/>
<circle cx="314.04" cy="455.80" r="0.50" fill="#3f9aa0" opacity="0.8"/>
<circle cx="307.56" cy="460.11" r="0.50" fill="#3f9aa0" opacity="0.8"/>
<circle cx="305.59" cy="452.59" r="0.50" fill="#6f93c9" opacity="0.8"/>
<circle cx="316.43" cy="449.40" r="0.50" fill="#6f93c9" opacity="0.8"/>
<circle cx="309.54" cy="456.87" r="0.50" fill="#6f93c9" opacity="0.8"/>
<circle cx="314.39" cy="457.44" r="0.50" fill="#6f93c9" opacity="0.8"/>
<circle cx="317.17" cy="454.65" r="0.50" fill="#5a86c8" opacity="0.8"/>
<circle cx="310.42" cy="463.47" r="0.50" fill="#6f93c9" opacity="0.8"/>
<circle cx="316.01" cy="457.51" r="0.50" fill="#7a9ad0" opacity="0.8"/>
<circle cx="314.14" cy="465.11" r="0.50" fill="#6f93c9" opacity="0.8"/>
<circle cx="304.83" cy="460.58" r="0.50" fill="#6f93c9" opacity="0.8"/>
<circle cx="317.75" cy="461.18" r="0.50" fill="#6f93c9" opacity="0.8"/>
<circle cx="310.56" cy="457.00" r="0.50" fill="#4a7cc0" opacity="0.8"/>
<circle cx="304.10" cy="457.88" r="0.50" fill="#7a9ad0" opacity="0.8"/>
<circle cx="312.86" cy="465.56" r="0.50" fill="#6f93c9" opacity="0.8"/>
<circle cx="309.99" cy="457.42" r="0.50" fill="#4a7cc0" opacity="0.8"/>
<circle cx="316.82" cy="462.32" r="0.50" fill="#5a86c8" opacity="0.8"/>
<circle cx="311.72" cy="458.37" r="0.50" fill="#3f9aa0" opacity="0.8"/>
<circle cx="312.13" cy="455.96" r="0.50" fill="#6f93c9" opacity="0.8"/>
<circle cx="313.25" cy="452.22" r="0.50" fill="#6f93c9" opacity="0.8"/>
<circle cx="311.08" cy="455.44" r="0.50" fill="#3f9aa0" opacity="0.8"/>
<circle cx="312.18" cy="460.08" r="0.50" fill="#7a9ad0" opacity="0.8"/>
<circle cx="317.38" cy="463.75" r="0.50" fill="#3f9aa0" opacity="0.8"/>
<circle cx="305.72" cy="463.62" r="0.50" fill="#3f9aa0" opacity="0.8"/>
<circle cx="311.13" cy="462.96" r="0.50" fill="#7a9ad0" opacity="0.8"/>
<circle cx="308.64" cy="458.93" r="0.50" fill="#6f93c9" opacity="0.8"/>
<circle cx="310.23" cy="463.90" r="0.50" fill="#5a86c8" opacity="0.8"/>
<circle cx="317.18" cy="458.84" r="0.50" fill="#4a7cc0" opacity="0.8"/>
<circle cx="314.24" cy="457.67" r="0.50" fill="#3f9aa0" opacity="0.8"/>
<circle cx="313.38" cy="457.16" r="0.50" fill="#5a86c8" opacity="0.8"/>
<circle cx="311.85" cy="459.85" r="0.50" fill="#7a9ad0" opacity="0.8"/>
<circle cx="313.01" cy="459.75" r="0.50" fill="#3f9aa0" opacity="0.8"/>
<circle cx="317.65" cy="461.62" r="0.50" fill="#6f93c9" opacity="0.8"/>
<circle cx="317.15" cy="457.21" r="0.50" fill="#7a9ad0" opacity="0.8"/>
<circle cx="314.63" cy="457.72" r="0.50" fill="#3f9aa0" opacity="0.8"/>
<circle cx="318.39" cy="458.11" r="0.50" fill="#5a86c8" opacity="0.8"/>
<circle cx="313.42" cy="465.48" r="0.50" fill="#4a7cc0" opacity="0.8"/>
<circle cx="312.03" cy="454.44" r="0.50" fill="#5a86c8" opacity="0.8"/>
<circle cx="320.86" cy="454.91" r="0.50" fill="#5a86c8" opacity="0.8"/>
<circle cx="308.31" cy="457.10" r="0.50" fill="#4a7cc0" opacity="0.8"/>
<circle cx="320.70" cy="459.68" r="0.50" fill="#3f9aa0" opacity="0.8"/>
<circle cx="311.29" cy="458.60" r="0.50" fill="#6f93c9" opacity="0.8"/>
<circle cx="308.45" cy="459.20" r="0.50" fill="#3f9aa0" opacity="0.8"/>
<circle cx="321.12" cy="457.77" r="0.50" fill="#3f9aa0" opacity="0.8"/>
<circle cx="308.28" cy="462.27" r="0.50" fill="#5a86c8" opacity="0.8"/>
<circle cx="316.95" cy="462.56" r="0.50" fill="#6f93c9" opacity="0.8"/>
<circle cx="313.87" cy="461.69" r="0.50" fill="#5a86c8" opacity="0.8"/>
<circle cx="308.71" cy="457.67" r="0.50" fill="#3f9aa0" opacity="0.8"/>
<circle cx="308.04" cy="464.47" r="0.50" fill="#3f9aa0" opacity="0.8"/>
<circle cx="313.81" cy="464.73" r="0.50" fill="#3f9aa0" opacity="0.8"/>
<circle cx="316.01" cy="459.56" r="0.50" fill="#3f9aa0" opacity="0.8"/>
<circle cx="314.12" cy="462.14" r="0.50" fill="#4a7cc0" opacity="0.8"/>
<circle cx="317.57" cy="457.51" r="0.50" fill="#3f9aa0" opacity="0.8"/>
<circle cx="312.45" cy="456.41" r="0.50" fill="#5a86c8" opacity="0.8"/>
<circle cx="313.82" cy="460.03" r="0.50" fill="#7a9ad0" opacity="0.8"/>
<circle cx="312.21" cy="461.81" r="0.50" fill="#7a9ad0" opacity="0.8"/>
<circle cx="313.50" cy="460.24" r="0.50" fill="#5a86c8" opacity="0.8"/>
<circle cx="305.27" cy="460.90" r="0.50" fill="#5a86c8" opacity="0.8"/>
<circle cx="320.34" cy="463.56" r="0.50" fill="#6f93c9" opacity="0.8"/>
<circle cx="312.75" cy="457.37" r="0.50" fill="#6f93c9" opacity="0.8"/>
<circle cx="314.88" cy="457.48" r="0.50" fill="#6f93c9" opacity="0.8"/>
<circle cx="315.50" cy="460.74" r="0.50" fill="#5a86c8" opacity="0.8"/>
<circle cx="311.68" cy="462.69" r="0.50" fill="#6f93c9" opacity="0.8"/>
<circle cx="319.22" cy="461.11" r="0.50" fill="#4a7cc0" opacity="0.8"/>
<circle cx="310.44" cy="457.83" r="0.50" fill="#5a86c8" opacity="0.8"/>
<circle cx="323.13" cy="458.45" r="0.50" fill="#3f9aa0" opacity="0.8"/>
<circle cx="303.55" cy="460.50" r="0.50" fill="#5a86c8" opacity="0.8"/>
<circle cx="312.56" cy="459.33" r="0.50" fill="#3f9aa0" opacity="0.8"/>
<circle cx="306.15" cy="454.11" r="0.50" fill="#4a7cc0" opacity="0.8"/>
<circle cx="306.32" cy="460.00" r="0.50" fill="#5a86c8" opacity="0.8"/>
<circle cx="313.45" cy="454.70" r="0.50" fill="#7a9ad0" opacity="0.8"/>
<circle cx="316.31" cy="453.70" r="0.50" fill="#5a86c8" opacity="0.8"/>
<circle cx="317.49" cy="460.52" r="0.50" fill="#7a9ad0" opacity="0.8"/>
<g filter="url(#bl)" opacity="1.0" transform="translate(309.60,466.60) rotate(0)">
<ellipse cx="0" cy="0" rx="5.40" ry="5.20" fill="#2f9a6a"/>
<ellipse cx="0" cy="0" rx="4.32" ry="4.16" fill="#5cba48"/>
<ellipse cx="0" cy="0" rx="3.35" ry="3.22" fill="#f0e02c"/>
<ellipse cx="0" cy="0" rx="2.48" ry="2.39" fill="#f59a22"/>
<ellipse cx="0" cy="0" rx="1.62" ry="1.56" fill="#e62a1e"/>
</g>
<rect x="301.30" y="419.30" width="49.60" height="53.80" fill="none" stroke="#5f6078" stroke-width="0.9"/>
<line x1="323.50" y1="419.30" x2="323.50" y2="473.10" stroke="#4e5064" stroke-width="0.9"/>
<line x1="301.30" y1="454.40" x2="350.90" y2="454.40" stroke="#4e5064" stroke-width="0.9"/>
<text x="302.30" y="424.51" font-size="5.3" fill="#d3344e" stroke="#d3344e" stroke-width="0.04">9.06%</text>
<text x="349.90" y="424.51" font-size="5.3" text-anchor="end" fill="#d3344e" stroke="#d3344e" stroke-width="0.04">1.94%</text>
<text x="349.90" y="471.81" font-size="5.3" text-anchor="end" fill="#d3344e" stroke="#d3344e" stroke-width="0.04">0.35%</text>
<text x="302.10" y="472.44" font-size="2.6" fill="#333" stroke="#333" stroke-width="0.1">&#8226;&#8226;&#8226;</text>
<text x="300.30" y="426.56" font-size="4.6" text-anchor="end" fill="#555">10<tspan dy="-1" font-size="2.4">4</tspan></text>
<line x1="300.40" y1="424.90" x2="301.30" y2="424.90" stroke="#777" stroke-width="0.5"/>
<text x="300.30" y="444.36" font-size="4.6" text-anchor="end" fill="#555">10<tspan dy="-1" font-size="2.4">3</tspan></text>
<line x1="300.40" y1="442.70" x2="301.30" y2="442.70" stroke="#777" stroke-width="0.5"/>
<text x="300.30" y="461.96" font-size="4.6" text-anchor="end" fill="#555">10<tspan dy="-1" font-size="2.4">2</tspan></text>
<line x1="300.40" y1="460.30" x2="301.30" y2="460.30" stroke="#777" stroke-width="0.5"/>
<text x="300.30" y="471.56" font-size="4.6" text-anchor="end" fill="#555">-10<tspan dy="-1" font-size="2.4">2</tspan></text>
<line x1="300.40" y1="469.90" x2="301.30" y2="469.90" stroke="#777" stroke-width="0.5"/>
<text x="0" y="1.51" font-size="4.2" text-anchor="middle" fill="#5a5a5a" transform="translate(302.50,478.90) rotate(-60)">10<tspan dy="-1" font-size="2.6">3</tspan></text>
<text x="0" y="1.51" font-size="4.2" text-anchor="middle" fill="#5a5a5a" transform="translate(307.70,478.90) rotate(-60)">10<tspan dy="-1" font-size="2.6">3</tspan></text>
<text x="0" y="1.51" font-size="4.2" text-anchor="middle" fill="#5a5a5a" transform="translate(314.60,478.90) rotate(-60)">10<tspan dy="-1" font-size="2.6">3</tspan></text>
<text x="0" y="1.51" font-size="4.2" text-anchor="middle" fill="#5a5a5a" transform="translate(328.50,478.90) rotate(-60)">10<tspan dy="-1" font-size="2.6">3</tspan></text>
<text x="0" y="1.51" font-size="4.2" text-anchor="middle" fill="#5a5a5a" transform="translate(341.50,478.90) rotate(-60)">10<tspan dy="-1" font-size="2.6">3</tspan></text>
<circle cx="391.87" cy="449.26" r="0.40" fill="#7fa0c8" opacity="0.75"/>
<circle cx="391.24" cy="432.77" r="0.40" fill="#a9b8d6" opacity="0.75"/>
<circle cx="389.26" cy="441.88" r="0.40" fill="#b9c4da" opacity="0.75"/>
<circle cx="382.39" cy="432.46" r="0.40" fill="#7fa0c8" opacity="0.75"/>
<circle cx="392.04" cy="447.33" r="0.40" fill="#7fa0c8" opacity="0.75"/>
<circle cx="394.21" cy="443.32" r="0.40" fill="#8aa6d0" opacity="0.75"/>
<circle cx="379.86" cy="443.63" r="0.40" fill="#b9c4da" opacity="0.75"/>
<circle cx="389.26" cy="444.81" r="0.40" fill="#8aa6d0" opacity="0.75"/>
<circle cx="392.89" cy="439.05" r="0.40" fill="#8aa6d0" opacity="0.75"/>
<circle cx="383.24" cy="440.61" r="0.40" fill="#b9c4da" opacity="0.75"/>
<circle cx="384.90" cy="433.97" r="0.40" fill="#a9b8d6" opacity="0.75"/>
<circle cx="390.01" cy="448.72" r="0.40" fill="#8aa6d0" opacity="0.75"/>
<circle cx="395.03" cy="444.36" r="0.40" fill="#a9b8d6" opacity="0.75"/>
<circle cx="392.56" cy="451.17" r="0.40" fill="#7fa0c8" opacity="0.75"/>
<circle cx="394.65" cy="451.10" r="0.40" fill="#8aa6d0" opacity="0.75"/>
<circle cx="388.67" cy="437.14" r="0.40" fill="#7fa0c8" opacity="0.75"/>
<circle cx="382.09" cy="444.37" r="0.40" fill="#8aa6d0" opacity="0.75"/>
<circle cx="386.00" cy="446.25" r="0.40" fill="#a9b8d6" opacity="0.75"/>
<circle cx="378.34" cy="445.92" r="0.40" fill="#b9c4da" opacity="0.75"/>
<circle cx="390.38" cy="439.98" r="0.40" fill="#a9b8d6" opacity="0.75"/>
<circle cx="378.76" cy="436.41" r="0.40" fill="#8aa6d0" opacity="0.75"/>
<circle cx="379.77" cy="435.55" r="0.40" fill="#b9c4da" opacity="0.75"/>
<circle cx="387.15" cy="446.10" r="0.40" fill="#b9c4da" opacity="0.75"/>
<circle cx="383.49" cy="443.07" r="0.40" fill="#b9c4da" opacity="0.75"/>
<circle cx="378.54" cy="453.00" r="0.40" fill="#8aa6d0" opacity="0.75"/>
<circle cx="379.71" cy="444.47" r="0.40" fill="#7fa0c8" opacity="0.75"/>
<circle cx="377.92" cy="441.27" r="0.40" fill="#8aa6d0" opacity="0.75"/>
<circle cx="393.85" cy="446.07" r="0.40" fill="#7fa0c8" opacity="0.75"/>
<circle cx="384.94" cy="449.46" r="0.40" fill="#8aa6d0" opacity="0.75"/>
<circle cx="386.33" cy="441.89" r="0.40" fill="#7fa0c8" opacity="0.75"/>
<circle cx="394.81" cy="436.04" r="0.40" fill="#b9c4da" opacity="0.75"/>
<circle cx="385.03" cy="447.18" r="0.40" fill="#a9b8d6" opacity="0.75"/>
<circle cx="376.37" cy="443.30" r="0.40" fill="#b9c4da" opacity="0.75"/>
<circle cx="387.79" cy="439.58" r="0.40" fill="#b9c4da" opacity="0.75"/>
<circle cx="386.05" cy="438.92" r="0.40" fill="#b9c4da" opacity="0.75"/>
<circle cx="395.63" cy="451.47" r="0.40" fill="#7fa0c8" opacity="0.75"/>
<circle cx="388.24" cy="437.63" r="0.40" fill="#7fa0c8" opacity="0.75"/>
<circle cx="389.13" cy="442.33" r="0.40" fill="#7fa0c8" opacity="0.75"/>
<circle cx="385.93" cy="445.32" r="0.40" fill="#7fa0c8" opacity="0.75"/>
<circle cx="382.47" cy="445.84" r="0.40" fill="#7fa0c8" opacity="0.75"/>
<circle cx="377.71" cy="443.24" r="0.45" fill="#7a9ad0" opacity="0.8"/>
<circle cx="382.84" cy="452.56" r="0.45" fill="#5a86c8" opacity="0.8"/>
<circle cx="379.89" cy="443.45" r="0.45" fill="#3f9aa0" opacity="0.8"/>
<circle cx="385.63" cy="443.53" r="0.45" fill="#6f93c9" opacity="0.8"/>
<circle cx="382.54" cy="435.76" r="0.45" fill="#7a9ad0" opacity="0.8"/>
<circle cx="397.62" cy="444.64" r="0.45" fill="#4a7cc0" opacity="0.8"/>
<circle cx="385.27" cy="438.43" r="0.45" fill="#7a9ad0" opacity="0.8"/>
<circle cx="385.07" cy="432.43" r="0.45" fill="#3f9aa0" opacity="0.8"/>
<circle cx="394.94" cy="441.98" r="0.45" fill="#4a7cc0" opacity="0.8"/>
<circle cx="387.79" cy="435.55" r="0.45" fill="#3f9aa0" opacity="0.8"/>
<circle cx="383.12" cy="444.59" r="0.45" fill="#5a86c8" opacity="0.8"/>
<circle cx="378.77" cy="441.38" r="0.45" fill="#6f93c9" opacity="0.8"/>
<circle cx="376.49" cy="450.08" r="0.45" fill="#5a86c8" opacity="0.8"/>
<circle cx="383.25" cy="444.22" r="0.45" fill="#7a9ad0" opacity="0.8"/>
<circle cx="384.53" cy="437.64" r="0.45" fill="#5a86c8" opacity="0.8"/>
<circle cx="379.49" cy="437.74" r="0.45" fill="#5a86c8" opacity="0.8"/>
<circle cx="388.38" cy="439.15" r="0.45" fill="#3f9aa0" opacity="0.8"/>
<circle cx="386.85" cy="444.99" r="0.45" fill="#3f9aa0" opacity="0.8"/>
<circle cx="393.92" cy="448.02" r="0.45" fill="#3f9aa0" opacity="0.8"/>
<circle cx="381.41" cy="438.93" r="0.45" fill="#7a9ad0" opacity="0.8"/>
<circle cx="385.14" cy="434.23" r="0.45" fill="#4a7cc0" opacity="0.8"/>
<circle cx="394.52" cy="430.92" r="0.45" fill="#6f93c9" opacity="0.8"/>
<circle cx="379.06" cy="444.29" r="0.45" fill="#5a86c8" opacity="0.8"/>
<circle cx="383.09" cy="433.34" r="0.45" fill="#4a7cc0" opacity="0.8"/>
<circle cx="387.01" cy="443.84" r="0.45" fill="#3f9aa0" opacity="0.8"/>
<circle cx="386.33" cy="446.74" r="0.45" fill="#6f93c9" opacity="0.8"/>
<circle cx="380.53" cy="444.37" r="0.45" fill="#5a86c8" opacity="0.8"/>
<circle cx="385.78" cy="447.15" r="0.45" fill="#5a86c8" opacity="0.8"/>
<circle cx="389.55" cy="448.31" r="0.45" fill="#7a9ad0" opacity="0.8"/>
<circle cx="398.95" cy="434.70" r="0.45" fill="#6f93c9" opacity="0.8"/>
<circle cx="383.86" cy="453.57" r="0.45" fill="#4a7cc0" opacity="0.8"/>
<circle cx="387.95" cy="445.04" r="0.45" fill="#4a7cc0" opacity="0.8"/>
<circle cx="383.43" cy="443.04" r="0.45" fill="#7a9ad0" opacity="0.8"/>
<circle cx="379.61" cy="445.33" r="0.45" fill="#6f93c9" opacity="0.8"/>
<circle cx="375.13" cy="451.53" r="0.45" fill="#6f93c9" opacity="0.8"/>
<circle cx="388.35" cy="434.00" r="0.45" fill="#4a7cc0" opacity="0.8"/>
<circle cx="392.36" cy="436.99" r="0.45" fill="#3f9aa0" opacity="0.8"/>
<circle cx="387.08" cy="445.78" r="0.45" fill="#6f93c9" opacity="0.8"/>
<circle cx="384.32" cy="441.87" r="0.45" fill="#7a9ad0" opacity="0.8"/>
<circle cx="398.80" cy="439.83" r="0.45" fill="#7a9ad0" opacity="0.8"/>
<circle cx="388.40" cy="432.00" r="0.45" fill="#6f93c9" opacity="0.8"/>
<circle cx="383.37" cy="454.75" r="0.45" fill="#7a9ad0" opacity="0.8"/>
<circle cx="393.66" cy="440.19" r="0.45" fill="#7a9ad0" opacity="0.8"/>
<circle cx="380.72" cy="436.83" r="0.45" fill="#4a7cc0" opacity="0.8"/>
<circle cx="382.22" cy="439.50" r="0.45" fill="#6f93c9" opacity="0.8"/>
<circle cx="389.64" cy="441.45" r="0.45" fill="#6f93c9" opacity="0.8"/>
<circle cx="383.24" cy="444.36" r="0.45" fill="#6f93c9" opacity="0.8"/>
<circle cx="388.95" cy="441.25" r="0.45" fill="#7a9ad0" opacity="0.8"/>
<circle cx="385.58" cy="437.01" r="0.45" fill="#6f93c9" opacity="0.8"/>
<circle cx="383.07" cy="438.41" r="0.45" fill="#6f93c9" opacity="0.8"/>
<circle cx="380.65" cy="447.34" r="0.45" fill="#4a7cc0" opacity="0.8"/>
<circle cx="389.33" cy="452.80" r="0.45" fill="#3f9aa0" opacity="0.8"/>
<circle cx="392.62" cy="448.61" r="0.45" fill="#5a86c8" opacity="0.8"/>
<circle cx="380.93" cy="437.96" r="0.45" fill="#4a7cc0" opacity="0.8"/>
<circle cx="390.13" cy="436.88" r="0.45" fill="#6f93c9" opacity="0.8"/>
<circle cx="401.24" cy="445.40" r="0.45" fill="#4a7cc0" opacity="0.8"/>
<circle cx="382.21" cy="443.99" r="0.45" fill="#7a9ad0" opacity="0.8"/>
<circle cx="376.67" cy="437.71" r="0.45" fill="#7a9ad0" opacity="0.8"/>
<circle cx="387.65" cy="449.13" r="0.45" fill="#7a9ad0" opacity="0.8"/>
<circle cx="386.08" cy="442.56" r="0.45" fill="#6f93c9" opacity="0.8"/>
<circle cx="383.98" cy="447.29" r="0.45" fill="#7a9ad0" opacity="0.8"/>
<circle cx="379.91" cy="440.05" r="0.45" fill="#6f93c9" opacity="0.8"/>
<circle cx="377.03" cy="439.71" r="0.45" fill="#7a9ad0" opacity="0.8"/>
<circle cx="387.90" cy="442.04" r="0.45" fill="#5a86c8" opacity="0.8"/>
<circle cx="383.60" cy="446.25" r="0.45" fill="#5a86c8" opacity="0.8"/>
<circle cx="379.70" cy="448.43" r="0.45" fill="#3f9aa0" opacity="0.8"/>
<circle cx="385.41" cy="433.01" r="0.45" fill="#4a7cc0" opacity="0.8"/>
<circle cx="402.93" cy="437.30" r="0.45" fill="#6f93c9" opacity="0.8"/>
<circle cx="380.76" cy="438.41" r="0.45" fill="#4a7cc0" opacity="0.8"/>
<circle cx="392.41" cy="440.59" r="0.45" fill="#7a9ad0" opacity="0.8"/>
<circle cx="388.68" cy="446.44" r="0.45" fill="#5a86c8" opacity="0.8"/>
<circle cx="385.41" cy="445.13" r="0.45" fill="#4a7cc0" opacity="0.8"/>
<circle cx="389.92" cy="450.08" r="0.45" fill="#5a86c8" opacity="0.8"/>
<circle cx="398.56" cy="437.57" r="0.45" fill="#7a9ad0" opacity="0.8"/>
<circle cx="390.31" cy="443.61" r="0.45" fill="#6f93c9" opacity="0.8"/>
<circle cx="386.76" cy="449.20" r="0.45" fill="#5a86c8" opacity="0.8"/>
<circle cx="393.99" cy="440.91" r="0.45" fill="#6f93c9" opacity="0.8"/>
<circle cx="393.26" cy="451.07" r="0.45" fill="#5a86c8" opacity="0.8"/>
<circle cx="381.66" cy="441.43" r="0.45" fill="#4a7cc0" opacity="0.8"/>
<circle cx="386.54" cy="440.01" r="0.45" fill="#6f93c9" opacity="0.8"/>
<circle cx="378.09" cy="443.56" r="0.45" fill="#7a9ad0" opacity="0.8"/>
<circle cx="389.02" cy="443.10" r="0.45" fill="#7a9ad0" opacity="0.8"/>
<circle cx="378.10" cy="437.05" r="0.45" fill="#4a7cc0" opacity="0.8"/>
<circle cx="386.95" cy="443.00" r="0.45" fill="#4a7cc0" opacity="0.8"/>
<circle cx="378.62" cy="438.27" r="0.45" fill="#5a86c8" opacity="0.8"/>
<circle cx="388.83" cy="442.82" r="0.45" fill="#4a7cc0" opacity="0.8"/>
<circle cx="390.40" cy="443.60" r="0.45" fill="#7a9ad0" opacity="0.8"/>
<circle cx="384.03" cy="440.53" r="0.45" fill="#6f93c9" opacity="0.8"/>
<circle cx="395.00" cy="444.06" r="0.45" fill="#3f8f7a" opacity="0.8"/>
<circle cx="395.21" cy="443.11" r="0.45" fill="#5aa070" opacity="0.8"/>
<circle cx="392.68" cy="448.28" r="0.45" fill="#3f8f7a" opacity="0.8"/>
<circle cx="395.40" cy="445.13" r="0.45" fill="#5aa070" opacity="0.8"/>
<circle cx="394.44" cy="446.58" r="0.45" fill="#2f8a60" opacity="0.8"/>
<circle cx="393.65" cy="445.12" r="0.45" fill="#2f8a60" opacity="0.8"/>
<circle cx="396.48" cy="443.49" r="0.45" fill="#5aa070" opacity="0.8"/>
<circle cx="394.17" cy="446.38" r="0.45" fill="#5aa070" opacity="0.8"/>
<circle cx="393.66" cy="445.22" r="0.45" fill="#2f8a60" opacity="0.8"/>
<circle cx="395.42" cy="443.82" r="0.45" fill="#2f8a60" opacity="0.8"/>
<circle cx="391.49" cy="450.72" r="0.45" fill="#3f8f7a" opacity="0.8"/>
<circle cx="393.47" cy="447.71" r="0.45" fill="#2f8a60" opacity="0.8"/>
<circle cx="394.21" cy="449.78" r="0.45" fill="#3f8f7a" opacity="0.8"/>
<circle cx="395.36" cy="450.02" r="0.45" fill="#5aa070" opacity="0.8"/>
<circle cx="392.91" cy="444.01" r="0.45" fill="#3f8f7a" opacity="0.8"/>
<circle cx="394.00" cy="446.62" r="0.45" fill="#2f8a60" opacity="0.8"/>
<circle cx="392.02" cy="446.26" r="0.45" fill="#2f8a60" opacity="0.8"/>
<circle cx="394.99" cy="442.24" r="0.45" fill="#5aa070" opacity="0.8"/>
<circle cx="394.73" cy="443.50" r="0.45" fill="#3f8f7a" opacity="0.8"/>
<circle cx="391.71" cy="448.28" r="0.45" fill="#2f8a60" opacity="0.8"/>
<circle cx="393.91" cy="445.13" r="0.45" fill="#5aa070" opacity="0.8"/>
<circle cx="394.97" cy="441.21" r="0.45" fill="#3f8f7a" opacity="0.8"/>
<circle cx="396.94" cy="444.21" r="0.45" fill="#2f8a60" opacity="0.8"/>
<circle cx="395.99" cy="448.47" r="0.45" fill="#3f8f7a" opacity="0.8"/>
<circle cx="392.96" cy="442.59" r="0.45" fill="#5aa070" opacity="0.8"/>
<circle cx="384.86" cy="459.85" r="0.45" fill="#7a9ad0" opacity="0.8"/>
<circle cx="386.30" cy="459.13" r="0.45" fill="#5a86c8" opacity="0.8"/>
<circle cx="390.39" cy="459.92" r="0.45" fill="#5a86c8" opacity="0.8"/>
<circle cx="389.58" cy="456.72" r="0.45" fill="#6f93c9" opacity="0.8"/>
<circle cx="393.47" cy="460.63" r="0.45" fill="#4a7cc0" opacity="0.8"/>
<circle cx="386.49" cy="461.12" r="0.45" fill="#5a86c8" opacity="0.8"/>
<circle cx="396.71" cy="457.87" r="0.45" fill="#6f93c9" opacity="0.8"/>
<circle cx="387.39" cy="456.89" r="0.45" fill="#6f93c9" opacity="0.8"/>
<circle cx="384.01" cy="457.91" r="0.45" fill="#7a9ad0" opacity="0.8"/>
<circle cx="385.29" cy="459.16" r="0.45" fill="#5a86c8" opacity="0.8"/>
<circle cx="391.56" cy="459.61" r="0.45" fill="#7a9ad0" opacity="0.8"/>
<circle cx="388.09" cy="452.15" r="0.45" fill="#5a86c8" opacity="0.8"/>
<circle cx="379.55" cy="455.63" r="0.45" fill="#6f93c9" opacity="0.8"/>
<circle cx="396.03" cy="459.40" r="0.45" fill="#3f9aa0" opacity="0.8"/>
<circle cx="389.35" cy="459.34" r="0.45" fill="#5a86c8" opacity="0.8"/>
<circle cx="387.09" cy="459.96" r="0.45" fill="#6f93c9" opacity="0.8"/>
<circle cx="385.86" cy="455.67" r="0.45" fill="#4a7cc0" opacity="0.8"/>
<circle cx="382.78" cy="458.96" r="0.45" fill="#3f9aa0" opacity="0.8"/>
<circle cx="389.98" cy="456.04" r="0.45" fill="#5a86c8" opacity="0.8"/>
<circle cx="388.89" cy="457.02" r="0.45" fill="#7a9ad0" opacity="0.8"/>
<circle cx="387.00" cy="457.43" r="0.45" fill="#3f9aa0" opacity="0.8"/>
<circle cx="393.84" cy="463.18" r="0.45" fill="#3f9aa0" opacity="0.8"/>
<circle cx="390.52" cy="461.12" r="0.45" fill="#4a7cc0" opacity="0.8"/>
<circle cx="386.35" cy="462.27" r="0.45" fill="#5a86c8" opacity="0.8"/>
<circle cx="392.43" cy="461.60" r="0.45" fill="#3f9aa0" opacity="0.8"/>
<g filter="url(#bl)" opacity="1.0" transform="translate(384.40,465.00) rotate(0)">
<ellipse cx="0" cy="0" rx="5.80" ry="5.60" fill="#8cc050"/>
<ellipse cx="0" cy="0" rx="4.93" ry="4.76" fill="#d8d040"/>
<ellipse cx="0" cy="0" rx="4.06" ry="3.92" fill="#f59a22"/>
<ellipse cx="0" cy="0" rx="3.19" ry="3.08" fill="#f08020"/>
<ellipse cx="0" cy="0" rx="2.03" ry="1.96" fill="#e62a1e"/>
</g>
<rect x="374.30" y="419.20" width="49.60" height="53.90" fill="none" stroke="#5f6078" stroke-width="0.9"/>
<line x1="396.40" y1="419.20" x2="396.40" y2="473.10" stroke="#4e5064" stroke-width="0.9"/>
<line x1="374.30" y1="454.30" x2="423.90" y2="454.30" stroke="#4e5064" stroke-width="0.9"/>
<text x="375.30" y="424.41" font-size="5.3" fill="#d3344e" stroke="#d3344e" stroke-width="0.04">21.94%</text>
<text x="422.90" y="424.41" font-size="5.3" text-anchor="end" fill="#d3344e" stroke="#d3344e" stroke-width="0.04">4.75%</text>
<text x="422.90" y="471.81" font-size="5.3" text-anchor="end" fill="#d3344e" stroke="#d3344e" stroke-width="0.04">0.39%</text>
<text x="375.10" y="472.44" font-size="2.6" fill="#333" stroke="#333" stroke-width="0.1">&#8226;&#8226;&#8226;</text>
<text x="373.30" y="426.46" font-size="4.6" text-anchor="end" fill="#555">10<tspan dy="-1" font-size="2.4">4</tspan></text>
<line x1="373.40" y1="424.80" x2="374.30" y2="424.80" stroke="#777" stroke-width="0.5"/>
<text x="373.30" y="444.26" font-size="4.6" text-anchor="end" fill="#555">10<tspan dy="-1" font-size="2.4">3</tspan></text>
<line x1="373.40" y1="442.60" x2="374.30" y2="442.60" stroke="#777" stroke-width="0.5"/>
<text x="373.30" y="461.96" font-size="4.6" text-anchor="end" fill="#555">10<tspan dy="-1" font-size="2.4">2</tspan></text>
<line x1="373.40" y1="460.30" x2="374.30" y2="460.30" stroke="#777" stroke-width="0.5"/>
<text x="373.30" y="471.56" font-size="4.6" text-anchor="end" fill="#555">-10<tspan dy="-1" font-size="2.4">2</tspan></text>
<line x1="373.40" y1="469.90" x2="374.30" y2="469.90" stroke="#777" stroke-width="0.5"/>
<text x="0" y="1.51" font-size="4.2" text-anchor="middle" fill="#5a5a5a" transform="translate(375.50,478.90) rotate(-60)">10<tspan dy="-1" font-size="2.6">3</tspan></text>
<text x="0" y="1.51" font-size="4.2" text-anchor="middle" fill="#5a5a5a" transform="translate(380.70,478.90) rotate(-60)">10<tspan dy="-1" font-size="2.6">3</tspan></text>
<text x="0" y="1.51" font-size="4.2" text-anchor="middle" fill="#5a5a5a" transform="translate(387.60,478.90) rotate(-60)">10<tspan dy="-1" font-size="2.6">3</tspan></text>
<text x="0" y="1.51" font-size="4.2" text-anchor="middle" fill="#5a5a5a" transform="translate(401.50,478.90) rotate(-60)">10<tspan dy="-1" font-size="2.6">3</tspan></text>
<text x="0" y="1.51" font-size="4.2" text-anchor="middle" fill="#5a5a5a" transform="translate(414.50,478.90) rotate(-60)">10<tspan dy="-1" font-size="2.6">3</tspan></text>
<circle cx="311.83" cy="508.32" r="0.40" fill="#8aa6d0" opacity="0.75"/>
<circle cx="307.30" cy="516.79" r="0.40" fill="#b9c4da" opacity="0.75"/>
<circle cx="316.49" cy="525.01" r="0.40" fill="#a9b8d6" opacity="0.75"/>
<circle cx="306.67" cy="514.54" r="0.40" fill="#8aa6d0" opacity="0.75"/>
<circle cx="310.33" cy="517.12" r="0.40" fill="#8aa6d0" opacity="0.75"/>
<circle cx="320.88" cy="507.72" r="0.40" fill="#a9b8d6" opacity="0.75"/>
<circle cx="317.35" cy="517.83" r="0.40" fill="#8aa6d0" opacity="0.75"/>
<circle cx="316.39" cy="513.73" r="0.40" fill="#a9b8d6" opacity="0.75"/>
<circle cx="306.84" cy="523.89" r="0.40" fill="#b9c4da" opacity="0.75"/>
<circle cx="313.54" cy="516.90" r="0.40" fill="#b9c4da" opacity="0.75"/>
<circle cx="316.08" cy="520.00" r="0.40" fill="#8aa6d0" opacity="0.75"/>
<circle cx="316.47" cy="519.06" r="0.40" fill="#b9c4da" opacity="0.75"/>
<circle cx="307.75" cy="520.67" r="0.40" fill="#8aa6d0" opacity="0.75"/>
<circle cx="317.14" cy="515.92" r="0.40" fill="#7fa0c8" opacity="0.75"/>
<circle cx="319.99" cy="515.24" r="0.40" fill="#7fa0c8" opacity="0.75"/>
<circle cx="312.51" cy="510.47" r="0.40" fill="#a9b8d6" opacity="0.75"/>
<circle cx="318.58" cy="510.37" r="0.40" fill="#b9c4da" opacity="0.75"/>
<circle cx="315.45" cy="524.25" r="0.40" fill="#7fa0c8" opacity="0.75"/>
<circle cx="311.18" cy="526.56" r="0.40" fill="#8aa6d0" opacity="0.75"/>
<circle cx="315.21" cy="508.63" r="0.40" fill="#b9c4da" opacity="0.75"/>
<circle cx="308.74" cy="515.76" r="0.40" fill="#8aa6d0" opacity="0.75"/>
<circle cx="323.32" cy="506.71" r="0.40" fill="#b9c4da" opacity="0.75"/>
<circle cx="312.12" cy="512.70" r="0.40" fill="#7fa0c8" opacity="0.75"/>
<circle cx="316.44" cy="515.04" r="0.40" fill="#8aa6d0" opacity="0.75"/>
<circle cx="323.00" cy="515.43" r="0.40" fill="#8aa6d0" opacity="0.75"/>
<circle cx="307.09" cy="520.43" r="0.40" fill="#7fa0c8" opacity="0.75"/>
<circle cx="311.12" cy="513.49" r="0.40" fill="#b9c4da" opacity="0.75"/>
<circle cx="306.41" cy="515.16" r="0.40" fill="#a9b8d6" opacity="0.75"/>
<circle cx="317.00" cy="515.86" r="0.40" fill="#a9b8d6" opacity="0.75"/>
<circle cx="319.83" cy="507.85" r="0.40" fill="#a9b8d6" opacity="0.75"/>
<circle cx="313.16" cy="525.17" r="0.40" fill="#7fa0c8" opacity="0.75"/>
<circle cx="307.45" cy="514.88" r="0.40" fill="#b9c4da" opacity="0.75"/>
<circle cx="321.90" cy="523.02" r="0.40" fill="#b9c4da" opacity="0.75"/>
<circle cx="318.72" cy="526.70" r="0.40" fill="#7fa0c8" opacity="0.75"/>
<circle cx="323.24" cy="508.32" r="0.40" fill="#a9b8d6" opacity="0.75"/>
<circle cx="310.20" cy="535.98" r="0.50" fill="#5a86c8" opacity="0.8"/>
<circle cx="312.76" cy="533.31" r="0.50" fill="#4a7cc0" opacity="0.8"/>
<circle cx="312.75" cy="533.66" r="0.50" fill="#5a86c8" opacity="0.8"/>
<circle cx="308.58" cy="528.35" r="0.50" fill="#6f93c9" opacity="0.8"/>
<circle cx="307.50" cy="536.50" r="0.50" fill="#4a7cc0" opacity="0.8"/>
<circle cx="311.41" cy="532.96" r="0.50" fill="#7a9ad0" opacity="0.8"/>
<circle cx="309.50" cy="528.54" r="0.50" fill="#6f93c9" opacity="0.8"/>
<circle cx="313.94" cy="533.11" r="0.50" fill="#3f9aa0" opacity="0.8"/>
<circle cx="311.08" cy="531.60" r="0.50" fill="#5a86c8" opacity="0.8"/>
<circle cx="313.00" cy="533.26" r="0.50" fill="#4a7cc0" opacity="0.8"/>
<circle cx="316.25" cy="523.41" r="0.50" fill="#7a9ad0" opacity="0.8"/>
<circle cx="312.75" cy="531.72" r="0.50" fill="#7a9ad0" opacity="0.8"/>
<circle cx="313.28" cy="531.94" r="0.50" fill="#5a86c8" opacity="0.8"/>
<circle cx="313.01" cy="534.35" r="0.50" fill="#3f9aa0" opacity="0.8"/>
<circle cx="305.35" cy="531.96" r="0.50" fill="#6f93c9" opacity="0.8"/>
<circle cx="315.20" cy="528.29" r="0.50" fill="#5a86c8" opacity="0.8"/>
<circle cx="314.76" cy="536.35" r="0.50" fill="#4a7cc0" opacity="0.8"/>
<circle cx="308.45" cy="528.92" r="0.50" fill="#7a9ad0" opacity="0.8"/>
<circle cx="312.56" cy="536.96" r="0.50" fill="#6f93c9" opacity="0.8"/>
<circle cx="313.34" cy="527.93" r="0.50" fill="#5a86c8" opacity="0.8"/>
<circle cx="315.84" cy="531.57" r="0.50" fill="#3f9aa0" opacity="0.8"/>
<circle cx="309.04" cy="537.81" r="0.50" fill="#6f93c9" opacity="0.8"/>
<circle cx="320.42" cy="523.69" r="0.50" fill="#7a9ad0" opacity="0.8"/>
<circle cx="322.01" cy="522.88" r="0.50" fill="#3f9aa0" opacity="0.8"/>
<circle cx="309.77" cy="530.31" r="0.50" fill="#6f93c9" opacity="0.8"/>
<circle cx="325.09" cy="537.96" r="0.50" fill="#3f9aa0" opacity="0.8"/>
<circle cx="312.10" cy="535.42" r="0.50" fill="#7a9ad0" opacity="0.8"/>
<circle cx="310.89" cy="535.58" r="0.50" fill="#7a9ad0" opacity="0.8"/>
<circle cx="308.93" cy="527.46" r="0.50" fill="#3f9aa0" opacity="0.8"/>
<circle cx="321.73" cy="531.29" r="0.50" fill="#4a7cc0" opacity="0.8"/>
<circle cx="306.79" cy="532.64" r="0.50" fill="#6f93c9" opacity="0.8"/>
<circle cx="324.07" cy="530.57" r="0.50" fill="#5a86c8" opacity="0.8"/>
<circle cx="317.50" cy="532.31" r="0.50" fill="#7a9ad0" opacity="0.8"/>
<circle cx="313.07" cy="536.40" r="0.50" fill="#4a7cc0" opacity="0.8"/>
<circle cx="318.72" cy="527.77" r="0.50" fill="#6f93c9" opacity="0.8"/>
<circle cx="315.94" cy="526.32" r="0.50" fill="#5a86c8" opacity="0.8"/>
<circle cx="312.50" cy="532.81" r="0.50" fill="#6f93c9" opacity="0.8"/>
<circle cx="312.63" cy="527.75" r="0.50" fill="#6f93c9" opacity="0.8"/>
<circle cx="309.20" cy="530.36" r="0.50" fill="#5a86c8" opacity="0.8"/>
<circle cx="315.10" cy="527.59" r="0.50" fill="#3f9aa0" opacity="0.8"/>
<circle cx="311.40" cy="528.30" r="0.50" fill="#6f93c9" opacity="0.8"/>
<circle cx="316.89" cy="533.68" r="0.50" fill="#3f9aa0" opacity="0.8"/>
<circle cx="321.45" cy="534.80" r="0.50" fill="#3f9aa0" opacity="0.8"/>
<circle cx="316.89" cy="536.63" r="0.50" fill="#6f93c9" opacity="0.8"/>
<circle cx="314.53" cy="526.93" r="0.50" fill="#4a7cc0" opacity="0.8"/>
<circle cx="307.98" cy="532.48" r="0.50" fill="#4a7cc0" opacity="0.8"/>
<circle cx="311.23" cy="529.61" r="0.50" fill="#6f93c9" opacity="0.8"/>
<circle cx="321.74" cy="535.10" r="0.50" fill="#3f9aa0" opacity="0.8"/>
<circle cx="313.54" cy="536.77" r="0.50" fill="#4a7cc0" opacity="0.8"/>
<circle cx="314.83" cy="535.08" r="0.50" fill="#5a86c8" opacity="0.8"/>
<circle cx="312.57" cy="531.45" r="0.50" fill="#4a7cc0" opacity="0.8"/>
<circle cx="318.24" cy="535.92" r="0.50" fill="#5a86c8" opacity="0.8"/>
<circle cx="318.03" cy="530.01" r="0.50" fill="#5a86c8" opacity="0.8"/>
<circle cx="317.27" cy="531.66" r="0.50" fill="#3f9aa0" opacity="0.8"/>
<circle cx="315.79" cy="533.01" r="0.50" fill="#7a9ad0" opacity="0.8"/>
<circle cx="309.27" cy="529.70" r="0.50" fill="#5a86c8" opacity="0.8"/>
<circle cx="311.92" cy="527.33" r="0.50" fill="#7a9ad0" opacity="0.8"/>
<circle cx="316.27" cy="538.11" r="0.50" fill="#6f93c9" opacity="0.8"/>
<circle cx="313.95" cy="522.96" r="0.50" fill="#6f93c9" opacity="0.8"/>
<circle cx="304.81" cy="533.39" r="0.50" fill="#5a86c8" opacity="0.8"/>
<circle cx="315.74" cy="527.89" r="0.50" fill="#6f93c9" opacity="0.8"/>
<circle cx="312.50" cy="525.29" r="0.50" fill="#6f93c9" opacity="0.8"/>
<circle cx="311.35" cy="536.22" r="0.50" fill="#6f93c9" opacity="0.8"/>
<circle cx="312.63" cy="537.15" r="0.50" fill="#7a9ad0" opacity="0.8"/>
<circle cx="312.18" cy="534.44" r="0.50" fill="#4a7cc0" opacity="0.8"/>
<circle cx="309.98" cy="535.67" r="0.50" fill="#5a86c8" opacity="0.8"/>
<circle cx="312.71" cy="533.94" r="0.50" fill="#3f9aa0" opacity="0.8"/>
<circle cx="316.30" cy="525.08" r="0.50" fill="#3f9aa0" opacity="0.8"/>
<circle cx="310.93" cy="530.39" r="0.50" fill="#7a9ad0" opacity="0.8"/>
<circle cx="320.54" cy="528.37" r="0.50" fill="#6f93c9" opacity="0.8"/>
<circle cx="307.92" cy="528.80" r="0.50" fill="#7a9ad0" opacity="0.8"/>
<circle cx="307.59" cy="531.46" r="0.50" fill="#3f9aa0" opacity="0.8"/>
<circle cx="315.80" cy="529.22" r="0.50" fill="#5a86c8" opacity="0.8"/>
<circle cx="315.34" cy="534.40" r="0.50" fill="#5a86c8" opacity="0.8"/>
<circle cx="321.98" cy="531.06" r="0.50" fill="#6f93c9" opacity="0.8"/>
<circle cx="314.85" cy="532.06" r="0.50" fill="#5a86c8" opacity="0.8"/>
<circle cx="315.22" cy="530.14" r="0.50" fill="#4a7cc0" opacity="0.8"/>
<circle cx="310.11" cy="530.53" r="0.50" fill="#6f93c9" opacity="0.8"/>
<circle cx="313.30" cy="532.50" r="0.50" fill="#3f9aa0" opacity="0.8"/>
<circle cx="308.45" cy="536.55" r="0.50" fill="#3f9aa0" opacity="0.8"/>
<circle cx="315.76" cy="531.73" r="0.50" fill="#5a86c8" opacity="0.8"/>
<circle cx="313.84" cy="527.11" r="0.50" fill="#6f93c9" opacity="0.8"/>
<circle cx="310.25" cy="529.26" r="0.50" fill="#4a7cc0" opacity="0.8"/>
<circle cx="307.11" cy="532.42" r="0.50" fill="#6f93c9" opacity="0.8"/>
<circle cx="312.07" cy="533.54" r="0.50" fill="#4a7cc0" opacity="0.8"/>
<circle cx="310.14" cy="529.41" r="0.50" fill="#4a7cc0" opacity="0.8"/>
<circle cx="319.40" cy="530.22" r="0.50" fill="#7a9ad0" opacity="0.8"/>
<circle cx="315.52" cy="535.52" r="0.50" fill="#3f9aa0" opacity="0.8"/>
<circle cx="316.61" cy="524.02" r="0.50" fill="#6f93c9" opacity="0.8"/>
<circle cx="311.42" cy="530.31" r="0.50" fill="#5a86c8" opacity="0.8"/>
<circle cx="314.92" cy="529.29" r="0.50" fill="#7a9ad0" opacity="0.8"/>
<circle cx="317.31" cy="526.43" r="0.50" fill="#7a9ad0" opacity="0.8"/>
<circle cx="315.23" cy="528.28" r="0.50" fill="#4a7cc0" opacity="0.8"/>
<circle cx="310.57" cy="536.73" r="0.50" fill="#7a9ad0" opacity="0.8"/>
<circle cx="316.37" cy="531.68" r="0.50" fill="#7a9ad0" opacity="0.8"/>
<circle cx="311.83" cy="527.95" r="0.50" fill="#6f93c9" opacity="0.8"/>
<circle cx="317.46" cy="529.53" r="0.50" fill="#6f93c9" opacity="0.8"/>
<circle cx="307.88" cy="532.63" r="0.50" fill="#6f93c9" opacity="0.8"/>
<circle cx="317.21" cy="531.40" r="0.50" fill="#4a7cc0" opacity="0.8"/>
<circle cx="311.52" cy="530.68" r="0.50" fill="#6f93c9" opacity="0.8"/>
<g filter="url(#bl)" opacity="1.0" transform="translate(312.00,539.20) rotate(0)">
<ellipse cx="0" cy="0" rx="6.40" ry="6.40" fill="#2f9a6a"/>
<ellipse cx="0" cy="0" rx="5.25" ry="5.25" fill="#5cba48"/>
<ellipse cx="0" cy="0" rx="4.10" ry="4.10" fill="#f0e02c"/>
<ellipse cx="0" cy="0" rx="3.07" ry="3.07" fill="#f59a22"/>
<ellipse cx="0" cy="0" rx="2.05" ry="2.05" fill="#e62a1e"/>
</g>
<rect x="303.00" y="492.80" width="48.40" height="53.90" fill="none" stroke="#5f6078" stroke-width="0.9"/>
<line x1="325.00" y1="492.80" x2="325.00" y2="546.70" stroke="#4e5064" stroke-width="0.9"/>
<line x1="303.00" y1="527.40" x2="351.40" y2="527.40" stroke="#4e5064" stroke-width="0.9"/>
<text x="304.00" y="498.01" font-size="5.3" fill="#d3344e" stroke="#d3344e" stroke-width="0.04">11.50%</text>
<text x="350.40" y="498.01" font-size="5.3" text-anchor="end" fill="#d3344e" stroke="#d3344e" stroke-width="0.04">1.99%</text>
<text x="350.40" y="545.41" font-size="5.3" text-anchor="end" fill="#d3344e" stroke="#d3344e" stroke-width="0.04">0.22%</text>
<text x="303.80" y="546.04" font-size="2.6" fill="#333" stroke="#333" stroke-width="0.1">&#8226;&#8226;&#8226;</text>
<text x="302.00" y="500.06" font-size="4.6" text-anchor="end" fill="#555">10<tspan dy="-1" font-size="2.4">4</tspan></text>
<line x1="302.10" y1="498.40" x2="303.00" y2="498.40" stroke="#777" stroke-width="0.5"/>
<text x="302.00" y="517.86" font-size="4.6" text-anchor="end" fill="#555">10<tspan dy="-1" font-size="2.4">3</tspan></text>
<line x1="302.10" y1="516.20" x2="303.00" y2="516.20" stroke="#777" stroke-width="0.5"/>
<text x="302.00" y="535.56" font-size="4.6" text-anchor="end" fill="#555">10<tspan dy="-1" font-size="2.4">2</tspan></text>
<line x1="302.10" y1="533.90" x2="303.00" y2="533.90" stroke="#777" stroke-width="0.5"/>
<text x="302.00" y="545.16" font-size="4.6" text-anchor="end" fill="#555">-10<tspan dy="-1" font-size="2.4">2</tspan></text>
<line x1="302.10" y1="543.50" x2="303.00" y2="543.50" stroke="#777" stroke-width="0.5"/>
<text x="0" y="1.51" font-size="4.2" text-anchor="middle" fill="#5a5a5a" transform="translate(304.20,552.50) rotate(-60)">10<tspan dy="-1" font-size="2.6">3</tspan></text>
<text x="0" y="1.51" font-size="4.2" text-anchor="middle" fill="#5a5a5a" transform="translate(309.40,552.50) rotate(-60)">10<tspan dy="-1" font-size="2.6">3</tspan></text>
<text x="0" y="1.51" font-size="4.2" text-anchor="middle" fill="#5a5a5a" transform="translate(316.30,552.50) rotate(-60)">10<tspan dy="-1" font-size="2.6">3</tspan></text>
<text x="0" y="1.51" font-size="4.2" text-anchor="middle" fill="#5a5a5a" transform="translate(330.20,552.50) rotate(-60)">10<tspan dy="-1" font-size="2.6">3</tspan></text>
<text x="0" y="1.51" font-size="4.2" text-anchor="middle" fill="#5a5a5a" transform="translate(343.20,552.50) rotate(-60)">10<tspan dy="-1" font-size="2.6">3</tspan></text>
<circle cx="382.92" cy="534.77" r="0.40" fill="#a9b8d6" opacity="0.75"/>
<circle cx="392.29" cy="526.41" r="0.40" fill="#7fa0c8" opacity="0.75"/>
<circle cx="402.00" cy="511.71" r="0.40" fill="#8aa6d0" opacity="0.75"/>
<circle cx="394.59" cy="521.69" r="0.40" fill="#b9c4da" opacity="0.75"/>
<circle cx="390.12" cy="525.64" r="0.40" fill="#8aa6d0" opacity="0.75"/>
<circle cx="389.90" cy="519.11" r="0.40" fill="#a9b8d6" opacity="0.75"/>
<circle cx="380.60" cy="537.61" r="0.40" fill="#7fa0c8" opacity="0.75"/>
<circle cx="384.59" cy="533.22" r="0.40" fill="#a9b8d6" opacity="0.75"/>
<circle cx="392.56" cy="523.12" r="0.40" fill="#7fa0c8" opacity="0.75"/>
<circle cx="381.40" cy="534.32" r="0.40" fill="#8aa6d0" opacity="0.75"/>
<circle cx="401.06" cy="507.53" r="0.40" fill="#8aa6d0" opacity="0.75"/>
<circle cx="380.79" cy="540.50" r="0.40" fill="#7fa0c8" opacity="0.75"/>
<circle cx="381.34" cy="529.54" r="0.40" fill="#a9b8d6" opacity="0.75"/>
<circle cx="383.47" cy="534.05" r="0.40" fill="#a9b8d6" opacity="0.75"/>
<circle cx="381.59" cy="534.33" r="0.40" fill="#8aa6d0" opacity="0.75"/>
<circle cx="383.19" cy="537.16" r="0.40" fill="#b9c4da" opacity="0.75"/>
<circle cx="393.83" cy="525.10" r="0.40" fill="#a9b8d6" opacity="0.75"/>
<circle cx="386.71" cy="525.00" r="0.40" fill="#b9c4da" opacity="0.75"/>
<circle cx="395.44" cy="517.40" r="0.40" fill="#8aa6d0" opacity="0.75"/>
<circle cx="400.71" cy="510.58" r="0.40" fill="#b9c4da" opacity="0.75"/>
<circle cx="380.23" cy="535.64" r="0.40" fill="#7fa0c8" opacity="0.75"/>
<circle cx="382.19" cy="533.36" r="0.40" fill="#7fa0c8" opacity="0.75"/>
<circle cx="399.82" cy="506.06" r="0.40" fill="#7fa0c8" opacity="0.75"/>
<circle cx="393.66" cy="526.40" r="0.40" fill="#8aa6d0" opacity="0.75"/>
<circle cx="396.49" cy="521.08" r="0.40" fill="#a9b8d6" opacity="0.75"/>
<circle cx="384.76" cy="532.66" r="0.45" fill="#6f93c9" opacity="0.8"/>
<circle cx="384.60" cy="531.92" r="0.45" fill="#5a86c8" opacity="0.8"/>
<circle cx="397.42" cy="523.85" r="0.45" fill="#6f93c9" opacity="0.8"/>
<circle cx="399.55" cy="516.99" r="0.45" fill="#7a9ad0" opacity="0.8"/>
<circle cx="395.02" cy="529.29" r="0.45" fill="#6f93c9" opacity="0.8"/>
<circle cx="401.02" cy="518.11" r="0.45" fill="#7a9ad0" opacity="0.8"/>
<circle cx="399.80" cy="512.16" r="0.45" fill="#4a7cc0" opacity="0.8"/>
<circle cx="406.02" cy="509.70" r="0.45" fill="#7a9ad0" opacity="0.8"/>
<circle cx="399.26" cy="526.89" r="0.45" fill="#4a7cc0" opacity="0.8"/>
<circle cx="388.20" cy="524.74" r="0.45" fill="#3f9aa0" opacity="0.8"/>
<circle cx="409.51" cy="507.47" r="0.45" fill="#3f9aa0" opacity="0.8"/>
<circle cx="388.94" cy="532.14" r="0.45" fill="#7a9ad0" opacity="0.8"/>
<circle cx="382.71" cy="531.01" r="0.45" fill="#5a86c8" opacity="0.8"/>
<circle cx="403.36" cy="524.24" r="0.45" fill="#7a9ad0" opacity="0.8"/>
<circle cx="403.63" cy="505.40" r="0.45" fill="#4a7cc0" opacity="0.8"/>
<circle cx="397.68" cy="517.24" r="0.45" fill="#5a86c8" opacity="0.8"/>
<circle cx="393.54" cy="525.85" r="0.45" fill="#6f93c9" opacity="0.8"/>
<circle cx="391.80" cy="520.45" r="0.45" fill="#5a86c8" opacity="0.8"/>
<circle cx="402.22" cy="514.80" r="0.45" fill="#4a7cc0" opacity="0.8"/>
<circle cx="404.88" cy="518.83" r="0.45" fill="#3f9aa0" opacity="0.8"/>
<circle cx="393.58" cy="529.98" r="0.45" fill="#5a86c8" opacity="0.8"/>
<circle cx="390.32" cy="522.41" r="0.45" fill="#3f9aa0" opacity="0.8"/>
<circle cx="390.04" cy="528.27" r="0.45" fill="#5a86c8" opacity="0.8"/>
<circle cx="388.56" cy="530.25" r="0.45" fill="#5a86c8" opacity="0.8"/>
<circle cx="382.08" cy="534.52" r="0.45" fill="#3f9aa0" opacity="0.8"/>
<circle cx="390.47" cy="522.36" r="0.45" fill="#7a9ad0" opacity="0.8"/>
<circle cx="400.32" cy="511.86" r="0.45" fill="#5a86c8" opacity="0.8"/>
<circle cx="384.13" cy="534.66" r="0.45" fill="#3f9aa0" opacity="0.8"/>
<circle cx="386.24" cy="531.07" r="0.45" fill="#4a7cc0" opacity="0.8"/>
<circle cx="390.11" cy="539.66" r="0.45" fill="#3f9aa0" opacity="0.8"/>
<circle cx="400.24" cy="514.02" r="0.45" fill="#6f93c9" opacity="0.8"/>
<circle cx="393.21" cy="521.00" r="0.45" fill="#6f93c9" opacity="0.8"/>
<circle cx="390.38" cy="521.03" r="0.45" fill="#4a7cc0" opacity="0.8"/>
<circle cx="391.88" cy="521.53" r="0.45" fill="#7a9ad0" opacity="0.8"/>
<circle cx="405.06" cy="513.92" r="0.45" fill="#6f93c9" opacity="0.8"/>
<circle cx="395.51" cy="528.70" r="0.45" fill="#4a7cc0" opacity="0.8"/>
<circle cx="392.23" cy="521.21" r="0.45" fill="#6f93c9" opacity="0.8"/>
<circle cx="387.29" cy="532.96" r="0.45" fill="#4a7cc0" opacity="0.8"/>
<circle cx="398.40" cy="518.10" r="0.45" fill="#7a9ad0" opacity="0.8"/>
<circle cx="391.17" cy="517.71" r="0.45" fill="#5a86c8" opacity="0.8"/>
<circle cx="388.53" cy="536.64" r="0.45" fill="#7a9ad0" opacity="0.8"/>
<circle cx="385.03" cy="532.87" r="0.45" fill="#5a86c8" opacity="0.8"/>
<circle cx="388.70" cy="524.76" r="0.45" fill="#4a7cc0" opacity="0.8"/>
<circle cx="402.07" cy="513.83" r="0.45" fill="#3f9aa0" opacity="0.8"/>
<circle cx="405.14" cy="519.85" r="0.45" fill="#5a86c8" opacity="0.8"/>
<circle cx="391.03" cy="516.33" r="0.45" fill="#4a7cc0" opacity="0.8"/>
<circle cx="401.91" cy="519.05" r="0.45" fill="#3f9aa0" opacity="0.8"/>
<circle cx="391.98" cy="521.94" r="0.45" fill="#4a7cc0" opacity="0.8"/>
<circle cx="398.62" cy="514.09" r="0.45" fill="#3f9aa0" opacity="0.8"/>
<circle cx="394.16" cy="520.01" r="0.45" fill="#5a86c8" opacity="0.8"/>
<circle cx="392.96" cy="518.52" r="0.45" fill="#3f9aa0" opacity="0.8"/>
<circle cx="392.83" cy="528.49" r="0.45" fill="#6f93c9" opacity="0.8"/>
<circle cx="392.92" cy="520.32" r="0.45" fill="#7a9ad0" opacity="0.8"/>
<circle cx="401.79" cy="525.62" r="0.45" fill="#7a9ad0" opacity="0.8"/>
<circle cx="399.60" cy="516.95" r="0.45" fill="#4a7cc0" opacity="0.8"/>
<circle cx="383.75" cy="535.37" r="0.45" fill="#6f93c9" opacity="0.8"/>
<circle cx="388.90" cy="525.45" r="0.45" fill="#4a7cc0" opacity="0.8"/>
<circle cx="399.87" cy="516.77" r="0.45" fill="#7a9ad0" opacity="0.8"/>
<circle cx="398.77" cy="519.14" r="0.45" fill="#7a9ad0" opacity="0.8"/>
<circle cx="377.08" cy="541.33" r="0.45" fill="#5a86c8" opacity="0.8"/>
<circle cx="404.44" cy="515.00" r="0.45" fill="#7a9ad0" opacity="0.8"/>
<circle cx="395.85" cy="521.87" r="0.45" fill="#6f93c9" opacity="0.8"/>
<circle cx="395.76" cy="522.73" r="0.45" fill="#4a7cc0" opacity="0.8"/>
<circle cx="390.02" cy="529.41" r="0.45" fill="#7a9ad0" opacity="0.8"/>
<circle cx="387.74" cy="524.83" r="0.45" fill="#3f9aa0" opacity="0.8"/>
<circle cx="399.73" cy="517.72" r="0.45" fill="#5a86c8" opacity="0.8"/>
<circle cx="394.69" cy="522.18" r="0.45" fill="#4a7cc0" opacity="0.8"/>
<circle cx="401.72" cy="516.76" r="0.45" fill="#3f9aa0" opacity="0.8"/>
<circle cx="390.32" cy="518.97" r="0.45" fill="#3f9aa0" opacity="0.8"/>
<circle cx="399.01" cy="518.09" r="0.45" fill="#6f93c9" opacity="0.8"/>
<circle cx="398.12" cy="522.12" r="0.45" fill="#6f93c9" opacity="0.8"/>
<circle cx="388.47" cy="524.80" r="0.45" fill="#4a7cc0" opacity="0.8"/>
<circle cx="390.49" cy="536.39" r="0.45" fill="#5a86c8" opacity="0.8"/>
<circle cx="388.06" cy="537.01" r="0.45" fill="#3f9aa0" opacity="0.8"/>
<circle cx="401.19" cy="508.34" r="0.45" fill="#6f93c9" opacity="0.8"/>
<circle cx="389.29" cy="524.77" r="0.45" fill="#6f93c9" opacity="0.8"/>
<circle cx="404.47" cy="511.17" r="0.45" fill="#5a86c8" opacity="0.8"/>
<circle cx="395.03" cy="521.74" r="0.45" fill="#6f93c9" opacity="0.8"/>
<circle cx="390.78" cy="530.71" r="0.45" fill="#5a86c8" opacity="0.8"/>
<circle cx="386.50" cy="534.30" r="0.45" fill="#7a9ad0" opacity="0.8"/>
<circle cx="388.88" cy="523.64" r="0.45" fill="#4a7cc0" opacity="0.8"/>
<circle cx="396.60" cy="505.04" r="0.45" fill="#6f93c9" opacity="0.8"/>
<circle cx="394.17" cy="522.62" r="0.45" fill="#3f9aa0" opacity="0.8"/>
<circle cx="400.04" cy="512.30" r="0.45" fill="#5a86c8" opacity="0.8"/>
<circle cx="405.38" cy="510.48" r="0.45" fill="#7a9ad0" opacity="0.8"/>
<circle cx="387.41" cy="531.27" r="0.45" fill="#3f9aa0" opacity="0.8"/>
<circle cx="396.86" cy="515.39" r="0.45" fill="#5a86c8" opacity="0.8"/>
<circle cx="400.18" cy="521.28" r="0.45" fill="#7a9ad0" opacity="0.8"/>
<circle cx="391.86" cy="526.87" r="0.45" fill="#7a9ad0" opacity="0.8"/>
<circle cx="401.32" cy="516.66" r="0.45" fill="#5a86c8" opacity="0.8"/>
<circle cx="384.32" cy="539.68" r="0.45" fill="#3f9aa0" opacity="0.8"/>
<circle cx="388.45" cy="520.33" r="0.45" fill="#6f93c9" opacity="0.8"/>
<circle cx="384.95" cy="531.57" r="0.45" fill="#7a9ad0" opacity="0.8"/>
<circle cx="400.06" cy="517.96" r="0.45" fill="#5a86c8" opacity="0.8"/>
<circle cx="376.92" cy="539.93" r="0.45" fill="#6f93c9" opacity="0.8"/>
<circle cx="401.78" cy="514.94" r="0.45" fill="#4a7cc0" opacity="0.8"/>
<circle cx="382.62" cy="542.18" r="0.45" fill="#4a7cc0" opacity="0.8"/>
<circle cx="402.97" cy="512.44" r="0.45" fill="#7a9ad0" opacity="0.8"/>
<circle cx="403.68" cy="515.21" r="0.45" fill="#5a86c8" opacity="0.8"/>
<circle cx="385.35" cy="522.93" r="0.45" fill="#6f93c9" opacity="0.8"/>
<circle cx="392.45" cy="528.61" r="0.45" fill="#6f93c9" opacity="0.8"/>
<circle cx="396.33" cy="520.15" r="0.45" fill="#4a7cc0" opacity="0.8"/>
<circle cx="394.25" cy="523.07" r="0.45" fill="#4a7cc0" opacity="0.8"/>
<circle cx="395.77" cy="516.31" r="0.45" fill="#3f9aa0" opacity="0.8"/>
<circle cx="395.33" cy="523.89" r="0.45" fill="#7a9ad0" opacity="0.8"/>
<circle cx="397.28" cy="517.78" r="0.45" fill="#5a86c8" opacity="0.8"/>
<circle cx="384.73" cy="531.30" r="0.45" fill="#6f93c9" opacity="0.8"/>
<g filter="url(#bl)" opacity="1.0" transform="translate(393.00,524.00) rotate(36)">
<ellipse cx="0" cy="0" rx="4.20" ry="19.00" fill="#3f7fba"/>
<ellipse cx="0" cy="0" rx="3.28" ry="14.82" fill="#22988a"/>
<ellipse cx="0" cy="0" rx="2.31" ry="10.45" fill="#6cbd3e"/>
</g>
<g filter="url(#bl)" opacity="1.0" transform="translate(398.20,518.00) rotate(20)">
<ellipse cx="0" cy="0" rx="2.40" ry="9.00" fill="#f0e030"/>
<ellipse cx="0" cy="0" rx="1.80" ry="6.75" fill="#f59a22"/>
<ellipse cx="0" cy="0" rx="1.08" ry="4.05" fill="#e04a1e"/>
</g>
<g filter="url(#bl)" opacity="1.0" transform="translate(391.00,520.50) rotate(30)">
<ellipse cx="0" cy="0" rx="2.00" ry="4.60" fill="#f0e030"/>
<ellipse cx="0" cy="0" rx="1.20" ry="2.76" fill="#f59a22"/>
</g>
<g filter="url(#bl)" opacity="1.0" transform="translate(384.60,539.20) rotate(0)">
<ellipse cx="0" cy="0" rx="3.60" ry="3.60" fill="#6aa850"/>
<ellipse cx="0" cy="0" rx="2.52" ry="2.52" fill="#d8d040"/>
<ellipse cx="0" cy="0" rx="1.62" ry="1.62" fill="#f59a22"/>
</g>
<rect x="375.10" y="492.90" width="48.80" height="54.00" fill="none" stroke="#5f6078" stroke-width="0.9"/>
<line x1="396.80" y1="492.90" x2="396.80" y2="546.90" stroke="#4e5064" stroke-width="0.9"/>
<line x1="375.10" y1="527.90" x2="423.90" y2="527.90" stroke="#4e5064" stroke-width="0.9"/>
<text x="376.10" y="498.11" font-size="5.3" fill="#d3344e" stroke="#d3344e" stroke-width="0.04">27.21%</text>
<text x="422.90" y="498.11" font-size="5.3" text-anchor="end" fill="#d3344e" stroke="#d3344e" stroke-width="0.04">32.48%</text>
<text x="422.90" y="545.61" font-size="5.3" text-anchor="end" fill="#d3344e" stroke="#d3344e" stroke-width="0.04">1.49%</text>
<text x="375.90" y="546.24" font-size="2.6" fill="#333" stroke="#333" stroke-width="0.1">&#8226;&#8226;&#8226;</text>
<text x="374.10" y="500.16" font-size="4.6" text-anchor="end" fill="#555">10<tspan dy="-1" font-size="2.4">4</tspan></text>
<line x1="374.20" y1="498.50" x2="375.10" y2="498.50" stroke="#777" stroke-width="0.5"/>
<text x="374.10" y="517.96" font-size="4.6" text-anchor="end" fill="#555">10<tspan dy="-1" font-size="2.4">3</tspan></text>
<line x1="374.20" y1="516.30" x2="375.10" y2="516.30" stroke="#777" stroke-width="0.5"/>
<text x="374.10" y="535.76" font-size="4.6" text-anchor="end" fill="#555">10<tspan dy="-1" font-size="2.4">2</tspan></text>
<line x1="374.20" y1="534.10" x2="375.10" y2="534.10" stroke="#777" stroke-width="0.5"/>
<text x="374.10" y="545.36" font-size="4.6" text-anchor="end" fill="#555">-10<tspan dy="-1" font-size="2.4">2</tspan></text>
<line x1="374.20" y1="543.70" x2="375.10" y2="543.70" stroke="#777" stroke-width="0.5"/>
<text x="0" y="1.51" font-size="4.2" text-anchor="middle" fill="#5a5a5a" transform="translate(376.30,552.70) rotate(-60)">10<tspan dy="-1" font-size="2.6">3</tspan></text>
<text x="0" y="1.51" font-size="4.2" text-anchor="middle" fill="#5a5a5a" transform="translate(381.50,552.70) rotate(-60)">10<tspan dy="-1" font-size="2.6">3</tspan></text>
<text x="0" y="1.51" font-size="4.2" text-anchor="middle" fill="#5a5a5a" transform="translate(388.40,552.70) rotate(-60)">10<tspan dy="-1" font-size="2.6">3</tspan></text>
<text x="0" y="1.51" font-size="4.2" text-anchor="middle" fill="#5a5a5a" transform="translate(402.30,552.70) rotate(-60)">10<tspan dy="-1" font-size="2.6">3</tspan></text>
<text x="0" y="1.51" font-size="4.2" text-anchor="middle" fill="#5a5a5a" transform="translate(415.30,552.70) rotate(-60)">10<tspan dy="-1" font-size="2.6">3</tspan></text>
<defs><filter id="bb" x="-30%" y="-80%" width="160%" height="260%"><feGaussianBlur stdDeviation="0.5"/></filter><filter id="bb2" x="-30%" y="-80%" width="160%" height="260%"><feGaussianBlur stdDeviation="0.9"/></filter></defs>
<text x="66.30" y="600.85" font-size="6.8" fill="#222" stroke="#222" stroke-width="0.1" textLength="19.3" lengthAdjust="spacingAndGlyphs">TL4-12</text>
<text x="66.30" y="608.45" font-size="6.8" fill="#222" stroke="#222" stroke-width="0.1" textLength="30.8" lengthAdjust="spacingAndGlyphs">Iberdomide</text>
<text x="97.10" y="617.67" font-size="6.3" text-anchor="end" fill="#222" stroke="#222" stroke-width="0.1">c-MYC</text>
<text x="97.10" y="634.97" font-size="6.3" text-anchor="end" fill="#222" stroke="#222" stroke-width="0.1">IKZF1</text>
<text x="97.10" y="653.27" font-size="6.3" text-anchor="end" fill="#222" stroke="#222" stroke-width="0.1">IKZF3</text>
<text x="97.10" y="671.47" font-size="6.3" text-anchor="end" fill="#222" stroke="#222" stroke-width="0.1">&#946;-Actin</text>
<rect x="101.00" y="609.20" width="81.50" height="12.10" fill="#ededed" stroke="#222" stroke-width="1.1"/>
<rect x="101.00" y="625.70" width="81.50" height="14.40" fill="#ededed" stroke="#222" stroke-width="1.1"/>
<rect x="101.00" y="644.20" width="81.50" height="14.20" fill="#ededed" stroke="#222" stroke-width="1.1"/>
<rect x="101.00" y="662.00" width="81.50" height="14.10" fill="#ededed" stroke="#222" stroke-width="1.1"/>
<text x="111.40" y="600.86" font-size="6.0" text-anchor="middle" fill="#555" stroke="#555" stroke-width="0.1">&#8211;</text>
<text x="111.40" y="608.16" font-size="6.0" text-anchor="middle" fill="#555" stroke="#555" stroke-width="0.1">&#8211;</text>
<text x="131.70" y="600.86" font-size="6.0" text-anchor="middle" fill="#555" stroke="#555" stroke-width="0.1">+</text>
<text x="131.70" y="608.16" font-size="6.0" text-anchor="middle" fill="#555" stroke="#555" stroke-width="0.1">&#8211;</text>
<text x="152.10" y="600.86" font-size="6.0" text-anchor="middle" fill="#555" stroke="#555" stroke-width="0.1">&#8211;</text>
<text x="152.10" y="608.16" font-size="6.0" text-anchor="middle" fill="#555" stroke="#555" stroke-width="0.1">+</text>
<text x="173.20" y="600.86" font-size="6.0" text-anchor="middle" fill="#555" stroke="#555" stroke-width="0.1">+</text>
<text x="173.20" y="608.16" font-size="6.0" text-anchor="middle" fill="#555" stroke="#555" stroke-width="0.1">+</text>
<text x="141.75" y="685.18" font-size="6.6" text-anchor="middle" fill="#222" stroke="#222" stroke-width="0.1">MM.1S</text>
<rect x="191.20" y="609.20" width="81.20" height="12.10" fill="#ededed" stroke="#222" stroke-width="1.1"/>
<rect x="191.20" y="625.70" width="81.20" height="14.40" fill="#ededed" stroke="#222" stroke-width="1.1"/>
<rect x="191.20" y="644.20" width="81.20" height="14.20" fill="#ededed" stroke="#222" stroke-width="1.1"/>
<rect x="191.20" y="662.00" width="81.20" height="14.10" fill="#ededed" stroke="#222" stroke-width="1.1"/>
<text x="197.80" y="600.86" font-size="6.0" text-anchor="middle" fill="#555" stroke="#555" stroke-width="0.1">&#8211;</text>
<text x="197.80" y="608.16" font-size="6.0" text-anchor="middle" fill="#555" stroke="#555" stroke-width="0.1">&#8211;</text>
<text x="218.90" y="600.86" font-size="6.0" text-anchor="middle" fill="#555" stroke="#555" stroke-width="0.1">+</text>
<text x="218.90" y="608.16" font-size="6.0" text-anchor="middle" fill="#555" stroke="#555" stroke-width="0.1">&#8211;</text>
<text x="239.70" y="600.86" font-size="6.0" text-anchor="middle" fill="#555" stroke="#555" stroke-width="0.1">&#8211;</text>
<text x="239.70" y="608.16" font-size="6.0" text-anchor="middle" fill="#555" stroke="#555" stroke-width="0.1">+</text>
<text x="257.00" y="600.86" font-size="6.0" text-anchor="middle" fill="#555" stroke="#555" stroke-width="0.1">+</text>
<text x="257.00" y="608.16" font-size="6.0" text-anchor="middle" fill="#555" stroke="#555" stroke-width="0.1">+</text>
<text x="231.80" y="685.18" font-size="6.6" text-anchor="middle" fill="#222" stroke="#222" stroke-width="0.1">H929</text>
<rect x="281.30" y="609.20" width="81.50" height="12.10" fill="#ededed" stroke="#222" stroke-width="1.1"/>
<rect x="281.30" y="625.70" width="81.50" height="14.40" fill="#ededed" stroke="#222" stroke-width="1.1"/>
<rect x="281.30" y="644.20" width="81.50" height="14.20" fill="#ededed" stroke="#222" stroke-width="1.1"/>
<rect x="281.30" y="662.00" width="81.50" height="14.10" fill="#ededed" stroke="#222" stroke-width="1.1"/>
<text x="289.80" y="600.86" font-size="6.0" text-anchor="middle" fill="#555" stroke="#555" stroke-width="0.1">&#8211;</text>
<text x="289.80" y="608.16" font-size="6.0" text-anchor="middle" fill="#555" stroke="#555" stroke-width="0.1">&#8211;</text>
<text x="308.70" y="600.86" font-size="6.0" text-anchor="middle" fill="#555" stroke="#555" stroke-width="0.1">+</text>
<text x="308.70" y="608.16" font-size="6.0" text-anchor="middle" fill="#555" stroke="#555" stroke-width="0.1">&#8211;</text>
<text x="327.50" y="600.86" font-size="6.0" text-anchor="middle" fill="#555" stroke="#555" stroke-width="0.1">&#8211;</text>
<text x="327.50" y="608.16" font-size="6.0" text-anchor="middle" fill="#555" stroke="#555" stroke-width="0.1">+</text>
<text x="346.40" y="600.86" font-size="6.0" text-anchor="middle" fill="#555" stroke="#555" stroke-width="0.1">+</text>
<text x="346.40" y="608.16" font-size="6.0" text-anchor="middle" fill="#555" stroke="#555" stroke-width="0.1">+</text>
<text x="322.05" y="685.18" font-size="6.6" text-anchor="middle" fill="#222" stroke="#222" stroke-width="0.1">U266</text>
<rect x="372.30" y="609.20" width="81.20" height="12.10" fill="#ededed" stroke="#222" stroke-width="1.1"/>
<rect x="372.30" y="625.70" width="81.20" height="14.40" fill="#ededed" stroke="#222" stroke-width="1.1"/>
<rect x="372.30" y="644.20" width="81.20" height="14.20" fill="#ededed" stroke="#222" stroke-width="1.1"/>
<rect x="372.30" y="662.00" width="81.20" height="14.10" fill="#ededed" stroke="#222" stroke-width="1.1"/>
<text x="380.00" y="600.86" font-size="6.0" text-anchor="middle" fill="#555" stroke="#555" stroke-width="0.1">&#8211;</text>
<text x="380.00" y="608.16" font-size="6.0" text-anchor="middle" fill="#555" stroke="#555" stroke-width="0.1">&#8211;</text>
<text x="403.10" y="600.86" font-size="6.0" text-anchor="middle" fill="#555" stroke="#555" stroke-width="0.1">+</text>
<text x="403.10" y="608.16" font-size="6.0" text-anchor="middle" fill="#555" stroke="#555" stroke-width="0.1">&#8211;</text>
<text x="424.00" y="600.86" font-size="6.0" text-anchor="middle" fill="#555" stroke="#555" stroke-width="0.1">&#8211;</text>
<text x="424.00" y="608.16" font-size="6.0" text-anchor="middle" fill="#555" stroke="#555" stroke-width="0.1">+</text>
<text x="444.60" y="600.86" font-size="6.0" text-anchor="middle" fill="#555" stroke="#555" stroke-width="0.1">+</text>
<text x="444.60" y="608.16" font-size="6.0" text-anchor="middle" fill="#555" stroke="#555" stroke-width="0.1">+</text>
<text x="412.90" y="685.18" font-size="6.6" text-anchor="middle" fill="#222" stroke="#222" stroke-width="0.1">LP1</text>
<rect x="103.50" y="614.70" width="16.00" height="3.20" rx="2.88" ry="1.60" fill="#111" opacity="1.0" filter="url(#bb)"/>
<rect x="123.20" y="615.20" width="16.60" height="2.60" rx="2.50" ry="1.30" fill="#4a4a4a" opacity="1.0" filter="url(#bb)"/>
<rect x="144.20" y="615.00" width="15.00" height="2.80" rx="2.52" ry="1.40" fill="#3a3a3a" opacity="1.0" filter="url(#bb)"/>
<rect x="164.00" y="615.70" width="14.60" height="2.20" rx="2.50" ry="1.10" fill="#7a7a7a" opacity="1.0" filter="url(#bb)"/>
<rect x="103.20" y="628.70" width="17.30" height="5.40" rx="4.86" ry="2.70" fill="#0a0a0a" opacity="1.0" filter="url(#bb)"/>
<rect x="103.50" y="635.00" width="17.00" height="3.60" rx="3.24" ry="1.80" fill="#111" opacity="1.0" filter="url(#bb)"/>
<rect x="123.20" y="629.30" width="16.80" height="5.00" rx="4.50" ry="2.50" fill="#0a0a0a" opacity="1.0" filter="url(#bb)"/>
<rect x="123.80" y="635.70" width="16.20" height="2.80" rx="2.52" ry="1.40" fill="#1a1a1a" opacity="1.0" filter="url(#bb)"/>
<rect x="146.00" y="632.20" width="14.00" height="1.60" rx="2.50" ry="0.80" fill="#b8b8b8" opacity="1.0" filter="url(#bb)"/>
<rect x="165.00" y="632.40" width="14.00" height="1.60" rx="2.50" ry="0.80" fill="#c4c4c4" opacity="1.0" filter="url(#bb)"/>
<rect x="102.70" y="648.70" width="16.50" height="3.60" rx="3.24" ry="1.80" fill="#0d0d0d" opacity="1.0" filter="url(#bb)"/>
<rect x="121.70" y="649.30" width="18.30" height="3.40" rx="3.06" ry="1.70" fill="#0d0d0d" opacity="1.0" filter="url(#bb)"/>
<rect x="143.70" y="650.40" width="14.30" height="1.80" rx="2.50" ry="0.90" fill="#555" opacity="1.0" filter="url(#bb)"/>
<rect x="163.10" y="651.00" width="15.30" height="1.60" rx="2.50" ry="0.80" fill="#777" opacity="1.0" filter="url(#bb)"/>
<rect x="102.50" y="665.20" width="20.00" height="5.60" rx="5.04" ry="2.80" fill="#0a0a0a" opacity="1.0" filter="url(#bb)"/>
<rect x="121.50" y="665.60" width="21.00" height="5.60" rx="5.04" ry="2.80" fill="#0a0a0a" opacity="1.0" filter="url(#bb)"/>
<rect x="141.50" y="665.90" width="21.00" height="5.40" rx="4.86" ry="2.70" fill="#0a0a0a" opacity="1.0" filter="url(#bb)"/>
<rect x="161.00" y="666.20" width="20.00" height="5.40" rx="4.86" ry="2.70" fill="#0a0a0a" opacity="1.0" filter="url(#bb)"/>
<rect x="192.10" y="611.90" width="14.70" height="6.00" rx="5.40" ry="3.00" fill="#080808" opacity="1.0" filter="url(#bb)"/>
<rect x="209.40" y="612.70" width="15.00" height="4.60" rx="4.14" ry="2.30" fill="#0d0d0d" opacity="1.0" filter="url(#bb)"/>
<rect x="228.40" y="613.00" width="14.70" height="3.20" rx="2.88" ry="1.60" fill="#101010" opacity="1.0" filter="url(#bb)"/>
<rect x="247.40" y="614.30" width="15.60" height="1.80" rx="2.50" ry="0.90" fill="#888" opacity="1.0" filter="url(#bb)"/>
<rect x="193.80" y="630.70" width="13.80" height="2.20" rx="2.50" ry="1.10" fill="#333" opacity="1.0" filter="url(#bb)"/>
<rect x="212.00" y="630.70" width="14.70" height="2.20" rx="2.50" ry="1.10" fill="#333" opacity="1.0" filter="url(#bb)"/>
<rect x="193.80" y="635.90" width="13.80" height="1.80" rx="2.50" ry="0.90" fill="#b0b0b0" opacity="1.0" filter="url(#bb)"/>
<rect x="212.00" y="635.90" width="14.70" height="1.80" rx="2.50" ry="0.90" fill="#b8b8b8" opacity="1.0" filter="url(#bb)"/>
<rect x="193.80" y="646.70" width="14.70" height="3.20" rx="2.88" ry="1.60" fill="#0d0d0d" opacity="1.0" filter="url(#bb)"/>
<rect x="193.80" y="652.10" width="14.70" height="3.40" rx="3.06" ry="1.70" fill="#0d0d0d" opacity="1.0" filter="url(#bb)"/>
<rect x="211.10" y="646.50" width="15.60" height="3.00" rx="2.70" ry="1.50" fill="#0d0d0d" opacity="1.0" filter="url(#bb)"/>
<rect x="211.10" y="651.80" width="15.60" height="3.20" rx="2.88" ry="1.60" fill="#0d0d0d" opacity="1.0" filter="url(#bb)"/>
<rect x="194.70" y="667.50" width="14.70" height="3.20" rx="2.88" ry="1.60" fill="#0d0d0d" opacity="1.0" filter="url(#bb)"/>
<rect x="211.10" y="667.40" width="15.60" height="3.40" rx="3.06" ry="1.70" fill="#0d0d0d" opacity="1.0" filter="url(#bb)"/>
<rect x="230.10" y="667.50" width="15.60" height="3.00" rx="2.70" ry="1.50" fill="#0d0d0d" opacity="1.0" filter="url(#bb)"/>
<rect x="248.30" y="667.00" width="18.10" height="3.60" rx="3.24" ry="1.80" fill="#0d0d0d" opacity="1.0" filter="url(#bb)"/>
<rect x="282.90" y="614.50" width="15.60" height="2.40" rx="2.50" ry="1.20" fill="#1a1a1a" opacity="1.0" filter="url(#bb)"/>
<rect x="302.00" y="615.20" width="13.80" height="1.60" rx="2.50" ry="0.80" fill="#aaa" opacity="1.0" filter="url(#bb)"/>
<rect x="321.80" y="614.30" width="15.60" height="2.60" rx="2.50" ry="1.30" fill="#2a2a2a" opacity="1.0" filter="url(#bb)"/>
<rect x="341.70" y="615.00" width="13.30" height="1.80" rx="2.50" ry="0.90" fill="#777" opacity="1.0" filter="url(#bb)"/>
<rect x="282.00" y="629.90" width="16.50" height="2.80" rx="2.52" ry="1.40" fill="#0d0d0d" opacity="1.0" filter="url(#bb)"/>
<rect x="282.00" y="634.60" width="16.50" height="3.00" rx="2.70" ry="1.50" fill="#0d0d0d" opacity="1.0" filter="url(#bb)"/>
<rect x="303.70" y="629.80" width="13.80" height="2.60" rx="2.50" ry="1.30" fill="#0d0d0d" opacity="1.0" filter="url(#bb)"/>
<rect x="303.70" y="634.50" width="13.80" height="3.00" rx="2.70" ry="1.50" fill="#0d0d0d" opacity="1.0" filter="url(#bb)"/>
<rect x="322.00" y="631.00" width="16.00" height="1.20" rx="2.50" ry="0.60" fill="#d4d4d4" opacity="1.0" filter="url(#bb)"/>
<rect x="343.00" y="631.00" width="15.00" height="1.20" rx="2.50" ry="0.60" fill="#d8d8d8" opacity="1.0" filter="url(#bb)"/>
<rect x="284.70" y="649.10" width="16.40" height="3.20" rx="2.88" ry="1.60" fill="#0d0d0d" opacity="1.0" filter="url(#bb)"/>
<rect x="303.70" y="649.20" width="16.40" height="3.00" rx="2.70" ry="1.50" fill="#0d0d0d" opacity="1.0" filter="url(#bb)"/>
<rect x="323.60" y="650.30" width="16.40" height="1.60" rx="2.50" ry="0.80" fill="#999" opacity="1.0" filter="url(#bb)"/>
<rect x="343.50" y="650.40" width="16.40" height="1.40" rx="2.50" ry="0.70" fill="#bbb" opacity="1.0" filter="url(#bb)"/>
<rect x="282.50" y="665.20" width="18.50" height="5.00" rx="4.50" ry="2.50" fill="#0a0a0a" opacity="1.0" filter="url(#bb)"/>
<rect x="301.00" y="665.60" width="18.00" height="4.60" rx="4.14" ry="2.30" fill="#0a0a0a" opacity="1.0" filter="url(#bb)"/>
<rect x="319.50" y="665.90" width="19.50" height="4.80" rx="4.32" ry="2.40" fill="#0a0a0a" opacity="1.0" filter="url(#bb)"/>
<rect x="340.50" y="665.70" width="18.50" height="3.80" rx="3.42" ry="1.90" fill="#0d0d0d" opacity="1.0" filter="url(#bb)"/>
<rect x="375.50" y="611.50" width="16.50" height="5.00" rx="4.50" ry="2.50" fill="#0a0a0a" opacity="1.0" filter="url(#bb)"/>
<rect x="394.50" y="612.30" width="17.30" height="4.00" rx="3.60" ry="2.00" fill="#0d0d0d" opacity="1.0" filter="url(#bb)"/>
<rect x="413.60" y="612.40" width="16.40" height="4.20" rx="3.78" ry="2.10" fill="#0d0d0d" opacity="1.0" filter="url(#bb)"/>
<rect x="432.60" y="613.30" width="14.70" height="2.60" rx="2.50" ry="1.30" fill="#151515" opacity="1.0" filter="url(#bb)"/>
<rect x="376.40" y="632.60" width="13.80" height="3.00" rx="2.70" ry="1.50" fill="#0d0d0d" opacity="1.0" filter="url(#bb)"/>
<rect x="394.50" y="631.70" width="16.80" height="3.60" rx="3.24" ry="1.80" fill="#0d0d0d" opacity="1.0" filter="url(#bb)"/>
<rect x="396.00" y="629.50" width="14.00" height="2.00" rx="2.50" ry="1.00" fill="#bbb" opacity="0.7" filter="url(#bb)"/>
<rect x="374.70" y="649.40" width="17.30" height="3.60" rx="3.24" ry="1.80" fill="#0d0d0d" opacity="1.0" filter="url(#bb)"/>
<rect x="393.70" y="649.00" width="19.90" height="3.60" rx="3.24" ry="1.80" fill="#0d0d0d" opacity="1.0" filter="url(#bb)"/>
<rect x="375.50" y="665.50" width="18.50" height="5.00" rx="4.50" ry="2.50" fill="#0a0a0a" opacity="1.0" filter="url(#bb)"/>
<rect x="393.50" y="665.40" width="20.50" height="5.20" rx="4.68" ry="2.60" fill="#0a0a0a" opacity="1.0" filter="url(#bb)"/>
<rect x="413.50" y="665.80" width="18.50" height="4.80" rx="4.32" ry="2.40" fill="#0a0a0a" opacity="1.0" filter="url(#bb)"/>
<rect x="433.00" y="665.70" width="16.00" height="4.60" rx="4.14" ry="2.30" fill="#0a0a0a" opacity="1.0" filter="url(#bb)"/>
</svg></div>
</body></html>
